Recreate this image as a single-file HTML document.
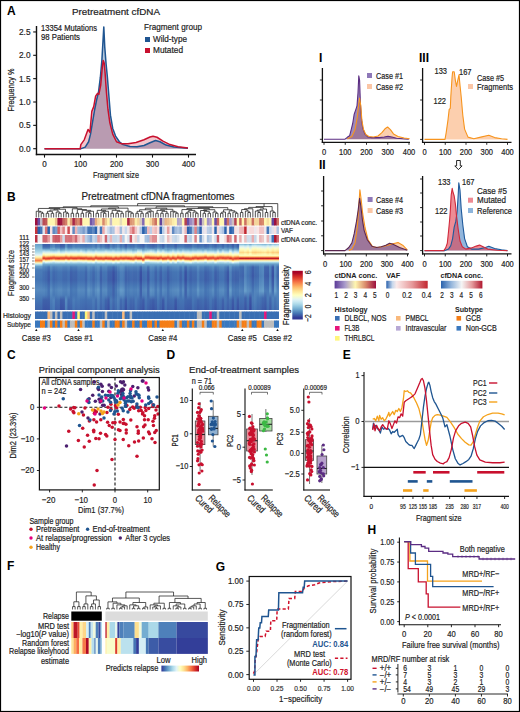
<!DOCTYPE html>
<html><head><meta charset="utf-8"><style>
html,body{margin:0;padding:0;background:#fff;}
svg{display:block;}
text{font-family:"Liberation Sans", sans-serif;}
</style></head><body>
<svg width="520" height="712" viewBox="0 0 520 712">
<rect x="0" y="0" width="520" height="712" fill="#fff"/>
<text x="7.00" y="14.70" font-size="12" font-weight="bold" fill="#000">A</text>
<text x="116.00" y="14.90" font-size="9.6" text-anchor="middle" fill="#222" stroke="#222" stroke-width="0.2" textLength="88" lengthAdjust="spacingAndGlyphs">Pretreatment cfDNA</text>
<line x1="36.50" y1="26.00" x2="36.50" y2="155.20" stroke="#111" stroke-width="1.4"/>
<line x1="35.80" y1="154.50" x2="196.00" y2="154.50" stroke="#111" stroke-width="1.4"/>
<line x1="33.20" y1="148.70" x2="36.00" y2="148.70" stroke="#111" stroke-width="1.1"/>
<text x="30.50" y="151.70" font-size="9.12" text-anchor="end" fill="#222" stroke="#222" stroke-width="0.2" textLength="11.5" lengthAdjust="spacingAndGlyphs">0.0</text>
<line x1="33.20" y1="125.35" x2="36.00" y2="125.35" stroke="#111" stroke-width="1.1"/>
<text x="30.50" y="128.35" font-size="9.12" text-anchor="end" fill="#222" stroke="#222" stroke-width="0.2" textLength="11.5" lengthAdjust="spacingAndGlyphs">0.5</text>
<line x1="33.20" y1="102.00" x2="36.00" y2="102.00" stroke="#111" stroke-width="1.1"/>
<text x="30.50" y="105.00" font-size="9.12" text-anchor="end" fill="#222" stroke="#222" stroke-width="0.2" textLength="11.5" lengthAdjust="spacingAndGlyphs">1.0</text>
<line x1="33.20" y1="78.65" x2="36.00" y2="78.65" stroke="#111" stroke-width="1.1"/>
<text x="30.50" y="81.65" font-size="9.12" text-anchor="end" fill="#222" stroke="#222" stroke-width="0.2" textLength="11.5" lengthAdjust="spacingAndGlyphs">1.5</text>
<line x1="33.20" y1="55.30" x2="36.00" y2="55.30" stroke="#111" stroke-width="1.1"/>
<text x="30.50" y="58.30" font-size="9.12" text-anchor="end" fill="#222" stroke="#222" stroke-width="0.2" textLength="11.5" lengthAdjust="spacingAndGlyphs">2.0</text>
<line x1="33.20" y1="31.95" x2="36.00" y2="31.95" stroke="#111" stroke-width="1.1"/>
<text x="30.50" y="34.95" font-size="9.12" text-anchor="end" fill="#222" stroke="#222" stroke-width="0.2" textLength="11.5" lengthAdjust="spacingAndGlyphs">2.5</text>
<line x1="44.50" y1="155.00" x2="44.50" y2="157.60" stroke="#111" stroke-width="1.1"/>
<text x="44.50" y="167.00" font-size="9.12" text-anchor="middle" fill="#222" stroke="#222" stroke-width="0.2" textLength="4.5" lengthAdjust="spacingAndGlyphs">0</text>
<line x1="80.50" y1="155.00" x2="80.50" y2="157.60" stroke="#111" stroke-width="1.1"/>
<text x="80.50" y="167.00" font-size="9.12" text-anchor="middle" fill="#222" stroke="#222" stroke-width="0.2" textLength="13" lengthAdjust="spacingAndGlyphs">100</text>
<line x1="116.50" y1="155.00" x2="116.50" y2="157.60" stroke="#111" stroke-width="1.1"/>
<text x="116.50" y="167.00" font-size="9.12" text-anchor="middle" fill="#222" stroke="#222" stroke-width="0.2" textLength="13" lengthAdjust="spacingAndGlyphs">200</text>
<line x1="152.50" y1="155.00" x2="152.50" y2="157.60" stroke="#111" stroke-width="1.1"/>
<text x="152.50" y="167.00" font-size="9.12" text-anchor="middle" fill="#222" stroke="#222" stroke-width="0.2" textLength="13" lengthAdjust="spacingAndGlyphs">300</text>
<line x1="188.50" y1="155.00" x2="188.50" y2="157.60" stroke="#111" stroke-width="1.1"/>
<text x="188.50" y="167.00" font-size="9.12" text-anchor="middle" fill="#222" stroke="#222" stroke-width="0.2" textLength="13" lengthAdjust="spacingAndGlyphs">400</text>
<text x="116.00" y="178.00" font-size="9.69" text-anchor="middle" fill="#222" stroke="#222" stroke-width="0.2" textLength="46" lengthAdjust="spacingAndGlyphs">Fragment size</text>
<text x="13.80" y="90.00" font-size="9.69" text-anchor="middle" fill="#222" stroke="#222" stroke-width="0.2" textLength="43" lengthAdjust="spacingAndGlyphs" transform="rotate(-90 13.80 90.00)">Frequency %</text>
<text x="41.00" y="31.00" font-size="8.55" fill="#222" stroke="#222" stroke-width="0.2" textLength="56" lengthAdjust="spacingAndGlyphs">13354 Mutations</text>
<text x="41.00" y="40.00" font-size="8.55" fill="#222" stroke="#222" stroke-width="0.2" textLength="39" lengthAdjust="spacingAndGlyphs">98 Patients</text>
<text x="144.00" y="30.00" font-size="9.69" fill="#222" stroke="#222" stroke-width="0.2" textLength="58" lengthAdjust="spacingAndGlyphs">Fragment group</text>
<rect x="145.00" y="37.00" width="5.00" height="5.00" fill="#1f5591"/>
<text x="153.00" y="42.00" font-size="9.12" fill="#222" stroke="#222" stroke-width="0.2" textLength="34" lengthAdjust="spacingAndGlyphs">Wild-type</text>
<rect x="145.00" y="48.00" width="5.00" height="5.00" fill="#c8102e"/>
<text x="153.00" y="53.00" font-size="9.12" fill="#222" stroke="#222" stroke-width="0.2" textLength="30" lengthAdjust="spacingAndGlyphs">Mutated</text>
<polygon points="44.50,148.85 80.44,148.85 85.19,147.08 88.61,141.76 90.51,134.17 92.40,122.78 94.68,109.48 96.58,99.99 98.48,92.40 100.38,77.21 101.90,60.12 102.66,46.83 103.80,26.90 104.74,46.83 106.07,63.92 107.40,77.21 108.92,96.19 110.44,115.18 112.72,128.47 115.57,136.07 119.36,141.76 123.16,144.61 130.00,146.55 137.00,146.65 144.00,145.45 150.00,142.75 155.50,140.45 160.00,141.75 166.00,145.05 174.00,147.05 188.00,148.25 188.00,148.85 44.50,148.85" fill="#1f5591" stroke="none" fill-opacity="0.33"/>
<polygon points="44.50,148.85 80.20,148.85 80.82,144.61 84.24,139.86 88.04,129.42 89.94,132.27 91.83,111.38 93.73,106.64 95.63,96.19 97.53,93.35 98.86,94.30 100.76,84.80 102.28,67.72 103.23,60.50 104.18,62.97 105.12,73.41 106.45,92.40 107.97,109.48 109.87,122.78 112.72,134.17 116.52,141.76 121.26,143.66 128.00,143.85 136.00,142.45 144.00,139.75 150.00,137.05 153.00,136.25 157.00,137.25 163.00,141.05 170.00,144.55 178.00,146.75 188.00,148.05 188.00,148.85 44.50,148.85" fill="#c8102e" stroke="none" fill-opacity="0.24"/>
<polyline points="44.50,148.85 80.44,148.85 85.19,147.08 88.61,141.76 90.51,134.17 92.40,122.78 94.68,109.48 96.58,99.99 98.48,92.40 100.38,77.21 101.90,60.12 102.66,46.83 103.80,26.90 104.74,46.83 106.07,63.92 107.40,77.21 108.92,96.19 110.44,115.18 112.72,128.47 115.57,136.07 119.36,141.76 123.16,144.61 130.00,146.55 137.00,146.65 144.00,145.45 150.00,142.75 155.50,140.45 160.00,141.75 166.00,145.05 174.00,147.05 188.00,148.25" fill="none" stroke="#1f5591" stroke-width="1.5" stroke-linejoin="round"/>
<polyline points="44.50,148.85 80.20,148.85 80.82,144.61 84.24,139.86 88.04,129.42 89.94,132.27 91.83,111.38 93.73,106.64 95.63,96.19 97.53,93.35 98.86,94.30 100.76,84.80 102.28,67.72 103.23,60.50 104.18,62.97 105.12,73.41 106.45,92.40 107.97,109.48 109.87,122.78 112.72,134.17 116.52,141.76 121.26,143.66 128.00,143.85 136.00,142.45 144.00,139.75 150.00,137.05 153.00,136.25 157.00,137.25 163.00,141.05 170.00,144.55 178.00,146.75 188.00,148.05" fill="none" stroke="#c8102e" stroke-width="1.5" stroke-linejoin="round"/>
<rect x="0.50" y="0.50" width="519.00" height="711.00" fill="none" stroke="#000" stroke-width="1.2"/>
<text x="7.00" y="200.70" font-size="12" font-weight="bold" fill="#000">B</text>
<text x="158.00" y="199.50" font-size="10" text-anchor="middle" fill="#222" stroke="#222" stroke-width="0.2" textLength="153" lengthAdjust="spacingAndGlyphs">Pretreatment cfDNA fragmentomes</text>
<path d="M41.22,217.50V213.27H43.71V217.50" stroke="#1a1a1a" stroke-width="0.75" fill="none"/>
<path d="M38.73,217.50V212.05H42.47V213.27" stroke="#1a1a1a" stroke-width="0.75" fill="none"/>
<path d="M36.24,217.50V211.25H40.60V212.05" stroke="#1a1a1a" stroke-width="0.75" fill="none"/>
<path d="M46.20,217.50V213.27H48.69V217.50" stroke="#1a1a1a" stroke-width="0.75" fill="none"/>
<path d="M51.18,217.50V213.27H53.67V217.50" stroke="#1a1a1a" stroke-width="0.75" fill="none"/>
<path d="M47.45,213.27V211.31H52.43V213.27" stroke="#1a1a1a" stroke-width="0.75" fill="none"/>
<path d="M58.65,217.50V213.27H61.14V217.50" stroke="#1a1a1a" stroke-width="0.75" fill="none"/>
<path d="M56.16,217.50V212.05H59.90V213.27" stroke="#1a1a1a" stroke-width="0.75" fill="none"/>
<path d="M49.94,211.31V210.04H58.03V212.05" stroke="#1a1a1a" stroke-width="0.75" fill="none"/>
<path d="M66.12,217.50V213.27H68.61V217.50" stroke="#1a1a1a" stroke-width="0.75" fill="none"/>
<path d="M63.63,217.50V212.05H67.37V213.27" stroke="#1a1a1a" stroke-width="0.75" fill="none"/>
<path d="M53.98,210.04V209.24H65.50V212.05" stroke="#1a1a1a" stroke-width="0.75" fill="none"/>
<path d="M38.42,211.25V208.44H59.74V209.24" stroke="#1a1a1a" stroke-width="0.75" fill="none"/>
<path d="M71.10,217.50V213.27H73.59V217.50" stroke="#1a1a1a" stroke-width="0.75" fill="none"/>
<path d="M76.08,217.50V213.27H78.57V217.50" stroke="#1a1a1a" stroke-width="0.75" fill="none"/>
<path d="M81.06,217.50V213.27H83.55V217.50" stroke="#1a1a1a" stroke-width="0.75" fill="none"/>
<path d="M88.53,217.50V213.27H91.02V217.50" stroke="#1a1a1a" stroke-width="0.75" fill="none"/>
<path d="M86.04,217.50V212.05H89.78V213.27" stroke="#1a1a1a" stroke-width="0.75" fill="none"/>
<path d="M87.91,212.05V211.25H93.51V217.50" stroke="#1a1a1a" stroke-width="0.75" fill="none"/>
<path d="M82.31,213.27V210.37H90.71V211.25" stroke="#1a1a1a" stroke-width="0.75" fill="none"/>
<path d="M77.33,213.27V209.57H86.51V210.37" stroke="#1a1a1a" stroke-width="0.75" fill="none"/>
<path d="M72.35,213.27V208.77H81.92V209.57" stroke="#1a1a1a" stroke-width="0.75" fill="none"/>
<path d="M49.08,208.44V207.64H77.13V208.77" stroke="#1a1a1a" stroke-width="0.75" fill="none"/>
<path d="M96.00,217.50V213.27H98.49V217.50" stroke="#1a1a1a" stroke-width="0.75" fill="none"/>
<path d="M103.47,217.50V213.27H105.96V217.50" stroke="#1a1a1a" stroke-width="0.75" fill="none"/>
<path d="M100.98,217.50V212.05H104.71V213.27" stroke="#1a1a1a" stroke-width="0.75" fill="none"/>
<path d="M102.85,212.05V211.25H108.45V217.50" stroke="#1a1a1a" stroke-width="0.75" fill="none"/>
<path d="M97.24,213.27V210.37H105.65V211.25" stroke="#1a1a1a" stroke-width="0.75" fill="none"/>
<path d="M110.94,217.50V213.27H113.43V217.50" stroke="#1a1a1a" stroke-width="0.75" fill="none"/>
<path d="M115.92,217.50V213.27H118.41V217.50" stroke="#1a1a1a" stroke-width="0.75" fill="none"/>
<path d="M120.90,217.50V213.27H123.39V217.50" stroke="#1a1a1a" stroke-width="0.75" fill="none"/>
<path d="M117.16,213.27V211.31H122.14V213.27" stroke="#1a1a1a" stroke-width="0.75" fill="none"/>
<path d="M112.18,213.27V210.37H119.65V211.31" stroke="#1a1a1a" stroke-width="0.75" fill="none"/>
<path d="M101.45,210.37V208.96H115.92V210.37" stroke="#1a1a1a" stroke-width="0.75" fill="none"/>
<path d="M130.86,217.50V213.27H133.35V217.50" stroke="#1a1a1a" stroke-width="0.75" fill="none"/>
<path d="M128.37,217.50V212.05H132.10V213.27" stroke="#1a1a1a" stroke-width="0.75" fill="none"/>
<path d="M125.88,217.50V211.25H130.23V212.05" stroke="#1a1a1a" stroke-width="0.75" fill="none"/>
<path d="M108.68,208.96V208.16H128.06V211.25" stroke="#1a1a1a" stroke-width="0.75" fill="none"/>
<path d="M63.11,207.64V206.84H118.37V208.16" stroke="#1a1a1a" stroke-width="0.75" fill="none"/>
<path d="M135.84,217.50V213.27H138.33V217.50" stroke="#1a1a1a" stroke-width="0.75" fill="none"/>
<path d="M140.82,217.50V213.27H143.31V217.50" stroke="#1a1a1a" stroke-width="0.75" fill="none"/>
<path d="M137.08,213.27V211.31H142.06V213.27" stroke="#1a1a1a" stroke-width="0.75" fill="none"/>
<path d="M145.80,217.50V213.27H148.29V217.50" stroke="#1a1a1a" stroke-width="0.75" fill="none"/>
<path d="M147.04,213.27V212.05H150.78V217.50" stroke="#1a1a1a" stroke-width="0.75" fill="none"/>
<path d="M148.91,212.05V211.25H153.27V217.50" stroke="#1a1a1a" stroke-width="0.75" fill="none"/>
<path d="M139.57,211.31V209.76H151.09V211.25" stroke="#1a1a1a" stroke-width="0.75" fill="none"/>
<path d="M155.76,217.50V213.27H158.24V217.50" stroke="#1a1a1a" stroke-width="0.75" fill="none"/>
<path d="M160.73,217.50V213.27H163.22V217.50" stroke="#1a1a1a" stroke-width="0.75" fill="none"/>
<path d="M165.71,217.50V213.27H168.20V217.50" stroke="#1a1a1a" stroke-width="0.75" fill="none"/>
<path d="M161.98,213.27V211.31H166.96V213.27" stroke="#1a1a1a" stroke-width="0.75" fill="none"/>
<path d="M157.00,213.27V210.37H164.47V211.31" stroke="#1a1a1a" stroke-width="0.75" fill="none"/>
<path d="M175.67,217.50V213.27H178.16V217.50" stroke="#1a1a1a" stroke-width="0.75" fill="none"/>
<path d="M173.18,217.50V212.05H176.92V213.27" stroke="#1a1a1a" stroke-width="0.75" fill="none"/>
<path d="M170.69,217.50V211.25H175.05V212.05" stroke="#1a1a1a" stroke-width="0.75" fill="none"/>
<path d="M160.73,210.37V209.31H172.87V211.25" stroke="#1a1a1a" stroke-width="0.75" fill="none"/>
<path d="M145.33,209.76V208.22H166.80V209.31" stroke="#1a1a1a" stroke-width="0.75" fill="none"/>
<path d="M180.65,217.50V213.27H183.14V217.50" stroke="#1a1a1a" stroke-width="0.75" fill="none"/>
<path d="M185.63,217.50V213.27H188.12V217.50" stroke="#1a1a1a" stroke-width="0.75" fill="none"/>
<path d="M186.88,213.27V212.05H190.61V217.50" stroke="#1a1a1a" stroke-width="0.75" fill="none"/>
<path d="M195.59,217.50V213.27H198.08V217.50" stroke="#1a1a1a" stroke-width="0.75" fill="none"/>
<path d="M193.10,217.50V212.05H196.84V213.27" stroke="#1a1a1a" stroke-width="0.75" fill="none"/>
<path d="M188.74,212.05V210.37H194.97V212.05" stroke="#1a1a1a" stroke-width="0.75" fill="none"/>
<path d="M181.90,213.27V209.57H191.86V210.37" stroke="#1a1a1a" stroke-width="0.75" fill="none"/>
<path d="M203.06,217.50V213.27H205.55V217.50" stroke="#1a1a1a" stroke-width="0.75" fill="none"/>
<path d="M208.04,217.50V213.27H210.53V217.50" stroke="#1a1a1a" stroke-width="0.75" fill="none"/>
<path d="M204.31,213.27V211.31H209.29V213.27" stroke="#1a1a1a" stroke-width="0.75" fill="none"/>
<path d="M200.57,217.50V210.51H206.80V211.31" stroke="#1a1a1a" stroke-width="0.75" fill="none"/>
<path d="M215.51,217.50V213.27H218.00V217.50" stroke="#1a1a1a" stroke-width="0.75" fill="none"/>
<path d="M213.02,217.50V212.05H216.76V213.27" stroke="#1a1a1a" stroke-width="0.75" fill="none"/>
<path d="M203.68,210.51V209.71H214.89V212.05" stroke="#1a1a1a" stroke-width="0.75" fill="none"/>
<path d="M186.88,209.57V208.43H209.29V209.71" stroke="#1a1a1a" stroke-width="0.75" fill="none"/>
<path d="M220.49,217.50V213.27H222.98V217.50" stroke="#1a1a1a" stroke-width="0.75" fill="none"/>
<path d="M221.73,213.27V212.05H225.47V217.50" stroke="#1a1a1a" stroke-width="0.75" fill="none"/>
<path d="M227.96,217.50V213.27H230.45V217.50" stroke="#1a1a1a" stroke-width="0.75" fill="none"/>
<path d="M235.43,217.50V213.27H237.92V217.50" stroke="#1a1a1a" stroke-width="0.75" fill="none"/>
<path d="M232.94,217.50V212.05H236.67V213.27" stroke="#1a1a1a" stroke-width="0.75" fill="none"/>
<path d="M229.20,213.27V210.78H234.81V212.05" stroke="#1a1a1a" stroke-width="0.75" fill="none"/>
<path d="M223.60,212.05V209.76H232.01V210.78" stroke="#1a1a1a" stroke-width="0.75" fill="none"/>
<path d="M198.08,208.43V207.63H227.80V209.76" stroke="#1a1a1a" stroke-width="0.75" fill="none"/>
<path d="M156.07,208.22V206.81H212.94V207.63" stroke="#1a1a1a" stroke-width="0.75" fill="none"/>
<path d="M90.74,206.84V205.80H184.50V206.81" stroke="#1a1a1a" stroke-width="0.75" fill="none"/>
<path d="M240.41,217.50V212.49H242.90V217.50" stroke="#1a1a1a" stroke-width="0.75" fill="none"/>
<path d="M247.88,217.50V212.49H250.37V217.50" stroke="#1a1a1a" stroke-width="0.75" fill="none"/>
<path d="M245.39,217.50V211.05H249.12V212.49" stroke="#1a1a1a" stroke-width="0.75" fill="none"/>
<path d="M241.65,212.49V209.54H247.26V211.05" stroke="#1a1a1a" stroke-width="0.75" fill="none"/>
<path d="M244.45,209.54V208.74H252.86V217.50" stroke="#1a1a1a" stroke-width="0.75" fill="none"/>
<path d="M257.84,217.50V212.49H260.33V217.50" stroke="#1a1a1a" stroke-width="0.75" fill="none"/>
<path d="M255.35,217.50V211.05H259.08V212.49" stroke="#1a1a1a" stroke-width="0.75" fill="none"/>
<path d="M257.21,211.05V210.17H262.82V217.50" stroke="#1a1a1a" stroke-width="0.75" fill="none"/>
<path d="M265.31,217.50V212.49H267.80V217.50" stroke="#1a1a1a" stroke-width="0.75" fill="none"/>
<path d="M260.02,210.17V209.05H266.55V212.49" stroke="#1a1a1a" stroke-width="0.75" fill="none"/>
<path d="M248.66,208.74V207.39H263.28V209.05" stroke="#1a1a1a" stroke-width="0.75" fill="none"/>
<path d="M272.78,217.50V212.49H275.27V217.50" stroke="#1a1a1a" stroke-width="0.75" fill="none"/>
<path d="M270.29,217.50V211.05H274.02V212.49" stroke="#1a1a1a" stroke-width="0.75" fill="none"/>
<path d="M255.97,207.39V206.59H272.15V211.05" stroke="#1a1a1a" stroke-width="0.75" fill="none"/>
<path d="M137.62,205.80V203.6H277.76V217.5" stroke="#1a1a1a" stroke-width="0.75" fill="none"/>
<path d="M264.06,206.59V203.6" stroke="#1a1a1a" stroke-width="0.75" fill="none"/>
<rect x="35.00" y="218.00" width="2.99" height="7.50" fill="#9c0f3e"/>
<rect x="35.00" y="226.50" width="2.99" height="7.50" fill="#c7353d"/>
<rect x="35.00" y="235.00" width="2.99" height="7.50" fill="#ba3245"/>
<rect x="37.49" y="218.00" width="2.99" height="7.50" fill="#6b4da2"/>
<rect x="37.49" y="226.50" width="2.99" height="7.50" fill="#2a62ad"/>
<rect x="37.49" y="235.00" width="2.99" height="7.50" fill="#ebeff2"/>
<rect x="39.98" y="218.00" width="2.99" height="7.50" fill="#c3b6c3"/>
<rect x="39.98" y="226.50" width="2.99" height="7.50" fill="#4476b8"/>
<rect x="39.98" y="235.00" width="2.99" height="7.50" fill="#f5f5f5"/>
<rect x="42.47" y="218.00" width="2.99" height="7.50" fill="#ba4c54"/>
<rect x="42.47" y="226.50" width="2.99" height="7.50" fill="#e2e1eb"/>
<rect x="42.47" y="235.00" width="2.99" height="7.50" fill="#cf6670"/>
<rect x="44.96" y="218.00" width="2.99" height="7.50" fill="#c15859"/>
<rect x="44.96" y="226.50" width="2.99" height="7.50" fill="#da7376"/>
<rect x="44.96" y="235.00" width="2.99" height="7.50" fill="#cf6670"/>
<rect x="47.45" y="218.00" width="2.99" height="7.50" fill="#fff6b0"/>
<rect x="47.45" y="226.50" width="2.99" height="7.50" fill="#2a62ad"/>
<rect x="47.45" y="235.00" width="2.99" height="7.50" fill="#e49a9c"/>
<rect x="49.94" y="218.00" width="2.99" height="7.50" fill="#fff6b0"/>
<rect x="49.94" y="226.50" width="2.99" height="7.50" fill="#f8dfdf"/>
<rect x="49.94" y="235.00" width="2.99" height="7.50" fill="#f2e3e3"/>
<rect x="52.43" y="218.00" width="2.99" height="7.50" fill="#fff6b0"/>
<rect x="52.43" y="226.50" width="2.99" height="7.50" fill="#5f89c2"/>
<rect x="52.43" y="235.00" width="2.99" height="7.50" fill="#cf6670"/>
<rect x="54.92" y="218.00" width="2.99" height="7.50" fill="#ecc08e"/>
<rect x="54.92" y="226.50" width="2.99" height="7.50" fill="#799dcc"/>
<rect x="54.92" y="235.00" width="2.99" height="7.50" fill="#ca5966"/>
<rect x="57.41" y="218.00" width="2.99" height="7.50" fill="#9c0f3e"/>
<rect x="57.41" y="226.50" width="2.99" height="7.50" fill="#d35c61"/>
<rect x="57.41" y="235.00" width="2.99" height="7.50" fill="#ca5966"/>
<rect x="59.90" y="218.00" width="2.99" height="7.50" fill="#a21b42"/>
<rect x="59.90" y="226.50" width="2.99" height="7.50" fill="#f0bfbf"/>
<rect x="59.90" y="235.00" width="2.99" height="7.50" fill="#e49a9c"/>
<rect x="62.39" y="218.00" width="2.99" height="7.50" fill="#c7645e"/>
<rect x="62.39" y="226.50" width="2.99" height="7.50" fill="#df8285"/>
<rect x="62.39" y="235.00" width="2.99" height="7.50" fill="#cfdceb"/>
<rect x="64.88" y="218.00" width="2.99" height="7.50" fill="#d37d67"/>
<rect x="64.88" y="226.50" width="2.99" height="7.50" fill="#fbeaea"/>
<rect x="64.88" y="235.00" width="2.99" height="7.50" fill="#d4737b"/>
<rect x="67.37" y="218.00" width="2.99" height="7.50" fill="#fbeba9"/>
<rect x="67.37" y="226.50" width="2.99" height="7.50" fill="#ce4c53"/>
<rect x="67.37" y="235.00" width="2.99" height="7.50" fill="#d4737b"/>
<rect x="69.86" y="218.00" width="2.99" height="7.50" fill="#e19f79"/>
<rect x="69.86" y="226.50" width="2.99" height="7.50" fill="#fbeaea"/>
<rect x="69.86" y="235.00" width="2.99" height="7.50" fill="#d4737b"/>
<rect x="72.35" y="218.00" width="2.99" height="7.50" fill="#a82747"/>
<rect x="72.35" y="226.50" width="2.99" height="7.50" fill="#5f89c2"/>
<rect x="72.35" y="235.00" width="2.99" height="7.50" fill="#e49a9c"/>
<rect x="74.84" y="218.00" width="2.99" height="7.50" fill="#cd7162"/>
<rect x="74.84" y="226.50" width="2.99" height="7.50" fill="#edb4b5"/>
<rect x="74.84" y="235.00" width="2.99" height="7.50" fill="#cf6670"/>
<rect x="77.33" y="218.00" width="2.99" height="7.50" fill="#d9896b"/>
<rect x="77.33" y="226.50" width="2.99" height="7.50" fill="#a0badc"/>
<rect x="77.33" y="235.00" width="2.99" height="7.50" fill="#ebbec0"/>
<rect x="79.82" y="218.00" width="2.99" height="7.50" fill="#b44050"/>
<rect x="79.82" y="226.50" width="2.99" height="7.50" fill="#93b1d7"/>
<rect x="79.82" y="235.00" width="2.99" height="7.50" fill="#f0dada"/>
<rect x="82.31" y="218.00" width="2.99" height="7.50" fill="#fff6b0"/>
<rect x="82.31" y="226.50" width="2.99" height="7.50" fill="#799dcc"/>
<rect x="82.31" y="235.00" width="2.99" height="7.50" fill="#e7acae"/>
<rect x="84.80" y="218.00" width="2.99" height="7.50" fill="#fff6b0"/>
<rect x="84.80" y="226.50" width="2.99" height="7.50" fill="#a0badc"/>
<rect x="84.80" y="235.00" width="2.99" height="7.50" fill="#bbcfe6"/>
<rect x="87.29" y="218.00" width="2.99" height="7.50" fill="#fff6b0"/>
<rect x="87.29" y="226.50" width="2.99" height="7.50" fill="#4476b8"/>
<rect x="87.29" y="235.00" width="2.99" height="7.50" fill="#9fbcde"/>
<rect x="89.78" y="218.00" width="2.99" height="7.50" fill="#7257a7"/>
<rect x="89.78" y="226.50" width="2.99" height="7.50" fill="#4476b8"/>
<rect x="89.78" y="235.00" width="2.99" height="7.50" fill="#80a5d3"/>
<rect x="92.27" y="218.00" width="2.99" height="7.50" fill="#8a74b7"/>
<rect x="92.27" y="226.50" width="2.99" height="7.50" fill="#5f89c2"/>
<rect x="92.27" y="235.00" width="2.99" height="7.50" fill="#c5d6e8"/>
<rect x="94.76" y="218.00" width="2.99" height="7.50" fill="#e4aa80"/>
<rect x="94.76" y="226.50" width="2.99" height="7.50" fill="#2a62ad"/>
<rect x="94.76" y="235.00" width="2.99" height="7.50" fill="#b2c9e4"/>
<rect x="97.24" y="218.00" width="2.99" height="7.50" fill="#f4d59b"/>
<rect x="97.24" y="226.50" width="2.99" height="7.50" fill="#e2e1eb"/>
<rect x="97.24" y="235.00" width="2.99" height="7.50" fill="#e49a9c"/>
<rect x="99.73" y="218.00" width="2.99" height="7.50" fill="#fbeba9"/>
<rect x="99.73" y="226.50" width="2.99" height="7.50" fill="#4476b8"/>
<rect x="99.73" y="235.00" width="2.99" height="7.50" fill="#ebbec0"/>
<rect x="102.22" y="218.00" width="2.99" height="7.50" fill="#d9896b"/>
<rect x="102.22" y="226.50" width="2.99" height="7.50" fill="#eaa9aa"/>
<rect x="102.22" y="235.00" width="2.99" height="7.50" fill="#f3ecec"/>
<rect x="104.71" y="218.00" width="2.99" height="7.50" fill="#f0ca94"/>
<rect x="104.71" y="226.50" width="2.99" height="7.50" fill="#eee6ea"/>
<rect x="104.71" y="235.00" width="2.99" height="7.50" fill="#cf6670"/>
<rect x="107.20" y="218.00" width="2.99" height="7.50" fill="#fff6b0"/>
<rect x="107.20" y="226.50" width="2.99" height="7.50" fill="#c8d8ec"/>
<rect x="107.20" y="235.00" width="2.99" height="7.50" fill="#cfdceb"/>
<rect x="109.69" y="218.00" width="2.99" height="7.50" fill="#c3b6c3"/>
<rect x="109.69" y="226.50" width="2.99" height="7.50" fill="#a0badc"/>
<rect x="109.69" y="235.00" width="2.99" height="7.50" fill="#e9b5b7"/>
<rect x="112.18" y="218.00" width="2.99" height="7.50" fill="#fff6b0"/>
<rect x="112.18" y="226.50" width="2.99" height="7.50" fill="#aec4e2"/>
<rect x="112.18" y="235.00" width="2.99" height="7.50" fill="#c5d6e8"/>
<rect x="114.67" y="218.00" width="2.99" height="7.50" fill="#fff6b0"/>
<rect x="114.67" y="226.50" width="2.99" height="7.50" fill="#fae5e5"/>
<rect x="114.67" y="235.00" width="2.99" height="7.50" fill="#c5d6e8"/>
<rect x="117.16" y="218.00" width="2.99" height="7.50" fill="#fff6b0"/>
<rect x="117.16" y="226.50" width="2.99" height="7.50" fill="#f7dada"/>
<rect x="117.16" y="235.00" width="2.99" height="7.50" fill="#cfdceb"/>
<rect x="119.65" y="218.00" width="2.99" height="7.50" fill="#e5dbb8"/>
<rect x="119.65" y="226.50" width="2.99" height="7.50" fill="#a0badc"/>
<rect x="119.65" y="235.00" width="2.99" height="7.50" fill="#e7acae"/>
<rect x="122.14" y="218.00" width="2.99" height="7.50" fill="#fff6b0"/>
<rect x="122.14" y="226.50" width="2.99" height="7.50" fill="#eee6ea"/>
<rect x="122.14" y="235.00" width="2.99" height="7.50" fill="#b2c9e4"/>
<rect x="124.63" y="218.00" width="2.99" height="7.50" fill="#fff6b0"/>
<rect x="124.63" y="226.50" width="2.99" height="7.50" fill="#c8d8ec"/>
<rect x="124.63" y="235.00" width="2.99" height="7.50" fill="#f5f5f5"/>
<rect x="127.12" y="218.00" width="2.99" height="7.50" fill="#a82747"/>
<rect x="127.12" y="226.50" width="2.99" height="7.50" fill="#eee6ea"/>
<rect x="127.12" y="235.00" width="2.99" height="7.50" fill="#d8e2ee"/>
<rect x="129.61" y="218.00" width="2.99" height="7.50" fill="#dd9472"/>
<rect x="129.61" y="226.50" width="2.99" height="7.50" fill="#e9a4a5"/>
<rect x="129.61" y="235.00" width="2.99" height="7.50" fill="#ca5966"/>
<rect x="132.10" y="218.00" width="2.99" height="7.50" fill="#e19f79"/>
<rect x="132.10" y="226.50" width="2.99" height="7.50" fill="#da7376"/>
<rect x="132.10" y="235.00" width="2.99" height="7.50" fill="#f3ecec"/>
<rect x="134.59" y="218.00" width="2.99" height="7.50" fill="#fbeba9"/>
<rect x="134.59" y="226.50" width="2.99" height="7.50" fill="#f1c4c5"/>
<rect x="134.59" y="235.00" width="2.99" height="7.50" fill="#eed1d1"/>
<rect x="137.08" y="218.00" width="2.99" height="7.50" fill="#f4d59b"/>
<rect x="137.08" y="226.50" width="2.99" height="7.50" fill="#eee6ea"/>
<rect x="137.08" y="235.00" width="2.99" height="7.50" fill="#c5d6e8"/>
<rect x="139.57" y="218.00" width="2.99" height="7.50" fill="#d4c8be"/>
<rect x="139.57" y="226.50" width="2.99" height="7.50" fill="#aec4e2"/>
<rect x="139.57" y="235.00" width="2.99" height="7.50" fill="#f5f5f5"/>
<rect x="142.06" y="218.00" width="2.99" height="7.50" fill="#826ab2"/>
<rect x="142.06" y="226.50" width="2.99" height="7.50" fill="#2a62ad"/>
<rect x="142.06" y="235.00" width="2.99" height="7.50" fill="#f5f5f5"/>
<rect x="144.55" y="218.00" width="2.99" height="7.50" fill="#fff6b0"/>
<rect x="144.55" y="226.50" width="2.99" height="7.50" fill="#5f89c2"/>
<rect x="144.55" y="235.00" width="2.99" height="7.50" fill="#a8c3e1"/>
<rect x="147.04" y="218.00" width="2.99" height="7.50" fill="#fff6b0"/>
<rect x="147.04" y="226.50" width="2.99" height="7.50" fill="#eeb9ba"/>
<rect x="147.04" y="235.00" width="2.99" height="7.50" fill="#9fbcde"/>
<rect x="149.53" y="218.00" width="2.99" height="7.50" fill="#f4d59b"/>
<rect x="149.53" y="226.50" width="2.99" height="7.50" fill="#bbcee7"/>
<rect x="149.53" y="235.00" width="2.99" height="7.50" fill="#e7acae"/>
<rect x="152.02" y="218.00" width="2.99" height="7.50" fill="#e19f79"/>
<rect x="152.02" y="226.50" width="2.99" height="7.50" fill="#f3caca"/>
<rect x="152.02" y="235.00" width="2.99" height="7.50" fill="#df8d91"/>
<rect x="154.51" y="218.00" width="2.99" height="7.50" fill="#cd7162"/>
<rect x="154.51" y="226.50" width="2.99" height="7.50" fill="#eeb9ba"/>
<rect x="154.51" y="235.00" width="2.99" height="7.50" fill="#df8d91"/>
<rect x="157.00" y="218.00" width="2.99" height="7.50" fill="#fff6b0"/>
<rect x="157.00" y="226.50" width="2.99" height="7.50" fill="#f8dfdf"/>
<rect x="157.00" y="235.00" width="2.99" height="7.50" fill="#f5f5f5"/>
<rect x="159.49" y="218.00" width="2.99" height="7.50" fill="#63449d"/>
<rect x="159.49" y="226.50" width="2.99" height="7.50" fill="#2a62ad"/>
<rect x="159.49" y="235.00" width="2.99" height="7.50" fill="#cfdceb"/>
<rect x="161.98" y="218.00" width="2.99" height="7.50" fill="#cbbfc0"/>
<rect x="161.98" y="226.50" width="2.99" height="7.50" fill="#bbcee7"/>
<rect x="161.98" y="235.00" width="2.99" height="7.50" fill="#c5d6e8"/>
<rect x="164.47" y="218.00" width="2.99" height="7.50" fill="#e8b587"/>
<rect x="164.47" y="226.50" width="2.99" height="7.50" fill="#eee6ea"/>
<rect x="164.47" y="235.00" width="2.99" height="7.50" fill="#f5f5f5"/>
<rect x="166.96" y="218.00" width="2.99" height="7.50" fill="#ecc08e"/>
<rect x="166.96" y="226.50" width="2.99" height="7.50" fill="#e79e9f"/>
<rect x="166.96" y="235.00" width="2.99" height="7.50" fill="#ebbec0"/>
<rect x="169.45" y="218.00" width="2.99" height="7.50" fill="#f4d59b"/>
<rect x="169.45" y="226.50" width="2.99" height="7.50" fill="#eee6ea"/>
<rect x="169.45" y="235.00" width="2.99" height="7.50" fill="#f2e3e3"/>
<rect x="171.94" y="218.00" width="2.99" height="7.50" fill="#fbeba9"/>
<rect x="171.94" y="226.50" width="2.99" height="7.50" fill="#5f89c2"/>
<rect x="171.94" y="235.00" width="2.99" height="7.50" fill="#cfdceb"/>
<rect x="174.43" y="218.00" width="2.99" height="7.50" fill="#fff6b0"/>
<rect x="174.43" y="226.50" width="2.99" height="7.50" fill="#a0badc"/>
<rect x="174.43" y="235.00" width="2.99" height="7.50" fill="#c5d6e8"/>
<rect x="176.92" y="218.00" width="2.99" height="7.50" fill="#b2a4c8"/>
<rect x="176.92" y="226.50" width="2.99" height="7.50" fill="#aec4e2"/>
<rect x="176.92" y="235.00" width="2.99" height="7.50" fill="#d8e2ee"/>
<rect x="179.41" y="218.00" width="2.99" height="7.50" fill="#baadc6"/>
<rect x="179.41" y="226.50" width="2.99" height="7.50" fill="#93b1d7"/>
<rect x="179.41" y="235.00" width="2.99" height="7.50" fill="#f5f5f5"/>
<rect x="181.90" y="218.00" width="2.99" height="7.50" fill="#fff6b0"/>
<rect x="181.90" y="226.50" width="2.99" height="7.50" fill="#eee6ea"/>
<rect x="181.90" y="235.00" width="2.99" height="7.50" fill="#f5f5f5"/>
<rect x="184.39" y="218.00" width="2.99" height="7.50" fill="#b44050"/>
<rect x="184.39" y="226.50" width="2.99" height="7.50" fill="#eeb9ba"/>
<rect x="184.39" y="235.00" width="2.99" height="7.50" fill="#cf6670"/>
<rect x="186.88" y="218.00" width="2.99" height="7.50" fill="#6b4da2"/>
<rect x="186.88" y="226.50" width="2.99" height="7.50" fill="#2a62ad"/>
<rect x="186.88" y="235.00" width="2.99" height="7.50" fill="#cfdceb"/>
<rect x="189.37" y="218.00" width="2.99" height="7.50" fill="#9988c1"/>
<rect x="189.37" y="226.50" width="2.99" height="7.50" fill="#4476b8"/>
<rect x="189.37" y="235.00" width="2.99" height="7.50" fill="#bbcfe6"/>
<rect x="191.86" y="218.00" width="2.99" height="7.50" fill="#b2a4c8"/>
<rect x="191.86" y="226.50" width="2.99" height="7.50" fill="#a0badc"/>
<rect x="191.86" y="235.00" width="2.99" height="7.50" fill="#ebeff2"/>
<rect x="194.35" y="218.00" width="2.99" height="7.50" fill="#b44050"/>
<rect x="194.35" y="226.50" width="2.99" height="7.50" fill="#df8285"/>
<rect x="194.35" y="235.00" width="2.99" height="7.50" fill="#da8086"/>
<rect x="196.84" y="218.00" width="2.99" height="7.50" fill="#ddd2bb"/>
<rect x="196.84" y="226.50" width="2.99" height="7.50" fill="#86a7d2"/>
<rect x="196.84" y="235.00" width="2.99" height="7.50" fill="#f5f5f5"/>
<rect x="199.33" y="218.00" width="2.99" height="7.50" fill="#63449d"/>
<rect x="199.33" y="226.50" width="2.99" height="7.50" fill="#2a62ad"/>
<rect x="199.33" y="235.00" width="2.99" height="7.50" fill="#6a94c9"/>
<rect x="201.82" y="218.00" width="2.99" height="7.50" fill="#cbbfc0"/>
<rect x="201.82" y="226.50" width="2.99" height="7.50" fill="#e2e1eb"/>
<rect x="201.82" y="235.00" width="2.99" height="7.50" fill="#cfdceb"/>
<rect x="204.31" y="218.00" width="2.99" height="7.50" fill="#fff6b0"/>
<rect x="204.31" y="226.50" width="2.99" height="7.50" fill="#eee6ea"/>
<rect x="204.31" y="235.00" width="2.99" height="7.50" fill="#f5f5f5"/>
<rect x="206.80" y="218.00" width="2.99" height="7.50" fill="#a191c6"/>
<rect x="206.80" y="226.50" width="2.99" height="7.50" fill="#bbcee7"/>
<rect x="206.80" y="235.00" width="2.99" height="7.50" fill="#a8c3e1"/>
<rect x="209.29" y="218.00" width="2.99" height="7.50" fill="#b2a4c8"/>
<rect x="209.29" y="226.50" width="2.99" height="7.50" fill="#aec4e2"/>
<rect x="209.29" y="235.00" width="2.99" height="7.50" fill="#bbcfe6"/>
<rect x="211.78" y="218.00" width="2.99" height="7.50" fill="#fff6b0"/>
<rect x="211.78" y="226.50" width="2.99" height="7.50" fill="#eee6ea"/>
<rect x="211.78" y="235.00" width="2.99" height="7.50" fill="#f5f5f5"/>
<rect x="214.27" y="218.00" width="2.99" height="7.50" fill="#6b4da2"/>
<rect x="214.27" y="226.50" width="2.99" height="7.50" fill="#2a62ad"/>
<rect x="214.27" y="235.00" width="2.99" height="7.50" fill="#cfdceb"/>
<rect x="216.76" y="218.00" width="2.99" height="7.50" fill="#c7645e"/>
<rect x="216.76" y="226.50" width="2.99" height="7.50" fill="#f7dada"/>
<rect x="216.76" y="235.00" width="2.99" height="7.50" fill="#ca5966"/>
<rect x="219.24" y="218.00" width="2.99" height="7.50" fill="#fff6b0"/>
<rect x="219.24" y="226.50" width="2.99" height="7.50" fill="#c8d8ec"/>
<rect x="219.24" y="235.00" width="2.99" height="7.50" fill="#f5f5f5"/>
<rect x="221.73" y="218.00" width="2.99" height="7.50" fill="#fff6b0"/>
<rect x="221.73" y="226.50" width="2.99" height="7.50" fill="#aec4e2"/>
<rect x="221.73" y="235.00" width="2.99" height="7.50" fill="#f5f5f5"/>
<rect x="224.22" y="218.00" width="2.99" height="7.50" fill="#6b4da2"/>
<rect x="224.22" y="226.50" width="2.99" height="7.50" fill="#2a62ad"/>
<rect x="224.22" y="235.00" width="2.99" height="7.50" fill="#f0dada"/>
<rect x="226.71" y="218.00" width="2.99" height="7.50" fill="#cd7162"/>
<rect x="226.71" y="226.50" width="2.99" height="7.50" fill="#eee6ea"/>
<rect x="226.71" y="235.00" width="2.99" height="7.50" fill="#cf6670"/>
<rect x="229.20" y="218.00" width="2.99" height="7.50" fill="#a99bcb"/>
<rect x="229.20" y="226.50" width="2.99" height="7.50" fill="#2a62ad"/>
<rect x="229.20" y="235.00" width="2.99" height="7.50" fill="#df8d91"/>
<rect x="231.69" y="218.00" width="2.99" height="7.50" fill="#cbbfc0"/>
<rect x="231.69" y="226.50" width="2.99" height="7.50" fill="#4476b8"/>
<rect x="231.69" y="235.00" width="2.99" height="7.50" fill="#f5f5f5"/>
<rect x="234.18" y="218.00" width="2.99" height="7.50" fill="#b44050"/>
<rect x="234.18" y="226.50" width="2.99" height="7.50" fill="#f8dfdf"/>
<rect x="234.18" y="235.00" width="2.99" height="7.50" fill="#cf6670"/>
<rect x="236.67" y="218.00" width="2.99" height="7.50" fill="#fff6b0"/>
<rect x="236.67" y="226.50" width="2.99" height="7.50" fill="#eee6ea"/>
<rect x="236.67" y="235.00" width="2.99" height="7.50" fill="#f5f5f5"/>
<rect x="239.16" y="218.00" width="2.99" height="7.50" fill="#c7645e"/>
<rect x="239.16" y="226.50" width="2.99" height="7.50" fill="#eeb9ba"/>
<rect x="239.16" y="235.00" width="2.99" height="7.50" fill="#e7acae"/>
<rect x="241.65" y="218.00" width="2.99" height="7.50" fill="#fff6b0"/>
<rect x="241.65" y="226.50" width="2.99" height="7.50" fill="#edb4b5"/>
<rect x="241.65" y="235.00" width="2.99" height="7.50" fill="#f5f5f5"/>
<rect x="244.14" y="218.00" width="2.99" height="7.50" fill="#cd7162"/>
<rect x="244.14" y="226.50" width="2.99" height="7.50" fill="#c2262f"/>
<rect x="244.14" y="235.00" width="2.99" height="7.50" fill="#ebbec0"/>
<rect x="246.63" y="218.00" width="2.99" height="7.50" fill="#f4d59b"/>
<rect x="246.63" y="226.50" width="2.99" height="7.50" fill="#eee6ea"/>
<rect x="246.63" y="235.00" width="2.99" height="7.50" fill="#cfdceb"/>
<rect x="249.12" y="218.00" width="2.99" height="7.50" fill="#f7e0a2"/>
<rect x="249.12" y="226.50" width="2.99" height="7.50" fill="#f7dada"/>
<rect x="249.12" y="235.00" width="2.99" height="7.50" fill="#cfdceb"/>
<rect x="251.61" y="218.00" width="2.99" height="7.50" fill="#cd7162"/>
<rect x="251.61" y="226.50" width="2.99" height="7.50" fill="#f7dada"/>
<rect x="251.61" y="235.00" width="2.99" height="7.50" fill="#e7acae"/>
<rect x="254.10" y="218.00" width="2.99" height="7.50" fill="#f4d59b"/>
<rect x="254.10" y="226.50" width="2.99" height="7.50" fill="#eee6ea"/>
<rect x="254.10" y="235.00" width="2.99" height="7.50" fill="#c5d6e8"/>
<rect x="256.59" y="218.00" width="2.99" height="7.50" fill="#f4d59b"/>
<rect x="256.59" y="226.50" width="2.99" height="7.50" fill="#fae5e5"/>
<rect x="256.59" y="235.00" width="2.99" height="7.50" fill="#f5f5f5"/>
<rect x="259.08" y="218.00" width="2.99" height="7.50" fill="#d37d67"/>
<rect x="259.08" y="226.50" width="2.99" height="7.50" fill="#f1c4c5"/>
<rect x="259.08" y="235.00" width="2.99" height="7.50" fill="#e9b5b7"/>
<rect x="261.57" y="218.00" width="2.99" height="7.50" fill="#d9896b"/>
<rect x="261.57" y="226.50" width="2.99" height="7.50" fill="#f1c4c5"/>
<rect x="261.57" y="235.00" width="2.99" height="7.50" fill="#ecc8c8"/>
<rect x="264.06" y="218.00" width="2.99" height="7.50" fill="#fff6b0"/>
<rect x="264.06" y="226.50" width="2.99" height="7.50" fill="#eee6ea"/>
<rect x="264.06" y="235.00" width="2.99" height="7.50" fill="#f5f5f5"/>
<rect x="266.55" y="218.00" width="2.99" height="7.50" fill="#f7e0a2"/>
<rect x="266.55" y="226.50" width="2.99" height="7.50" fill="#4476b8"/>
<rect x="266.55" y="235.00" width="2.99" height="7.50" fill="#e9b5b7"/>
<rect x="269.04" y="218.00" width="2.99" height="7.50" fill="#fff6b0"/>
<rect x="269.04" y="226.50" width="2.99" height="7.50" fill="#c8d8ec"/>
<rect x="269.04" y="235.00" width="2.99" height="7.50" fill="#cfdceb"/>
<rect x="271.53" y="218.00" width="2.99" height="7.50" fill="#63449d"/>
<rect x="271.53" y="226.50" width="2.99" height="7.50" fill="#e2e1eb"/>
<rect x="271.53" y="235.00" width="2.99" height="7.50" fill="#3f73b6"/>
<rect x="274.02" y="218.00" width="2.99" height="7.50" fill="#9c0f3e"/>
<rect x="274.02" y="226.50" width="2.99" height="7.50" fill="#f8dfdf"/>
<rect x="274.02" y="235.00" width="2.99" height="7.50" fill="#b0182f"/>
<rect x="276.51" y="218.00" width="2.49" height="7.50" fill="#cd7162"/>
<rect x="276.51" y="226.50" width="2.49" height="7.50" fill="#aec4e2"/>
<rect x="276.51" y="235.00" width="2.49" height="7.50" fill="#cf6670"/>
<text x="281.00" y="224.50" font-size="7.41" fill="#222" stroke="#222" stroke-width="0.2" textLength="36" lengthAdjust="spacingAndGlyphs">ctDNA conc.</text>
<text x="281.00" y="233.00" font-size="7.41" fill="#222" stroke="#222" stroke-width="0.2" textLength="12" lengthAdjust="spacingAndGlyphs">VAF</text>
<text x="281.00" y="241.50" font-size="7.41" fill="#222" stroke="#222" stroke-width="0.2" textLength="36" lengthAdjust="spacingAndGlyphs">cfDNA conc.</text>
<defs><linearGradient id="g1" x1="0" y1="0" x2="0" y2="1"><stop offset="0.000" stop-color="#689fca"/><stop offset="0.061" stop-color="#82b8d7"/><stop offset="0.121" stop-color="#abd9e9"/><stop offset="0.167" stop-color="#e0f3f8"/><stop offset="0.197" stop-color="#fff7b3"/><stop offset="0.227" stop-color="#fdba6d"/><stop offset="0.250" stop-color="#f67d4a"/><stop offset="0.270" stop-color="#fdba6d"/><stop offset="0.288" stop-color="#f7fccd"/><stop offset="0.311" stop-color="#abd9e9"/><stop offset="0.341" stop-color="#689fca"/><stop offset="0.394" stop-color="#4b7cb8"/><stop offset="0.545" stop-color="#4575b4"/><stop offset="0.697" stop-color="#578abf"/><stop offset="0.848" stop-color="#4575b4"/><stop offset="1.000" stop-color="#4065ac"/></linearGradient></defs>
<rect x="35.00" y="244.00" width="3.19" height="66.00" fill="url(#g1)"/>
<defs><linearGradient id="g2" x1="0" y1="0" x2="0" y2="1"><stop offset="0.000" stop-color="#689fca"/><stop offset="0.061" stop-color="#82b8d7"/><stop offset="0.121" stop-color="#abd9e9"/><stop offset="0.167" stop-color="#e0f3f8"/><stop offset="0.197" stop-color="#fff7b3"/><stop offset="0.227" stop-color="#fdba6d"/><stop offset="0.250" stop-color="#f67d4a"/><stop offset="0.270" stop-color="#fdba6d"/><stop offset="0.288" stop-color="#f7fccd"/><stop offset="0.311" stop-color="#abd9e9"/><stop offset="0.341" stop-color="#689fca"/><stop offset="0.394" stop-color="#4b7cb8"/><stop offset="0.545" stop-color="#4575b4"/><stop offset="0.697" stop-color="#578abf"/><stop offset="0.848" stop-color="#4575b4"/><stop offset="1.000" stop-color="#4065ac"/></linearGradient></defs>
<rect x="37.49" y="244.00" width="3.19" height="66.00" fill="url(#g2)"/>
<defs><linearGradient id="g3" x1="0" y1="0" x2="0" y2="1"><stop offset="0.000" stop-color="#689fca"/><stop offset="0.061" stop-color="#82b8d7"/><stop offset="0.121" stop-color="#abd9e9"/><stop offset="0.167" stop-color="#e0f3f8"/><stop offset="0.197" stop-color="#fff7b3"/><stop offset="0.227" stop-color="#fdba6d"/><stop offset="0.250" stop-color="#f67d4a"/><stop offset="0.270" stop-color="#fdba6d"/><stop offset="0.288" stop-color="#f7fccd"/><stop offset="0.311" stop-color="#abd9e9"/><stop offset="0.341" stop-color="#689fca"/><stop offset="0.394" stop-color="#4b7cb8"/><stop offset="0.545" stop-color="#4575b4"/><stop offset="0.697" stop-color="#578abf"/><stop offset="0.848" stop-color="#4575b4"/><stop offset="1.000" stop-color="#4065ac"/></linearGradient></defs>
<rect x="39.98" y="244.00" width="3.19" height="66.00" fill="url(#g3)"/>
<defs><linearGradient id="g4" x1="0" y1="0" x2="0" y2="1"><stop offset="0.000" stop-color="#3e5ea8"/><stop offset="0.045" stop-color="#4169ae"/><stop offset="0.068" stop-color="#578abf"/><stop offset="0.091" stop-color="#8cc0db"/><stop offset="0.114" stop-color="#c2e4f0"/><stop offset="0.136" stop-color="#ecf7e3"/><stop offset="0.154" stop-color="#ffffbf"/><stop offset="0.172" stop-color="#fee89c"/><stop offset="0.187" stop-color="#fdae61"/><stop offset="0.203" stop-color="#ed5e3c"/><stop offset="0.218" stop-color="#db382b"/><stop offset="0.231" stop-color="#f57547"/><stop offset="0.244" stop-color="#fed484"/><stop offset="0.256" stop-color="#ffffbf"/><stop offset="0.271" stop-color="#e0f3f8"/><stop offset="0.286" stop-color="#a4d4e6"/><stop offset="0.311" stop-color="#6ea6cd"/><stop offset="0.348" stop-color="#5487bd"/><stop offset="0.424" stop-color="#4471b2"/><stop offset="0.545" stop-color="#436db0"/><stop offset="0.636" stop-color="#4b7cb8"/><stop offset="0.697" stop-color="#5588be"/><stop offset="0.773" stop-color="#4e80ba"/><stop offset="0.848" stop-color="#3f62aa"/><stop offset="1.000" stop-color="#3b56a5"/></linearGradient></defs>
<rect x="42.47" y="244.00" width="3.19" height="66.00" fill="url(#g4)"/>
<defs><linearGradient id="g5" x1="0" y1="0" x2="0" y2="1"><stop offset="0.000" stop-color="#3d5da8"/><stop offset="0.045" stop-color="#4168ae"/><stop offset="0.068" stop-color="#5689bf"/><stop offset="0.091" stop-color="#85bbd8"/><stop offset="0.114" stop-color="#bbe1ee"/><stop offset="0.136" stop-color="#e8f6ea"/><stop offset="0.160" stop-color="#ffffbf"/><stop offset="0.178" stop-color="#fee89c"/><stop offset="0.194" stop-color="#fdae61"/><stop offset="0.209" stop-color="#ed5e3c"/><stop offset="0.224" stop-color="#dd3c2c"/><stop offset="0.237" stop-color="#f57547"/><stop offset="0.250" stop-color="#fed484"/><stop offset="0.262" stop-color="#ffffbf"/><stop offset="0.277" stop-color="#e0f3f8"/><stop offset="0.292" stop-color="#a4d4e6"/><stop offset="0.311" stop-color="#6ea6cd"/><stop offset="0.348" stop-color="#5082bb"/><stop offset="0.424" stop-color="#426cb0"/><stop offset="0.545" stop-color="#4168ae"/><stop offset="0.636" stop-color="#4778b5"/><stop offset="0.697" stop-color="#5082bb"/><stop offset="0.773" stop-color="#4a7bb7"/><stop offset="0.848" stop-color="#3f61aa"/><stop offset="1.000" stop-color="#3b55a4"/></linearGradient></defs>
<rect x="44.96" y="244.00" width="3.19" height="66.00" fill="url(#g5)"/>
<defs><linearGradient id="g6" x1="0" y1="0" x2="0" y2="1"><stop offset="0.000" stop-color="#3e5ea9"/><stop offset="0.045" stop-color="#416aae"/><stop offset="0.068" stop-color="#578abf"/><stop offset="0.091" stop-color="#88bdda"/><stop offset="0.114" stop-color="#bee2ee"/><stop offset="0.136" stop-color="#e9f7e7"/><stop offset="0.158" stop-color="#ffffbf"/><stop offset="0.176" stop-color="#fee89c"/><stop offset="0.191" stop-color="#fdae61"/><stop offset="0.206" stop-color="#ed5e3c"/><stop offset="0.221" stop-color="#dc3a2c"/><stop offset="0.235" stop-color="#f57547"/><stop offset="0.247" stop-color="#fed484"/><stop offset="0.259" stop-color="#ffffbf"/><stop offset="0.275" stop-color="#e0f3f8"/><stop offset="0.290" stop-color="#a4d4e6"/><stop offset="0.311" stop-color="#6ea6cd"/><stop offset="0.348" stop-color="#4676b5"/><stop offset="0.424" stop-color="#3e5fa9"/><stop offset="0.545" stop-color="#3d5ba7"/><stop offset="0.636" stop-color="#426baf"/><stop offset="0.697" stop-color="#4472b3"/><stop offset="0.773" stop-color="#436fb1"/><stop offset="0.848" stop-color="#3f62aa"/><stop offset="1.000" stop-color="#3b56a5"/></linearGradient></defs>
<rect x="47.45" y="244.00" width="3.19" height="66.00" fill="url(#g6)"/>
<defs><linearGradient id="g7" x1="0" y1="0" x2="0" y2="1"><stop offset="0.000" stop-color="#4777b5"/><stop offset="0.045" stop-color="#5082bb"/><stop offset="0.068" stop-color="#6aa1cb"/><stop offset="0.091" stop-color="#7db4d5"/><stop offset="0.114" stop-color="#b4ddeb"/><stop offset="0.136" stop-color="#e3f4f2"/><stop offset="0.155" stop-color="#ffffbf"/><stop offset="0.173" stop-color="#fee89c"/><stop offset="0.188" stop-color="#fdae61"/><stop offset="0.204" stop-color="#ed5e3c"/><stop offset="0.219" stop-color="#df402e"/><stop offset="0.232" stop-color="#f57547"/><stop offset="0.244" stop-color="#fed484"/><stop offset="0.257" stop-color="#ffffbf"/><stop offset="0.272" stop-color="#e0f3f8"/><stop offset="0.287" stop-color="#a4d4e6"/><stop offset="0.311" stop-color="#6ea6cd"/><stop offset="0.348" stop-color="#598dc0"/><stop offset="0.424" stop-color="#4778b5"/><stop offset="0.545" stop-color="#4574b4"/><stop offset="0.636" stop-color="#5082bb"/><stop offset="0.697" stop-color="#5b90c2"/><stop offset="0.773" stop-color="#5386bd"/><stop offset="0.848" stop-color="#4a7bb7"/><stop offset="1.000" stop-color="#4370b1"/></linearGradient></defs>
<rect x="49.94" y="244.00" width="3.19" height="66.00" fill="url(#g7)"/>
<defs><linearGradient id="g8" x1="0" y1="0" x2="0" y2="1"><stop offset="0.000" stop-color="#4e80ba"/><stop offset="0.045" stop-color="#578bbf"/><stop offset="0.068" stop-color="#72aacf"/><stop offset="0.091" stop-color="#74add1"/><stop offset="0.114" stop-color="#abd9e9"/><stop offset="0.136" stop-color="#dcf1f7"/><stop offset="0.152" stop-color="#ffffbf"/><stop offset="0.170" stop-color="#fee89c"/><stop offset="0.185" stop-color="#fdae61"/><stop offset="0.200" stop-color="#ed5e3c"/><stop offset="0.215" stop-color="#e14531"/><stop offset="0.229" stop-color="#f57547"/><stop offset="0.241" stop-color="#fed484"/><stop offset="0.253" stop-color="#ffffbf"/><stop offset="0.268" stop-color="#e0f3f8"/><stop offset="0.284" stop-color="#a4d4e6"/><stop offset="0.311" stop-color="#6ea6cd"/><stop offset="0.348" stop-color="#4e80ba"/><stop offset="0.424" stop-color="#416aaf"/><stop offset="0.545" stop-color="#4066ad"/><stop offset="0.636" stop-color="#4676b4"/><stop offset="0.697" stop-color="#4e7fb9"/><stop offset="0.773" stop-color="#4879b6"/><stop offset="0.848" stop-color="#5184bc"/><stop offset="1.000" stop-color="#4879b6"/></linearGradient></defs>
<rect x="52.43" y="244.00" width="3.19" height="66.00" fill="url(#g8)"/>
<defs><linearGradient id="g9" x1="0" y1="0" x2="0" y2="1"><stop offset="0.000" stop-color="#426aaf"/><stop offset="0.045" stop-color="#4676b4"/><stop offset="0.068" stop-color="#6095c5"/><stop offset="0.091" stop-color="#7ab1d3"/><stop offset="0.114" stop-color="#b0dceb"/><stop offset="0.136" stop-color="#e1f3f6"/><stop offset="0.156" stop-color="#ffffbf"/><stop offset="0.174" stop-color="#fee89c"/><stop offset="0.189" stop-color="#fdae61"/><stop offset="0.204" stop-color="#ed5e3c"/><stop offset="0.219" stop-color="#e0422f"/><stop offset="0.233" stop-color="#f57547"/><stop offset="0.245" stop-color="#fed484"/><stop offset="0.257" stop-color="#ffffbf"/><stop offset="0.272" stop-color="#e0f3f8"/><stop offset="0.288" stop-color="#a4d4e6"/><stop offset="0.311" stop-color="#6ea6cd"/><stop offset="0.348" stop-color="#5284bc"/><stop offset="0.424" stop-color="#436fb1"/><stop offset="0.545" stop-color="#426baf"/><stop offset="0.636" stop-color="#497ab7"/><stop offset="0.697" stop-color="#5285bc"/><stop offset="0.773" stop-color="#4c7db8"/><stop offset="0.848" stop-color="#436eb1"/><stop offset="1.000" stop-color="#3f62ab"/></linearGradient></defs>
<rect x="54.92" y="244.00" width="3.19" height="66.00" fill="url(#g9)"/>
<defs><linearGradient id="g10" x1="0" y1="0" x2="0" y2="1"><stop offset="0.000" stop-color="#426caf"/><stop offset="0.045" stop-color="#4777b5"/><stop offset="0.068" stop-color="#6197c6"/><stop offset="0.091" stop-color="#8dc1dc"/><stop offset="0.114" stop-color="#c3e5f0"/><stop offset="0.136" stop-color="#ecf8e1"/><stop offset="0.157" stop-color="#ffffbf"/><stop offset="0.175" stop-color="#fee89c"/><stop offset="0.190" stop-color="#fdae61"/><stop offset="0.205" stop-color="#ed5e3c"/><stop offset="0.220" stop-color="#da372a"/><stop offset="0.234" stop-color="#f57547"/><stop offset="0.246" stop-color="#fed484"/><stop offset="0.258" stop-color="#ffffbf"/><stop offset="0.274" stop-color="#e0f3f8"/><stop offset="0.289" stop-color="#a4d4e6"/><stop offset="0.311" stop-color="#6ea6cd"/><stop offset="0.348" stop-color="#568abf"/><stop offset="0.424" stop-color="#4575b4"/><stop offset="0.545" stop-color="#4471b2"/><stop offset="0.636" stop-color="#4e7fb9"/><stop offset="0.697" stop-color="#588cc0"/><stop offset="0.773" stop-color="#5183bb"/><stop offset="0.848" stop-color="#4370b1"/><stop offset="1.000" stop-color="#4064ac"/></linearGradient></defs>
<rect x="57.41" y="244.00" width="3.19" height="66.00" fill="url(#g10)"/>
<defs><linearGradient id="g11" x1="0" y1="0" x2="0" y2="1"><stop offset="0.000" stop-color="#3c58a6"/><stop offset="0.045" stop-color="#4064ac"/><stop offset="0.068" stop-color="#5385bd"/><stop offset="0.091" stop-color="#6ca4cc"/><stop offset="0.114" stop-color="#a2d2e5"/><stop offset="0.136" stop-color="#d4edf5"/><stop offset="0.155" stop-color="#ffffbf"/><stop offset="0.174" stop-color="#fee89c"/><stop offset="0.189" stop-color="#fdae61"/><stop offset="0.204" stop-color="#ed5e3c"/><stop offset="0.219" stop-color="#e34a33"/><stop offset="0.233" stop-color="#f57547"/><stop offset="0.245" stop-color="#fed484"/><stop offset="0.257" stop-color="#ffffbf"/><stop offset="0.272" stop-color="#e0f3f8"/><stop offset="0.287" stop-color="#a4d4e6"/><stop offset="0.311" stop-color="#6ea6cd"/><stop offset="0.348" stop-color="#578abf"/><stop offset="0.424" stop-color="#4575b4"/><stop offset="0.545" stop-color="#4471b2"/><stop offset="0.636" stop-color="#4e7fb9"/><stop offset="0.697" stop-color="#588cc0"/><stop offset="0.773" stop-color="#5183bb"/><stop offset="0.848" stop-color="#3d5ca8"/><stop offset="1.000" stop-color="#3950a2"/></linearGradient></defs>
<rect x="59.90" y="244.00" width="3.19" height="66.00" fill="url(#g11)"/>
<defs><linearGradient id="g12" x1="0" y1="0" x2="0" y2="1"><stop offset="0.000" stop-color="#3d5ba7"/><stop offset="0.045" stop-color="#4167ad"/><stop offset="0.068" stop-color="#5588be"/><stop offset="0.091" stop-color="#74add1"/><stop offset="0.114" stop-color="#abd9e9"/><stop offset="0.136" stop-color="#dcf1f7"/><stop offset="0.157" stop-color="#ffffbf"/><stop offset="0.175" stop-color="#fee89c"/><stop offset="0.190" stop-color="#fdae61"/><stop offset="0.205" stop-color="#ed5e3c"/><stop offset="0.221" stop-color="#e14531"/><stop offset="0.234" stop-color="#f57547"/><stop offset="0.246" stop-color="#fed484"/><stop offset="0.258" stop-color="#ffffbf"/><stop offset="0.274" stop-color="#e0f3f8"/><stop offset="0.289" stop-color="#a4d4e6"/><stop offset="0.311" stop-color="#6ea6cd"/><stop offset="0.348" stop-color="#5183bb"/><stop offset="0.424" stop-color="#436db0"/><stop offset="0.545" stop-color="#4169ae"/><stop offset="0.636" stop-color="#4879b6"/><stop offset="0.697" stop-color="#5183bb"/><stop offset="0.773" stop-color="#4b7cb8"/><stop offset="0.848" stop-color="#3e5fa9"/><stop offset="1.000" stop-color="#3a53a3"/></linearGradient></defs>
<rect x="62.39" y="244.00" width="3.19" height="66.00" fill="url(#g12)"/>
<defs><linearGradient id="g13" x1="0" y1="0" x2="0" y2="1"><stop offset="0.000" stop-color="#5386bd"/><stop offset="0.045" stop-color="#5c91c2"/><stop offset="0.068" stop-color="#77b0d2"/><stop offset="0.091" stop-color="#8abfdb"/><stop offset="0.114" stop-color="#c0e3ef"/><stop offset="0.136" stop-color="#eaf7e5"/><stop offset="0.151" stop-color="#ffffbf"/><stop offset="0.169" stop-color="#fee89c"/><stop offset="0.184" stop-color="#fdae61"/><stop offset="0.200" stop-color="#ed5e3c"/><stop offset="0.215" stop-color="#db392b"/><stop offset="0.228" stop-color="#f57547"/><stop offset="0.240" stop-color="#fed484"/><stop offset="0.253" stop-color="#ffffbf"/><stop offset="0.268" stop-color="#e0f3f8"/><stop offset="0.283" stop-color="#a4d4e6"/><stop offset="0.311" stop-color="#6ea6cd"/><stop offset="0.348" stop-color="#5083bb"/><stop offset="0.424" stop-color="#426db0"/><stop offset="0.545" stop-color="#4169ae"/><stop offset="0.636" stop-color="#4878b6"/><stop offset="0.697" stop-color="#5082bb"/><stop offset="0.773" stop-color="#4a7cb7"/><stop offset="0.848" stop-color="#568abf"/><stop offset="1.000" stop-color="#4e7fb9"/></linearGradient></defs>
<rect x="64.88" y="244.00" width="3.19" height="66.00" fill="url(#g13)"/>
<defs><linearGradient id="g14" x1="0" y1="0" x2="0" y2="1"><stop offset="0.000" stop-color="#4066ad"/><stop offset="0.045" stop-color="#4472b3"/><stop offset="0.068" stop-color="#5d92c3"/><stop offset="0.091" stop-color="#7db4d5"/><stop offset="0.114" stop-color="#b4ddeb"/><stop offset="0.136" stop-color="#e3f4f2"/><stop offset="0.157" stop-color="#ffffbf"/><stop offset="0.176" stop-color="#fee89c"/><stop offset="0.191" stop-color="#fdae61"/><stop offset="0.206" stop-color="#ed5e3c"/><stop offset="0.221" stop-color="#df402e"/><stop offset="0.235" stop-color="#f57547"/><stop offset="0.247" stop-color="#fed484"/><stop offset="0.259" stop-color="#ffffbf"/><stop offset="0.274" stop-color="#e0f3f8"/><stop offset="0.289" stop-color="#a4d4e6"/><stop offset="0.311" stop-color="#6ea6cd"/><stop offset="0.348" stop-color="#5689bf"/><stop offset="0.424" stop-color="#4574b4"/><stop offset="0.545" stop-color="#4470b2"/><stop offset="0.636" stop-color="#4d7fb9"/><stop offset="0.697" stop-color="#588bc0"/><stop offset="0.773" stop-color="#5082bb"/><stop offset="0.848" stop-color="#426aaf"/><stop offset="1.000" stop-color="#3e5fa9"/></linearGradient></defs>
<rect x="67.37" y="244.00" width="3.19" height="66.00" fill="url(#g14)"/>
<defs><linearGradient id="g15" x1="0" y1="0" x2="0" y2="1"><stop offset="0.000" stop-color="#426aaf"/><stop offset="0.045" stop-color="#4676b4"/><stop offset="0.068" stop-color="#6095c5"/><stop offset="0.091" stop-color="#86bbd9"/><stop offset="0.114" stop-color="#bce2ee"/><stop offset="0.136" stop-color="#e8f6e9"/><stop offset="0.153" stop-color="#ffffbf"/><stop offset="0.171" stop-color="#fee89c"/><stop offset="0.186" stop-color="#fdae61"/><stop offset="0.201" stop-color="#ed5e3c"/><stop offset="0.217" stop-color="#dc3b2c"/><stop offset="0.230" stop-color="#f57547"/><stop offset="0.242" stop-color="#fed484"/><stop offset="0.254" stop-color="#ffffbf"/><stop offset="0.270" stop-color="#e0f3f8"/><stop offset="0.285" stop-color="#a4d4e6"/><stop offset="0.311" stop-color="#6ea6cd"/><stop offset="0.348" stop-color="#4879b6"/><stop offset="0.424" stop-color="#3f62ab"/><stop offset="0.545" stop-color="#3e5ea9"/><stop offset="0.636" stop-color="#436eb0"/><stop offset="0.697" stop-color="#4676b5"/><stop offset="0.773" stop-color="#4472b2"/><stop offset="0.848" stop-color="#436eb1"/><stop offset="1.000" stop-color="#3f62ab"/></linearGradient></defs>
<rect x="69.86" y="244.00" width="3.19" height="66.00" fill="url(#g15)"/>
<defs><linearGradient id="g16" x1="0" y1="0" x2="0" y2="1"><stop offset="0.000" stop-color="#497ab7"/><stop offset="0.045" stop-color="#5285bc"/><stop offset="0.068" stop-color="#6da4cc"/><stop offset="0.091" stop-color="#88bdda"/><stop offset="0.114" stop-color="#bee2ee"/><stop offset="0.136" stop-color="#e9f7e7"/><stop offset="0.156" stop-color="#ffffbf"/><stop offset="0.174" stop-color="#fee89c"/><stop offset="0.189" stop-color="#fdae61"/><stop offset="0.205" stop-color="#ed5e3c"/><stop offset="0.220" stop-color="#dc3a2c"/><stop offset="0.233" stop-color="#f57547"/><stop offset="0.245" stop-color="#fed484"/><stop offset="0.258" stop-color="#ffffbf"/><stop offset="0.273" stop-color="#e0f3f8"/><stop offset="0.288" stop-color="#a4d4e6"/><stop offset="0.311" stop-color="#6ea6cd"/><stop offset="0.348" stop-color="#4d7eb9"/><stop offset="0.424" stop-color="#4168ad"/><stop offset="0.545" stop-color="#3f64ab"/><stop offset="0.636" stop-color="#4473b3"/><stop offset="0.697" stop-color="#4b7db8"/><stop offset="0.773" stop-color="#4777b5"/><stop offset="0.848" stop-color="#4c7eb9"/><stop offset="1.000" stop-color="#4473b3"/></linearGradient></defs>
<rect x="72.35" y="244.00" width="3.19" height="66.00" fill="url(#g16)"/>
<defs><linearGradient id="g17" x1="0" y1="0" x2="0" y2="1"><stop offset="0.000" stop-color="#4472b3"/><stop offset="0.045" stop-color="#4c7db8"/><stop offset="0.068" stop-color="#669dc8"/><stop offset="0.091" stop-color="#8cc0db"/><stop offset="0.114" stop-color="#c2e4f0"/><stop offset="0.136" stop-color="#ecf7e3"/><stop offset="0.156" stop-color="#ffffbf"/><stop offset="0.174" stop-color="#fee89c"/><stop offset="0.189" stop-color="#fdae61"/><stop offset="0.204" stop-color="#ed5e3c"/><stop offset="0.219" stop-color="#db382b"/><stop offset="0.233" stop-color="#f57547"/><stop offset="0.245" stop-color="#fed484"/><stop offset="0.257" stop-color="#ffffbf"/><stop offset="0.272" stop-color="#e0f3f8"/><stop offset="0.287" stop-color="#a4d4e6"/><stop offset="0.311" stop-color="#6ea6cd"/><stop offset="0.348" stop-color="#4c7db8"/><stop offset="0.424" stop-color="#4066ad"/><stop offset="0.545" stop-color="#3f63ab"/><stop offset="0.636" stop-color="#4472b3"/><stop offset="0.697" stop-color="#4a7bb7"/><stop offset="0.773" stop-color="#4676b5"/><stop offset="0.848" stop-color="#4676b5"/><stop offset="1.000" stop-color="#426aaf"/></linearGradient></defs>
<rect x="74.84" y="244.00" width="3.19" height="66.00" fill="url(#g17)"/>
<defs><linearGradient id="g18" x1="0" y1="0" x2="0" y2="1"><stop offset="0.000" stop-color="#4575b4"/><stop offset="0.045" stop-color="#4e80b9"/><stop offset="0.068" stop-color="#689fca"/><stop offset="0.091" stop-color="#80b7d6"/><stop offset="0.114" stop-color="#b7dfec"/><stop offset="0.136" stop-color="#e5f5ef"/><stop offset="0.153" stop-color="#ffffbf"/><stop offset="0.171" stop-color="#fee89c"/><stop offset="0.186" stop-color="#fdae61"/><stop offset="0.202" stop-color="#ed5e3c"/><stop offset="0.217" stop-color="#de3e2e"/><stop offset="0.230" stop-color="#f57547"/><stop offset="0.242" stop-color="#fed484"/><stop offset="0.255" stop-color="#ffffbf"/><stop offset="0.270" stop-color="#e0f3f8"/><stop offset="0.285" stop-color="#a4d4e6"/><stop offset="0.311" stop-color="#6ea6cd"/><stop offset="0.348" stop-color="#5689be"/><stop offset="0.424" stop-color="#4574b4"/><stop offset="0.545" stop-color="#4370b2"/><stop offset="0.636" stop-color="#4d7fb9"/><stop offset="0.697" stop-color="#578bbf"/><stop offset="0.773" stop-color="#5082bb"/><stop offset="0.848" stop-color="#4879b6"/><stop offset="1.000" stop-color="#436db0"/></linearGradient></defs>
<rect x="77.33" y="244.00" width="3.19" height="66.00" fill="url(#g18)"/>
<defs><linearGradient id="g19" x1="0" y1="0" x2="0" y2="1"><stop offset="0.000" stop-color="#4470b2"/><stop offset="0.045" stop-color="#4a7bb7"/><stop offset="0.068" stop-color="#659bc8"/><stop offset="0.091" stop-color="#95c7df"/><stop offset="0.114" stop-color="#cbe9f2"/><stop offset="0.136" stop-color="#f1f9d9"/><stop offset="0.155" stop-color="#ffffbf"/><stop offset="0.173" stop-color="#fee89c"/><stop offset="0.188" stop-color="#fdae61"/><stop offset="0.203" stop-color="#ed5e3c"/><stop offset="0.218" stop-color="#d83328"/><stop offset="0.232" stop-color="#f57547"/><stop offset="0.244" stop-color="#fed484"/><stop offset="0.256" stop-color="#ffffbf"/><stop offset="0.271" stop-color="#e0f3f8"/><stop offset="0.286" stop-color="#a4d4e6"/><stop offset="0.311" stop-color="#6ea6cd"/><stop offset="0.348" stop-color="#5588be"/><stop offset="0.424" stop-color="#4472b3"/><stop offset="0.545" stop-color="#436eb1"/><stop offset="0.636" stop-color="#4c7db8"/><stop offset="0.697" stop-color="#5689be"/><stop offset="0.773" stop-color="#4f81ba"/><stop offset="0.848" stop-color="#4574b4"/><stop offset="1.000" stop-color="#4169ae"/></linearGradient></defs>
<rect x="79.82" y="244.00" width="3.19" height="66.00" fill="url(#g19)"/>
<defs><linearGradient id="g20" x1="0" y1="0" x2="0" y2="1"><stop offset="0.000" stop-color="#436eb1"/><stop offset="0.045" stop-color="#497ab6"/><stop offset="0.068" stop-color="#6399c7"/><stop offset="0.091" stop-color="#82b8d7"/><stop offset="0.114" stop-color="#b9e0ed"/><stop offset="0.136" stop-color="#e6f5ed"/><stop offset="0.157" stop-color="#ffffbf"/><stop offset="0.175" stop-color="#fee89c"/><stop offset="0.190" stop-color="#fdae61"/><stop offset="0.205" stop-color="#ed5e3c"/><stop offset="0.220" stop-color="#dd3d2d"/><stop offset="0.234" stop-color="#f57547"/><stop offset="0.246" stop-color="#fed484"/><stop offset="0.258" stop-color="#ffffbf"/><stop offset="0.274" stop-color="#e0f3f8"/><stop offset="0.289" stop-color="#a4d4e6"/><stop offset="0.311" stop-color="#6ea6cd"/><stop offset="0.348" stop-color="#5588be"/><stop offset="0.424" stop-color="#4473b3"/><stop offset="0.545" stop-color="#436fb1"/><stop offset="0.636" stop-color="#4c7db8"/><stop offset="0.697" stop-color="#5689bf"/><stop offset="0.773" stop-color="#4f81ba"/><stop offset="0.848" stop-color="#4472b3"/><stop offset="1.000" stop-color="#4067ad"/></linearGradient></defs>
<rect x="82.31" y="244.00" width="3.19" height="66.00" fill="url(#g20)"/>
<defs><linearGradient id="g21" x1="0" y1="0" x2="0" y2="1"><stop offset="0.000" stop-color="#426baf"/><stop offset="0.045" stop-color="#4677b5"/><stop offset="0.068" stop-color="#6196c5"/><stop offset="0.091" stop-color="#71a9cf"/><stop offset="0.114" stop-color="#a7d6e7"/><stop offset="0.136" stop-color="#d9f0f6"/><stop offset="0.155" stop-color="#ffffbf"/><stop offset="0.173" stop-color="#fee89c"/><stop offset="0.188" stop-color="#fdae61"/><stop offset="0.203" stop-color="#ed5e3c"/><stop offset="0.218" stop-color="#e24732"/><stop offset="0.232" stop-color="#f57547"/><stop offset="0.244" stop-color="#fed484"/><stop offset="0.256" stop-color="#ffffbf"/><stop offset="0.271" stop-color="#e0f3f8"/><stop offset="0.286" stop-color="#a4d4e6"/><stop offset="0.311" stop-color="#6ea6cd"/><stop offset="0.348" stop-color="#4c7db8"/><stop offset="0.424" stop-color="#4067ad"/><stop offset="0.545" stop-color="#3f63ab"/><stop offset="0.636" stop-color="#4472b3"/><stop offset="0.697" stop-color="#4a7bb7"/><stop offset="0.773" stop-color="#4676b5"/><stop offset="0.848" stop-color="#436fb1"/><stop offset="1.000" stop-color="#3f63ab"/></linearGradient></defs>
<rect x="84.80" y="244.00" width="3.19" height="66.00" fill="url(#g21)"/>
<defs><linearGradient id="g22" x1="0" y1="0" x2="0" y2="1"><stop offset="0.000" stop-color="#436fb1"/><stop offset="0.045" stop-color="#497ab7"/><stop offset="0.068" stop-color="#6499c7"/><stop offset="0.091" stop-color="#8cc0db"/><stop offset="0.114" stop-color="#c2e4ef"/><stop offset="0.136" stop-color="#ebf7e3"/><stop offset="0.160" stop-color="#ffffbf"/><stop offset="0.178" stop-color="#fee89c"/><stop offset="0.193" stop-color="#fdae61"/><stop offset="0.209" stop-color="#ed5e3c"/><stop offset="0.224" stop-color="#db382b"/><stop offset="0.237" stop-color="#f57547"/><stop offset="0.249" stop-color="#fed484"/><stop offset="0.262" stop-color="#ffffbf"/><stop offset="0.277" stop-color="#e0f3f8"/><stop offset="0.292" stop-color="#a4d4e6"/><stop offset="0.311" stop-color="#6ea6cd"/><stop offset="0.348" stop-color="#5d92c3"/><stop offset="0.424" stop-color="#4c7db8"/><stop offset="0.545" stop-color="#4979b6"/><stop offset="0.636" stop-color="#5487bd"/><stop offset="0.697" stop-color="#6196c5"/><stop offset="0.773" stop-color="#578bbf"/><stop offset="0.848" stop-color="#4473b3"/><stop offset="1.000" stop-color="#4167ad"/></linearGradient></defs>
<rect x="87.29" y="244.00" width="3.19" height="66.00" fill="url(#g22)"/>
<defs><linearGradient id="g23" x1="0" y1="0" x2="0" y2="1"><stop offset="0.000" stop-color="#4471b2"/><stop offset="0.045" stop-color="#4a7cb7"/><stop offset="0.068" stop-color="#659bc8"/><stop offset="0.091" stop-color="#81b7d7"/><stop offset="0.114" stop-color="#b7dfed"/><stop offset="0.136" stop-color="#e5f5ee"/><stop offset="0.159" stop-color="#ffffbf"/><stop offset="0.177" stop-color="#fee89c"/><stop offset="0.192" stop-color="#fdae61"/><stop offset="0.207" stop-color="#ed5e3c"/><stop offset="0.223" stop-color="#de3e2d"/><stop offset="0.236" stop-color="#f57547"/><stop offset="0.248" stop-color="#fed484"/><stop offset="0.260" stop-color="#ffffbf"/><stop offset="0.276" stop-color="#e0f3f8"/><stop offset="0.291" stop-color="#a4d4e6"/><stop offset="0.311" stop-color="#6ea6cd"/><stop offset="0.348" stop-color="#568abf"/><stop offset="0.424" stop-color="#4575b4"/><stop offset="0.545" stop-color="#4471b2"/><stop offset="0.636" stop-color="#4e7fb9"/><stop offset="0.697" stop-color="#588cc0"/><stop offset="0.773" stop-color="#5183bb"/><stop offset="0.848" stop-color="#4574b4"/><stop offset="1.000" stop-color="#4169ae"/></linearGradient></defs>
<rect x="89.78" y="244.00" width="3.19" height="66.00" fill="url(#g23)"/>
<defs><linearGradient id="g24" x1="0" y1="0" x2="0" y2="1"><stop offset="0.000" stop-color="#4979b6"/><stop offset="0.045" stop-color="#5284bc"/><stop offset="0.068" stop-color="#6ca3cc"/><stop offset="0.091" stop-color="#75aed1"/><stop offset="0.114" stop-color="#acd9e9"/><stop offset="0.136" stop-color="#ddf2f7"/><stop offset="0.163" stop-color="#ffffbf"/><stop offset="0.182" stop-color="#fee89c"/><stop offset="0.197" stop-color="#fdae61"/><stop offset="0.212" stop-color="#ed5e3c"/><stop offset="0.227" stop-color="#e14530"/><stop offset="0.241" stop-color="#f57547"/><stop offset="0.253" stop-color="#fed484"/><stop offset="0.265" stop-color="#ffffbf"/><stop offset="0.280" stop-color="#e0f3f8"/><stop offset="0.295" stop-color="#a4d4e6"/><stop offset="0.311" stop-color="#6ea6cd"/><stop offset="0.348" stop-color="#4e80ba"/><stop offset="0.424" stop-color="#416aae"/><stop offset="0.545" stop-color="#4066ac"/><stop offset="0.636" stop-color="#4575b4"/><stop offset="0.697" stop-color="#4d7fb9"/><stop offset="0.773" stop-color="#4879b6"/><stop offset="0.848" stop-color="#4c7db8"/><stop offset="1.000" stop-color="#4472b3"/></linearGradient></defs>
<rect x="92.27" y="244.00" width="3.19" height="66.00" fill="url(#g24)"/>
<defs><linearGradient id="g25" x1="0" y1="0" x2="0" y2="1"><stop offset="0.000" stop-color="#426baf"/><stop offset="0.045" stop-color="#4777b5"/><stop offset="0.068" stop-color="#6197c5"/><stop offset="0.091" stop-color="#8abfdb"/><stop offset="0.114" stop-color="#c1e4ef"/><stop offset="0.136" stop-color="#ebf7e4"/><stop offset="0.152" stop-color="#ffffbf"/><stop offset="0.170" stop-color="#fee89c"/><stop offset="0.185" stop-color="#fdae61"/><stop offset="0.200" stop-color="#ed5e3c"/><stop offset="0.215" stop-color="#db392b"/><stop offset="0.229" stop-color="#f57547"/><stop offset="0.241" stop-color="#fed484"/><stop offset="0.253" stop-color="#ffffbf"/><stop offset="0.268" stop-color="#e0f3f8"/><stop offset="0.284" stop-color="#a4d4e6"/><stop offset="0.311" stop-color="#6ea6cd"/><stop offset="0.348" stop-color="#598dc0"/><stop offset="0.424" stop-color="#4778b5"/><stop offset="0.545" stop-color="#4574b3"/><stop offset="0.636" stop-color="#5082bb"/><stop offset="0.697" stop-color="#5b8fc2"/><stop offset="0.773" stop-color="#5386bd"/><stop offset="0.848" stop-color="#436fb1"/><stop offset="1.000" stop-color="#3f64ab"/></linearGradient></defs>
<rect x="94.76" y="244.00" width="3.19" height="66.00" fill="url(#g25)"/>
<defs><linearGradient id="g26" x1="0" y1="0" x2="0" y2="1"><stop offset="0.000" stop-color="#4d7fb9"/><stop offset="0.045" stop-color="#5689bf"/><stop offset="0.068" stop-color="#71a9cf"/><stop offset="0.091" stop-color="#81b7d7"/><stop offset="0.114" stop-color="#b7dfec"/><stop offset="0.136" stop-color="#e5f5ee"/><stop offset="0.159" stop-color="#ffffbf"/><stop offset="0.177" stop-color="#fee89c"/><stop offset="0.192" stop-color="#fdae61"/><stop offset="0.207" stop-color="#ed5e3c"/><stop offset="0.223" stop-color="#de3e2d"/><stop offset="0.236" stop-color="#f57547"/><stop offset="0.248" stop-color="#fed484"/><stop offset="0.260" stop-color="#ffffbf"/><stop offset="0.276" stop-color="#e0f3f8"/><stop offset="0.291" stop-color="#a4d4e6"/><stop offset="0.311" stop-color="#6ea6cd"/><stop offset="0.348" stop-color="#5f94c4"/><stop offset="0.424" stop-color="#4e7fb9"/><stop offset="0.545" stop-color="#4b7cb8"/><stop offset="0.636" stop-color="#578abf"/><stop offset="0.697" stop-color="#649ac7"/><stop offset="0.773" stop-color="#598dc1"/><stop offset="0.848" stop-color="#5082bb"/><stop offset="1.000" stop-color="#4778b6"/></linearGradient></defs>
<rect x="97.24" y="244.00" width="3.19" height="66.00" fill="url(#g26)"/>
<defs><linearGradient id="g27" x1="0" y1="0" x2="0" y2="1"><stop offset="0.000" stop-color="#426aaf"/><stop offset="0.045" stop-color="#4676b5"/><stop offset="0.068" stop-color="#6096c5"/><stop offset="0.091" stop-color="#7db4d5"/><stop offset="0.114" stop-color="#b3ddeb"/><stop offset="0.136" stop-color="#e3f4f2"/><stop offset="0.157" stop-color="#ffffbf"/><stop offset="0.176" stop-color="#fee89c"/><stop offset="0.191" stop-color="#fdae61"/><stop offset="0.206" stop-color="#ed5e3c"/><stop offset="0.221" stop-color="#df402e"/><stop offset="0.235" stop-color="#f57547"/><stop offset="0.247" stop-color="#fed484"/><stop offset="0.259" stop-color="#ffffbf"/><stop offset="0.274" stop-color="#e0f3f8"/><stop offset="0.289" stop-color="#a4d4e6"/><stop offset="0.311" stop-color="#6ea6cd"/><stop offset="0.348" stop-color="#497ab7"/><stop offset="0.424" stop-color="#3f63ab"/><stop offset="0.545" stop-color="#3e5fa9"/><stop offset="0.636" stop-color="#436fb1"/><stop offset="0.697" stop-color="#4778b5"/><stop offset="0.773" stop-color="#4473b3"/><stop offset="0.848" stop-color="#436eb1"/><stop offset="1.000" stop-color="#3f63ab"/></linearGradient></defs>
<rect x="99.73" y="244.00" width="3.19" height="66.00" fill="url(#g27)"/>
<defs><linearGradient id="g28" x1="0" y1="0" x2="0" y2="1"><stop offset="0.000" stop-color="#4574b3"/><stop offset="0.045" stop-color="#4d7eb9"/><stop offset="0.068" stop-color="#679ec9"/><stop offset="0.091" stop-color="#7fb6d6"/><stop offset="0.114" stop-color="#b6deec"/><stop offset="0.136" stop-color="#e4f5f0"/><stop offset="0.161" stop-color="#ffffbf"/><stop offset="0.179" stop-color="#fee89c"/><stop offset="0.195" stop-color="#fdae61"/><stop offset="0.210" stop-color="#ed5e3c"/><stop offset="0.225" stop-color="#de3f2e"/><stop offset="0.238" stop-color="#f57547"/><stop offset="0.251" stop-color="#fed484"/><stop offset="0.263" stop-color="#ffffbf"/><stop offset="0.278" stop-color="#e0f3f8"/><stop offset="0.293" stop-color="#a4d4e6"/><stop offset="0.311" stop-color="#6ea6cd"/><stop offset="0.348" stop-color="#578abf"/><stop offset="0.424" stop-color="#4575b4"/><stop offset="0.545" stop-color="#4471b2"/><stop offset="0.636" stop-color="#4e7fb9"/><stop offset="0.697" stop-color="#588cc0"/><stop offset="0.773" stop-color="#5183bb"/><stop offset="0.848" stop-color="#4777b5"/><stop offset="1.000" stop-color="#426cb0"/></linearGradient></defs>
<rect x="102.22" y="244.00" width="3.19" height="66.00" fill="url(#g28)"/>
<defs><linearGradient id="g29" x1="0" y1="0" x2="0" y2="1"><stop offset="0.000" stop-color="#3f62ab"/><stop offset="0.045" stop-color="#436eb0"/><stop offset="0.068" stop-color="#5a8ec1"/><stop offset="0.091" stop-color="#8ec1dc"/><stop offset="0.114" stop-color="#c4e5f0"/><stop offset="0.136" stop-color="#ecf8e1"/><stop offset="0.155" stop-color="#ffffbf"/><stop offset="0.173" stop-color="#fee89c"/><stop offset="0.188" stop-color="#fdae61"/><stop offset="0.203" stop-color="#ed5e3c"/><stop offset="0.219" stop-color="#da372a"/><stop offset="0.232" stop-color="#f57547"/><stop offset="0.244" stop-color="#fed484"/><stop offset="0.256" stop-color="#ffffbf"/><stop offset="0.272" stop-color="#e0f3f8"/><stop offset="0.287" stop-color="#a4d4e6"/><stop offset="0.311" stop-color="#6ea6cd"/><stop offset="0.348" stop-color="#578bbf"/><stop offset="0.424" stop-color="#4676b4"/><stop offset="0.545" stop-color="#4472b2"/><stop offset="0.636" stop-color="#4e80ba"/><stop offset="0.697" stop-color="#598dc0"/><stop offset="0.773" stop-color="#5184bc"/><stop offset="0.848" stop-color="#4066ad"/><stop offset="1.000" stop-color="#3c5aa7"/></linearGradient></defs>
<rect x="104.71" y="244.00" width="3.19" height="66.00" fill="url(#g29)"/>
<defs><linearGradient id="g30" x1="0" y1="0" x2="0" y2="1"><stop offset="0.000" stop-color="#3c58a6"/><stop offset="0.045" stop-color="#4064ac"/><stop offset="0.068" stop-color="#5385bd"/><stop offset="0.091" stop-color="#82b8d7"/><stop offset="0.114" stop-color="#b8dfed"/><stop offset="0.136" stop-color="#e6f5ed"/><stop offset="0.158" stop-color="#ffffbf"/><stop offset="0.176" stop-color="#fee89c"/><stop offset="0.191" stop-color="#fdae61"/><stop offset="0.207" stop-color="#ed5e3c"/><stop offset="0.222" stop-color="#dd3d2d"/><stop offset="0.235" stop-color="#f57547"/><stop offset="0.247" stop-color="#fed484"/><stop offset="0.260" stop-color="#ffffbf"/><stop offset="0.275" stop-color="#e0f3f8"/><stop offset="0.290" stop-color="#a4d4e6"/><stop offset="0.311" stop-color="#6ea6cd"/><stop offset="0.348" stop-color="#497ab7"/><stop offset="0.424" stop-color="#3f63ab"/><stop offset="0.545" stop-color="#3e5fa9"/><stop offset="0.636" stop-color="#436fb1"/><stop offset="0.697" stop-color="#4777b5"/><stop offset="0.773" stop-color="#4473b3"/><stop offset="0.848" stop-color="#3d5ca8"/><stop offset="1.000" stop-color="#3950a2"/></linearGradient></defs>
<rect x="107.20" y="244.00" width="3.19" height="66.00" fill="url(#g30)"/>
<defs><linearGradient id="g31" x1="0" y1="0" x2="0" y2="1"><stop offset="0.000" stop-color="#4778b5"/><stop offset="0.045" stop-color="#5082bb"/><stop offset="0.068" stop-color="#6aa2cb"/><stop offset="0.091" stop-color="#7eb5d6"/><stop offset="0.114" stop-color="#b5deec"/><stop offset="0.136" stop-color="#e4f5f1"/><stop offset="0.159" stop-color="#ffffbf"/><stop offset="0.177" stop-color="#fee89c"/><stop offset="0.192" stop-color="#fdae61"/><stop offset="0.207" stop-color="#ed5e3c"/><stop offset="0.222" stop-color="#de3f2e"/><stop offset="0.236" stop-color="#f57547"/><stop offset="0.248" stop-color="#fed484"/><stop offset="0.260" stop-color="#ffffbf"/><stop offset="0.275" stop-color="#e0f3f8"/><stop offset="0.290" stop-color="#a4d4e6"/><stop offset="0.311" stop-color="#6ea6cd"/><stop offset="0.348" stop-color="#4879b6"/><stop offset="0.424" stop-color="#3f62ab"/><stop offset="0.545" stop-color="#3e5ea9"/><stop offset="0.636" stop-color="#436eb0"/><stop offset="0.697" stop-color="#4676b5"/><stop offset="0.773" stop-color="#4472b2"/><stop offset="0.848" stop-color="#4a7bb7"/><stop offset="1.000" stop-color="#4370b2"/></linearGradient></defs>
<rect x="109.69" y="244.00" width="3.19" height="66.00" fill="url(#g31)"/>
<defs><linearGradient id="g32" x1="0" y1="0" x2="0" y2="1"><stop offset="0.000" stop-color="#4168ad"/><stop offset="0.045" stop-color="#4574b3"/><stop offset="0.068" stop-color="#5e93c4"/><stop offset="0.091" stop-color="#89beda"/><stop offset="0.114" stop-color="#c0e3ef"/><stop offset="0.136" stop-color="#eaf7e5"/><stop offset="0.165" stop-color="#ffffbf"/><stop offset="0.183" stop-color="#fee89c"/><stop offset="0.198" stop-color="#fdae61"/><stop offset="0.213" stop-color="#ed5e3c"/><stop offset="0.228" stop-color="#db392b"/><stop offset="0.242" stop-color="#f57547"/><stop offset="0.254" stop-color="#fed484"/><stop offset="0.266" stop-color="#ffffbf"/><stop offset="0.281" stop-color="#e0f3f8"/><stop offset="0.297" stop-color="#a4d4e6"/><stop offset="0.311" stop-color="#6ea6cd"/><stop offset="0.348" stop-color="#426baf"/><stop offset="0.424" stop-color="#3a53a3"/><stop offset="0.545" stop-color="#394fa1"/><stop offset="0.636" stop-color="#3e5fa9"/><stop offset="0.697" stop-color="#3f63ab"/><stop offset="0.773" stop-color="#3f63ab"/><stop offset="0.848" stop-color="#426caf"/><stop offset="1.000" stop-color="#3e60aa"/></linearGradient></defs>
<rect x="112.18" y="244.00" width="3.19" height="66.00" fill="url(#g32)"/>
<defs><linearGradient id="g33" x1="0" y1="0" x2="0" y2="1"><stop offset="0.000" stop-color="#4473b3"/><stop offset="0.045" stop-color="#4c7db8"/><stop offset="0.068" stop-color="#679dc9"/><stop offset="0.091" stop-color="#79b1d3"/><stop offset="0.114" stop-color="#afdbea"/><stop offset="0.136" stop-color="#e1f3f7"/><stop offset="0.157" stop-color="#ffffbf"/><stop offset="0.175" stop-color="#fee89c"/><stop offset="0.190" stop-color="#fdae61"/><stop offset="0.205" stop-color="#ed5e3c"/><stop offset="0.221" stop-color="#e0422f"/><stop offset="0.234" stop-color="#f57547"/><stop offset="0.246" stop-color="#fed484"/><stop offset="0.258" stop-color="#ffffbf"/><stop offset="0.274" stop-color="#e0f3f8"/><stop offset="0.289" stop-color="#a4d4e6"/><stop offset="0.311" stop-color="#6ea6cd"/><stop offset="0.348" stop-color="#497ab7"/><stop offset="0.424" stop-color="#3f63ab"/><stop offset="0.545" stop-color="#3e5fa9"/><stop offset="0.636" stop-color="#436fb1"/><stop offset="0.697" stop-color="#4777b5"/><stop offset="0.773" stop-color="#4473b3"/><stop offset="0.848" stop-color="#4676b5"/><stop offset="1.000" stop-color="#426baf"/></linearGradient></defs>
<rect x="114.67" y="244.00" width="3.19" height="66.00" fill="url(#g33)"/>
<defs><linearGradient id="g34" x1="0" y1="0" x2="0" y2="1"><stop offset="0.000" stop-color="#4e7fb9"/><stop offset="0.045" stop-color="#578abf"/><stop offset="0.068" stop-color="#71a9cf"/><stop offset="0.091" stop-color="#80b7d6"/><stop offset="0.114" stop-color="#b6dfec"/><stop offset="0.136" stop-color="#e5f5ef"/><stop offset="0.162" stop-color="#ffffbf"/><stop offset="0.180" stop-color="#fee89c"/><stop offset="0.195" stop-color="#fdae61"/><stop offset="0.210" stop-color="#ed5e3c"/><stop offset="0.226" stop-color="#de3e2e"/><stop offset="0.239" stop-color="#f57547"/><stop offset="0.251" stop-color="#fed484"/><stop offset="0.263" stop-color="#ffffbf"/><stop offset="0.279" stop-color="#e0f3f8"/><stop offset="0.294" stop-color="#a4d4e6"/><stop offset="0.311" stop-color="#6ea6cd"/><stop offset="0.348" stop-color="#5689be"/><stop offset="0.424" stop-color="#4574b3"/><stop offset="0.545" stop-color="#4370b2"/><stop offset="0.636" stop-color="#4d7fb9"/><stop offset="0.697" stop-color="#578bbf"/><stop offset="0.773" stop-color="#5082bb"/><stop offset="0.848" stop-color="#5183bb"/><stop offset="1.000" stop-color="#4878b6"/></linearGradient></defs>
<rect x="117.16" y="244.00" width="3.19" height="66.00" fill="url(#g34)"/>
<defs><linearGradient id="g35" x1="0" y1="0" x2="0" y2="1"><stop offset="0.000" stop-color="#4168ae"/><stop offset="0.045" stop-color="#4574b4"/><stop offset="0.068" stop-color="#5f94c4"/><stop offset="0.091" stop-color="#75aed1"/><stop offset="0.114" stop-color="#acd9e9"/><stop offset="0.136" stop-color="#def2f7"/><stop offset="0.154" stop-color="#ffffbf"/><stop offset="0.172" stop-color="#fee89c"/><stop offset="0.188" stop-color="#fdae61"/><stop offset="0.203" stop-color="#ed5e3c"/><stop offset="0.218" stop-color="#e14430"/><stop offset="0.232" stop-color="#f57547"/><stop offset="0.244" stop-color="#fed484"/><stop offset="0.256" stop-color="#ffffbf"/><stop offset="0.271" stop-color="#e0f3f8"/><stop offset="0.286" stop-color="#a4d4e6"/><stop offset="0.311" stop-color="#6ea6cd"/><stop offset="0.348" stop-color="#6095c5"/><stop offset="0.424" stop-color="#4e80ba"/><stop offset="0.545" stop-color="#4b7db8"/><stop offset="0.636" stop-color="#578bbf"/><stop offset="0.697" stop-color="#659bc8"/><stop offset="0.773" stop-color="#5a8ec1"/><stop offset="0.848" stop-color="#426cb0"/><stop offset="1.000" stop-color="#3f61aa"/></linearGradient></defs>
<rect x="119.65" y="244.00" width="3.19" height="66.00" fill="url(#g35)"/>
<defs><linearGradient id="g36" x1="0" y1="0" x2="0" y2="1"><stop offset="0.000" stop-color="#4370b2"/><stop offset="0.045" stop-color="#4a7bb7"/><stop offset="0.068" stop-color="#659bc7"/><stop offset="0.091" stop-color="#87bcd9"/><stop offset="0.114" stop-color="#bee2ee"/><stop offset="0.136" stop-color="#e9f6e8"/><stop offset="0.157" stop-color="#ffffbf"/><stop offset="0.175" stop-color="#fee89c"/><stop offset="0.191" stop-color="#fdae61"/><stop offset="0.206" stop-color="#ed5e3c"/><stop offset="0.221" stop-color="#dc3a2c"/><stop offset="0.234" stop-color="#f57547"/><stop offset="0.247" stop-color="#fed484"/><stop offset="0.259" stop-color="#ffffbf"/><stop offset="0.274" stop-color="#e0f3f8"/><stop offset="0.289" stop-color="#a4d4e6"/><stop offset="0.311" stop-color="#6ea6cd"/><stop offset="0.348" stop-color="#5c91c2"/><stop offset="0.424" stop-color="#4b7cb8"/><stop offset="0.545" stop-color="#4878b6"/><stop offset="0.636" stop-color="#5486bd"/><stop offset="0.697" stop-color="#6095c5"/><stop offset="0.773" stop-color="#578abf"/><stop offset="0.848" stop-color="#4574b3"/><stop offset="1.000" stop-color="#4168ae"/></linearGradient></defs>
<rect x="122.14" y="244.00" width="3.19" height="66.00" fill="url(#g36)"/>
<defs><linearGradient id="g37" x1="0" y1="0" x2="0" y2="1"><stop offset="0.000" stop-color="#3c58a6"/><stop offset="0.045" stop-color="#4064ac"/><stop offset="0.068" stop-color="#5385bc"/><stop offset="0.091" stop-color="#76afd2"/><stop offset="0.114" stop-color="#addaea"/><stop offset="0.136" stop-color="#dff2f8"/><stop offset="0.154" stop-color="#ffffbf"/><stop offset="0.172" stop-color="#fee89c"/><stop offset="0.187" stop-color="#fdae61"/><stop offset="0.203" stop-color="#ed5e3c"/><stop offset="0.218" stop-color="#e04430"/><stop offset="0.231" stop-color="#f57547"/><stop offset="0.243" stop-color="#fed484"/><stop offset="0.256" stop-color="#ffffbf"/><stop offset="0.271" stop-color="#e0f3f8"/><stop offset="0.286" stop-color="#a4d4e6"/><stop offset="0.311" stop-color="#6ea6cd"/><stop offset="0.348" stop-color="#4b7cb8"/><stop offset="0.424" stop-color="#4065ac"/><stop offset="0.545" stop-color="#3f61aa"/><stop offset="0.636" stop-color="#4471b2"/><stop offset="0.697" stop-color="#497ab7"/><stop offset="0.773" stop-color="#4575b4"/><stop offset="0.848" stop-color="#3d5ca8"/><stop offset="1.000" stop-color="#3950a2"/></linearGradient></defs>
<rect x="124.63" y="244.00" width="3.19" height="66.00" fill="url(#g37)"/>
<defs><linearGradient id="g38" x1="0" y1="0" x2="0" y2="1"><stop offset="0.000" stop-color="#436fb1"/><stop offset="0.045" stop-color="#497ab7"/><stop offset="0.068" stop-color="#6499c7"/><stop offset="0.091" stop-color="#89beda"/><stop offset="0.114" stop-color="#bfe3ef"/><stop offset="0.136" stop-color="#eaf7e6"/><stop offset="0.156" stop-color="#ffffbf"/><stop offset="0.175" stop-color="#fee89c"/><stop offset="0.190" stop-color="#fdae61"/><stop offset="0.205" stop-color="#ed5e3c"/><stop offset="0.220" stop-color="#db392b"/><stop offset="0.234" stop-color="#f57547"/><stop offset="0.246" stop-color="#fed484"/><stop offset="0.258" stop-color="#ffffbf"/><stop offset="0.273" stop-color="#e0f3f8"/><stop offset="0.288" stop-color="#a4d4e6"/><stop offset="0.311" stop-color="#6ea6cd"/><stop offset="0.348" stop-color="#4e80ba"/><stop offset="0.424" stop-color="#4169ae"/><stop offset="0.545" stop-color="#4065ac"/><stop offset="0.636" stop-color="#4575b4"/><stop offset="0.697" stop-color="#4d7fb9"/><stop offset="0.773" stop-color="#4879b6"/><stop offset="0.848" stop-color="#4473b3"/><stop offset="1.000" stop-color="#4167ad"/></linearGradient></defs>
<rect x="127.12" y="244.00" width="3.19" height="66.00" fill="url(#g38)"/>
<defs><linearGradient id="g39" x1="0" y1="0" x2="0" y2="1"><stop offset="0.000" stop-color="#4066ad"/><stop offset="0.045" stop-color="#4472b2"/><stop offset="0.068" stop-color="#5d92c3"/><stop offset="0.091" stop-color="#84bad8"/><stop offset="0.114" stop-color="#bbe1ed"/><stop offset="0.136" stop-color="#e7f6eb"/><stop offset="0.159" stop-color="#ffffbf"/><stop offset="0.177" stop-color="#fee89c"/><stop offset="0.193" stop-color="#fdae61"/><stop offset="0.208" stop-color="#ed5e3c"/><stop offset="0.223" stop-color="#dd3c2c"/><stop offset="0.237" stop-color="#f57547"/><stop offset="0.249" stop-color="#fed484"/><stop offset="0.261" stop-color="#ffffbf"/><stop offset="0.276" stop-color="#e0f3f8"/><stop offset="0.291" stop-color="#a4d4e6"/><stop offset="0.311" stop-color="#6ea6cd"/><stop offset="0.348" stop-color="#5284bc"/><stop offset="0.424" stop-color="#436eb1"/><stop offset="0.545" stop-color="#426aaf"/><stop offset="0.636" stop-color="#497ab6"/><stop offset="0.697" stop-color="#5285bc"/><stop offset="0.773" stop-color="#4c7db8"/><stop offset="0.848" stop-color="#426aaf"/><stop offset="1.000" stop-color="#3e5ea9"/></linearGradient></defs>
<rect x="129.61" y="244.00" width="3.19" height="66.00" fill="url(#g39)"/>
<defs><linearGradient id="g40" x1="0" y1="0" x2="0" y2="1"><stop offset="0.000" stop-color="#4065ac"/><stop offset="0.045" stop-color="#4470b2"/><stop offset="0.068" stop-color="#5c90c2"/><stop offset="0.091" stop-color="#6da4cd"/><stop offset="0.114" stop-color="#a3d2e5"/><stop offset="0.136" stop-color="#d5edf5"/><stop offset="0.162" stop-color="#ffffbf"/><stop offset="0.180" stop-color="#fee89c"/><stop offset="0.195" stop-color="#fdae61"/><stop offset="0.211" stop-color="#ed5e3c"/><stop offset="0.226" stop-color="#e34a33"/><stop offset="0.239" stop-color="#f57547"/><stop offset="0.252" stop-color="#fed484"/><stop offset="0.264" stop-color="#ffffbf"/><stop offset="0.279" stop-color="#e0f3f8"/><stop offset="0.294" stop-color="#a4d4e6"/><stop offset="0.311" stop-color="#6ea6cd"/><stop offset="0.348" stop-color="#4f81ba"/><stop offset="0.424" stop-color="#426baf"/><stop offset="0.545" stop-color="#4067ad"/><stop offset="0.636" stop-color="#4676b5"/><stop offset="0.697" stop-color="#4e80ba"/><stop offset="0.773" stop-color="#497ab6"/><stop offset="0.848" stop-color="#4169ae"/><stop offset="1.000" stop-color="#3d5da8"/></linearGradient></defs>
<rect x="132.10" y="244.00" width="3.19" height="66.00" fill="url(#g40)"/>
<defs><linearGradient id="g41" x1="0" y1="0" x2="0" y2="1"><stop offset="0.000" stop-color="#4677b5"/><stop offset="0.045" stop-color="#4f81ba"/><stop offset="0.068" stop-color="#6aa1cb"/><stop offset="0.091" stop-color="#78b0d3"/><stop offset="0.114" stop-color="#afdbea"/><stop offset="0.136" stop-color="#e0f3f8"/><stop offset="0.151" stop-color="#ffffbf"/><stop offset="0.170" stop-color="#fee89c"/><stop offset="0.185" stop-color="#fdae61"/><stop offset="0.200" stop-color="#ed5e3c"/><stop offset="0.215" stop-color="#e04330"/><stop offset="0.229" stop-color="#f57547"/><stop offset="0.241" stop-color="#fed484"/><stop offset="0.253" stop-color="#ffffbf"/><stop offset="0.268" stop-color="#e0f3f8"/><stop offset="0.283" stop-color="#a4d4e6"/><stop offset="0.311" stop-color="#6ea6cd"/><stop offset="0.348" stop-color="#4f81ba"/><stop offset="0.424" stop-color="#426baf"/><stop offset="0.545" stop-color="#4167ad"/><stop offset="0.636" stop-color="#4677b5"/><stop offset="0.697" stop-color="#4f81ba"/><stop offset="0.773" stop-color="#497ab7"/><stop offset="0.848" stop-color="#497ab7"/><stop offset="1.000" stop-color="#436fb1"/></linearGradient></defs>
<rect x="134.59" y="244.00" width="3.19" height="66.00" fill="url(#g41)"/>
<defs><linearGradient id="g42" x1="0" y1="0" x2="0" y2="1"><stop offset="0.000" stop-color="#426baf"/><stop offset="0.045" stop-color="#4676b5"/><stop offset="0.068" stop-color="#6196c5"/><stop offset="0.091" stop-color="#9ccde3"/><stop offset="0.114" stop-color="#d2ecf4"/><stop offset="0.136" stop-color="#f5fbd2"/><stop offset="0.157" stop-color="#ffffbf"/><stop offset="0.175" stop-color="#fee89c"/><stop offset="0.190" stop-color="#fdae61"/><stop offset="0.205" stop-color="#ed5e3c"/><stop offset="0.221" stop-color="#d62f27"/><stop offset="0.234" stop-color="#f57547"/><stop offset="0.246" stop-color="#fed484"/><stop offset="0.259" stop-color="#ffffbf"/><stop offset="0.274" stop-color="#e0f3f8"/><stop offset="0.289" stop-color="#a4d4e6"/><stop offset="0.311" stop-color="#6ea6cd"/><stop offset="0.348" stop-color="#5285bc"/><stop offset="0.424" stop-color="#436fb1"/><stop offset="0.545" stop-color="#426baf"/><stop offset="0.636" stop-color="#4a7bb7"/><stop offset="0.697" stop-color="#5386bd"/><stop offset="0.773" stop-color="#4d7eb9"/><stop offset="0.848" stop-color="#436fb1"/><stop offset="1.000" stop-color="#3f63ab"/></linearGradient></defs>
<rect x="137.08" y="244.00" width="3.19" height="66.00" fill="url(#g42)"/>
<defs><linearGradient id="g43" x1="0" y1="0" x2="0" y2="1"><stop offset="0.000" stop-color="#3f62ab"/><stop offset="0.045" stop-color="#436eb0"/><stop offset="0.068" stop-color="#5a8ec1"/><stop offset="0.091" stop-color="#92c5de"/><stop offset="0.114" stop-color="#c8e7f1"/><stop offset="0.136" stop-color="#eff9dd"/><stop offset="0.157" stop-color="#ffffbf"/><stop offset="0.175" stop-color="#fee89c"/><stop offset="0.190" stop-color="#fdae61"/><stop offset="0.205" stop-color="#ed5e3c"/><stop offset="0.220" stop-color="#d93529"/><stop offset="0.234" stop-color="#f57547"/><stop offset="0.246" stop-color="#fed484"/><stop offset="0.258" stop-color="#ffffbf"/><stop offset="0.273" stop-color="#e0f3f8"/><stop offset="0.289" stop-color="#a4d4e6"/><stop offset="0.311" stop-color="#6ea6cd"/><stop offset="0.348" stop-color="#416aae"/><stop offset="0.424" stop-color="#3a52a3"/><stop offset="0.545" stop-color="#394ea1"/><stop offset="0.636" stop-color="#3e5ea9"/><stop offset="0.697" stop-color="#3f62ab"/><stop offset="0.773" stop-color="#3f62ab"/><stop offset="0.848" stop-color="#4066ad"/><stop offset="1.000" stop-color="#3c5aa7"/></linearGradient></defs>
<rect x="139.57" y="244.00" width="3.19" height="66.00" fill="url(#g43)"/>
<defs><linearGradient id="g44" x1="0" y1="0" x2="0" y2="1"><stop offset="0.000" stop-color="#3c5aa7"/><stop offset="0.045" stop-color="#4066ad"/><stop offset="0.068" stop-color="#5487bd"/><stop offset="0.091" stop-color="#6aa1cb"/><stop offset="0.114" stop-color="#9fd0e4"/><stop offset="0.136" stop-color="#d1ecf4"/><stop offset="0.169" stop-color="#ffffbf"/><stop offset="0.187" stop-color="#fee89c"/><stop offset="0.203" stop-color="#fdae61"/><stop offset="0.218" stop-color="#ed5e3c"/><stop offset="0.233" stop-color="#e44c34"/><stop offset="0.247" stop-color="#f57547"/><stop offset="0.259" stop-color="#fed484"/><stop offset="0.271" stop-color="#ffffbf"/><stop offset="0.286" stop-color="#e0f3f8"/><stop offset="0.301" stop-color="#a4d4e6"/><stop offset="0.311" stop-color="#6ea6cd"/><stop offset="0.348" stop-color="#5285bc"/><stop offset="0.424" stop-color="#436fb1"/><stop offset="0.545" stop-color="#426baf"/><stop offset="0.636" stop-color="#497ab7"/><stop offset="0.697" stop-color="#5385bc"/><stop offset="0.773" stop-color="#4c7eb9"/><stop offset="0.848" stop-color="#3e5ea9"/><stop offset="1.000" stop-color="#3a52a3"/></linearGradient></defs>
<rect x="142.06" y="244.00" width="3.19" height="66.00" fill="url(#g44)"/>
<defs><linearGradient id="g45" x1="0" y1="0" x2="0" y2="1"><stop offset="0.000" stop-color="#4574b3"/><stop offset="0.045" stop-color="#4d7eb9"/><stop offset="0.068" stop-color="#679ec9"/><stop offset="0.091" stop-color="#7cb3d4"/><stop offset="0.114" stop-color="#b3ddeb"/><stop offset="0.136" stop-color="#e3f4f3"/><stop offset="0.148" stop-color="#ffffbf"/><stop offset="0.166" stop-color="#fee89c"/><stop offset="0.181" stop-color="#fdae61"/><stop offset="0.196" stop-color="#ed5e3c"/><stop offset="0.212" stop-color="#df412f"/><stop offset="0.225" stop-color="#f57547"/><stop offset="0.237" stop-color="#fed484"/><stop offset="0.249" stop-color="#ffffbf"/><stop offset="0.265" stop-color="#e0f3f8"/><stop offset="0.280" stop-color="#a4d4e6"/><stop offset="0.311" stop-color="#6ea6cd"/><stop offset="0.348" stop-color="#5589be"/><stop offset="0.424" stop-color="#4573b3"/><stop offset="0.545" stop-color="#436fb1"/><stop offset="0.636" stop-color="#4d7eb9"/><stop offset="0.697" stop-color="#578abf"/><stop offset="0.773" stop-color="#5082bb"/><stop offset="0.848" stop-color="#4777b5"/><stop offset="1.000" stop-color="#426cb0"/></linearGradient></defs>
<rect x="144.55" y="244.00" width="3.19" height="66.00" fill="url(#g45)"/>
<defs><linearGradient id="g46" x1="0" y1="0" x2="0" y2="1"><stop offset="0.000" stop-color="#4168ae"/><stop offset="0.045" stop-color="#4574b3"/><stop offset="0.068" stop-color="#5f93c4"/><stop offset="0.091" stop-color="#87bcd9"/><stop offset="0.114" stop-color="#bde2ee"/><stop offset="0.136" stop-color="#e8f6e8"/><stop offset="0.148" stop-color="#ffffbf"/><stop offset="0.166" stop-color="#fee89c"/><stop offset="0.181" stop-color="#fdae61"/><stop offset="0.196" stop-color="#ed5e3c"/><stop offset="0.212" stop-color="#dc3b2c"/><stop offset="0.225" stop-color="#f57547"/><stop offset="0.237" stop-color="#fed484"/><stop offset="0.249" stop-color="#ffffbf"/><stop offset="0.265" stop-color="#e0f3f8"/><stop offset="0.280" stop-color="#a4d4e6"/><stop offset="0.311" stop-color="#6ea6cd"/><stop offset="0.348" stop-color="#4574b3"/><stop offset="0.424" stop-color="#3d5ca8"/><stop offset="0.545" stop-color="#3c58a6"/><stop offset="0.636" stop-color="#4168ae"/><stop offset="0.697" stop-color="#436eb1"/><stop offset="0.773" stop-color="#426caf"/><stop offset="0.848" stop-color="#426cb0"/><stop offset="1.000" stop-color="#3e60aa"/></linearGradient></defs>
<rect x="147.04" y="244.00" width="3.19" height="66.00" fill="url(#g46)"/>
<defs><linearGradient id="g47" x1="0" y1="0" x2="0" y2="1"><stop offset="0.000" stop-color="#3f61aa"/><stop offset="0.045" stop-color="#426cb0"/><stop offset="0.068" stop-color="#598dc0"/><stop offset="0.091" stop-color="#95c7df"/><stop offset="0.114" stop-color="#cbe9f2"/><stop offset="0.136" stop-color="#f1f9d9"/><stop offset="0.152" stop-color="#ffffbf"/><stop offset="0.170" stop-color="#fee89c"/><stop offset="0.185" stop-color="#fdae61"/><stop offset="0.200" stop-color="#ed5e3c"/><stop offset="0.215" stop-color="#d83328"/><stop offset="0.229" stop-color="#f57547"/><stop offset="0.241" stop-color="#fed484"/><stop offset="0.253" stop-color="#ffffbf"/><stop offset="0.268" stop-color="#e0f3f8"/><stop offset="0.283" stop-color="#a4d4e6"/><stop offset="0.311" stop-color="#6ea6cd"/><stop offset="0.348" stop-color="#5b8fc1"/><stop offset="0.424" stop-color="#497ab7"/><stop offset="0.545" stop-color="#4676b5"/><stop offset="0.636" stop-color="#5284bc"/><stop offset="0.697" stop-color="#5e93c3"/><stop offset="0.773" stop-color="#5588be"/><stop offset="0.848" stop-color="#4065ac"/><stop offset="1.000" stop-color="#3c59a6"/></linearGradient></defs>
<rect x="149.53" y="244.00" width="3.19" height="66.00" fill="url(#g47)"/>
<defs><linearGradient id="g48" x1="0" y1="0" x2="0" y2="1"><stop offset="0.000" stop-color="#3d5ba7"/><stop offset="0.045" stop-color="#4067ad"/><stop offset="0.068" stop-color="#5588be"/><stop offset="0.091" stop-color="#8abfdb"/><stop offset="0.114" stop-color="#c0e3ef"/><stop offset="0.136" stop-color="#eaf7e5"/><stop offset="0.152" stop-color="#ffffbf"/><stop offset="0.171" stop-color="#fee89c"/><stop offset="0.186" stop-color="#fdae61"/><stop offset="0.201" stop-color="#ed5e3c"/><stop offset="0.216" stop-color="#db392b"/><stop offset="0.230" stop-color="#f57547"/><stop offset="0.242" stop-color="#fed484"/><stop offset="0.254" stop-color="#ffffbf"/><stop offset="0.269" stop-color="#e0f3f8"/><stop offset="0.284" stop-color="#a4d4e6"/><stop offset="0.311" stop-color="#6ea6cd"/><stop offset="0.348" stop-color="#588cc0"/><stop offset="0.424" stop-color="#4677b5"/><stop offset="0.545" stop-color="#4473b3"/><stop offset="0.636" stop-color="#4f81ba"/><stop offset="0.697" stop-color="#5a8ec1"/><stop offset="0.773" stop-color="#5285bc"/><stop offset="0.848" stop-color="#3e5fa9"/><stop offset="1.000" stop-color="#3a53a3"/></linearGradient></defs>
<rect x="152.02" y="244.00" width="3.19" height="66.00" fill="url(#g48)"/>
<defs><linearGradient id="g49" x1="0" y1="0" x2="0" y2="1"><stop offset="0.000" stop-color="#3f63ab"/><stop offset="0.045" stop-color="#436eb1"/><stop offset="0.068" stop-color="#5b8fc1"/><stop offset="0.091" stop-color="#6fa7ce"/><stop offset="0.114" stop-color="#a5d4e6"/><stop offset="0.136" stop-color="#d7eff5"/><stop offset="0.153" stop-color="#ffffbf"/><stop offset="0.172" stop-color="#fee89c"/><stop offset="0.187" stop-color="#fdae61"/><stop offset="0.202" stop-color="#ed5e3c"/><stop offset="0.217" stop-color="#e34832"/><stop offset="0.231" stop-color="#f57547"/><stop offset="0.243" stop-color="#fed484"/><stop offset="0.255" stop-color="#ffffbf"/><stop offset="0.270" stop-color="#e0f3f8"/><stop offset="0.285" stop-color="#a4d4e6"/><stop offset="0.311" stop-color="#6ea6cd"/><stop offset="0.348" stop-color="#4b7cb8"/><stop offset="0.424" stop-color="#4065ac"/><stop offset="0.545" stop-color="#3f62aa"/><stop offset="0.636" stop-color="#4471b2"/><stop offset="0.697" stop-color="#497ab7"/><stop offset="0.773" stop-color="#4575b4"/><stop offset="0.848" stop-color="#4067ad"/><stop offset="1.000" stop-color="#3d5ba7"/></linearGradient></defs>
<rect x="154.51" y="244.00" width="3.19" height="66.00" fill="url(#g49)"/>
<defs><linearGradient id="g50" x1="0" y1="0" x2="0" y2="1"><stop offset="0.000" stop-color="#4575b4"/><stop offset="0.045" stop-color="#4e80b9"/><stop offset="0.068" stop-color="#689fca"/><stop offset="0.091" stop-color="#9bcce2"/><stop offset="0.114" stop-color="#d0ebf4"/><stop offset="0.136" stop-color="#f4fbd4"/><stop offset="0.156" stop-color="#ffffbf"/><stop offset="0.174" stop-color="#fee89c"/><stop offset="0.189" stop-color="#fdae61"/><stop offset="0.204" stop-color="#ed5e3c"/><stop offset="0.219" stop-color="#d73027"/><stop offset="0.233" stop-color="#f57547"/><stop offset="0.245" stop-color="#fed484"/><stop offset="0.257" stop-color="#ffffbf"/><stop offset="0.272" stop-color="#e0f3f8"/><stop offset="0.288" stop-color="#a4d4e6"/><stop offset="0.311" stop-color="#6ea6cd"/><stop offset="0.348" stop-color="#568abf"/><stop offset="0.424" stop-color="#4575b4"/><stop offset="0.545" stop-color="#4471b2"/><stop offset="0.636" stop-color="#4e7fb9"/><stop offset="0.697" stop-color="#588cc0"/><stop offset="0.773" stop-color="#5183bb"/><stop offset="0.848" stop-color="#4879b6"/><stop offset="1.000" stop-color="#436db0"/></linearGradient></defs>
<rect x="157.00" y="244.00" width="3.19" height="66.00" fill="url(#g50)"/>
<defs><linearGradient id="g51" x1="0" y1="0" x2="0" y2="1"><stop offset="0.000" stop-color="#4168ae"/><stop offset="0.045" stop-color="#4574b3"/><stop offset="0.068" stop-color="#5e93c4"/><stop offset="0.091" stop-color="#7db4d5"/><stop offset="0.114" stop-color="#b3ddeb"/><stop offset="0.136" stop-color="#e3f4f3"/><stop offset="0.151" stop-color="#ffffbf"/><stop offset="0.169" stop-color="#fee89c"/><stop offset="0.184" stop-color="#fdae61"/><stop offset="0.200" stop-color="#ed5e3c"/><stop offset="0.215" stop-color="#df402e"/><stop offset="0.228" stop-color="#f57547"/><stop offset="0.240" stop-color="#fed484"/><stop offset="0.253" stop-color="#ffffbf"/><stop offset="0.268" stop-color="#e0f3f8"/><stop offset="0.283" stop-color="#a4d4e6"/><stop offset="0.311" stop-color="#6ea6cd"/><stop offset="0.348" stop-color="#4979b6"/><stop offset="0.424" stop-color="#3f62ab"/><stop offset="0.545" stop-color="#3e5ea9"/><stop offset="0.636" stop-color="#436eb1"/><stop offset="0.697" stop-color="#4676b5"/><stop offset="0.773" stop-color="#4472b3"/><stop offset="0.848" stop-color="#426caf"/><stop offset="1.000" stop-color="#3e60aa"/></linearGradient></defs>
<rect x="159.49" y="244.00" width="3.19" height="66.00" fill="url(#g51)"/>
<defs><linearGradient id="g52" x1="0" y1="0" x2="0" y2="1"><stop offset="0.000" stop-color="#3c58a6"/><stop offset="0.045" stop-color="#4064ac"/><stop offset="0.068" stop-color="#5386bd"/><stop offset="0.091" stop-color="#92c5de"/><stop offset="0.114" stop-color="#c8e7f1"/><stop offset="0.136" stop-color="#eff9dc"/><stop offset="0.159" stop-color="#ffffbf"/><stop offset="0.177" stop-color="#fee89c"/><stop offset="0.193" stop-color="#fdae61"/><stop offset="0.208" stop-color="#ed5e3c"/><stop offset="0.223" stop-color="#d93429"/><stop offset="0.237" stop-color="#f57547"/><stop offset="0.249" stop-color="#fed484"/><stop offset="0.261" stop-color="#ffffbf"/><stop offset="0.276" stop-color="#e0f3f8"/><stop offset="0.291" stop-color="#a4d4e6"/><stop offset="0.311" stop-color="#6ea6cd"/><stop offset="0.348" stop-color="#568abf"/><stop offset="0.424" stop-color="#4575b4"/><stop offset="0.545" stop-color="#4471b2"/><stop offset="0.636" stop-color="#4e7fb9"/><stop offset="0.697" stop-color="#588cc0"/><stop offset="0.773" stop-color="#5183bb"/><stop offset="0.848" stop-color="#3d5ca8"/><stop offset="1.000" stop-color="#3951a2"/></linearGradient></defs>
<rect x="161.98" y="244.00" width="3.19" height="66.00" fill="url(#g52)"/>
<defs><linearGradient id="g53" x1="0" y1="0" x2="0" y2="1"><stop offset="0.000" stop-color="#4676b4"/><stop offset="0.045" stop-color="#4e80ba"/><stop offset="0.068" stop-color="#69a0ca"/><stop offset="0.091" stop-color="#74add1"/><stop offset="0.114" stop-color="#abd9e9"/><stop offset="0.136" stop-color="#ddf2f7"/><stop offset="0.156" stop-color="#ffffbf"/><stop offset="0.175" stop-color="#fee89c"/><stop offset="0.190" stop-color="#fdae61"/><stop offset="0.205" stop-color="#ed5e3c"/><stop offset="0.220" stop-color="#e14531"/><stop offset="0.234" stop-color="#f57547"/><stop offset="0.246" stop-color="#fed484"/><stop offset="0.258" stop-color="#ffffbf"/><stop offset="0.273" stop-color="#e0f3f8"/><stop offset="0.288" stop-color="#a4d4e6"/><stop offset="0.311" stop-color="#6ea6cd"/><stop offset="0.348" stop-color="#5385bd"/><stop offset="0.424" stop-color="#4370b1"/><stop offset="0.545" stop-color="#426cb0"/><stop offset="0.636" stop-color="#4a7bb7"/><stop offset="0.697" stop-color="#5386bd"/><stop offset="0.773" stop-color="#4d7eb9"/><stop offset="0.848" stop-color="#4979b6"/><stop offset="1.000" stop-color="#436eb1"/></linearGradient></defs>
<rect x="164.47" y="244.00" width="3.19" height="66.00" fill="url(#g53)"/>
<defs><linearGradient id="g54" x1="0" y1="0" x2="0" y2="1"><stop offset="0.000" stop-color="#4066ac"/><stop offset="0.045" stop-color="#4471b2"/><stop offset="0.068" stop-color="#5d91c3"/><stop offset="0.091" stop-color="#69a0ca"/><stop offset="0.114" stop-color="#9ecfe3"/><stop offset="0.136" stop-color="#d0ebf4"/><stop offset="0.150" stop-color="#ffffbf"/><stop offset="0.169" stop-color="#fee89c"/><stop offset="0.184" stop-color="#fdae61"/><stop offset="0.199" stop-color="#ed5e3c"/><stop offset="0.214" stop-color="#e44c34"/><stop offset="0.228" stop-color="#f57547"/><stop offset="0.240" stop-color="#fed484"/><stop offset="0.252" stop-color="#ffffbf"/><stop offset="0.267" stop-color="#e0f3f8"/><stop offset="0.282" stop-color="#a4d4e6"/><stop offset="0.311" stop-color="#6ea6cd"/><stop offset="0.348" stop-color="#4878b6"/><stop offset="0.424" stop-color="#3f61aa"/><stop offset="0.545" stop-color="#3d5da8"/><stop offset="0.636" stop-color="#426db0"/><stop offset="0.697" stop-color="#4575b4"/><stop offset="0.773" stop-color="#4471b2"/><stop offset="0.848" stop-color="#416aae"/><stop offset="1.000" stop-color="#3e5ea9"/></linearGradient></defs>
<rect x="166.96" y="244.00" width="3.19" height="66.00" fill="url(#g54)"/>
<defs><linearGradient id="g55" x1="0" y1="0" x2="0" y2="1"><stop offset="0.000" stop-color="#4169ae"/><stop offset="0.045" stop-color="#4575b4"/><stop offset="0.068" stop-color="#5f94c4"/><stop offset="0.091" stop-color="#78b0d3"/><stop offset="0.114" stop-color="#afdbea"/><stop offset="0.136" stop-color="#e0f3f8"/><stop offset="0.161" stop-color="#ffffbf"/><stop offset="0.180" stop-color="#fee89c"/><stop offset="0.195" stop-color="#fdae61"/><stop offset="0.210" stop-color="#ed5e3c"/><stop offset="0.225" stop-color="#e04330"/><stop offset="0.239" stop-color="#f57547"/><stop offset="0.251" stop-color="#fed484"/><stop offset="0.263" stop-color="#ffffbf"/><stop offset="0.278" stop-color="#e0f3f8"/><stop offset="0.293" stop-color="#a4d4e6"/><stop offset="0.311" stop-color="#6ea6cd"/><stop offset="0.348" stop-color="#5284bc"/><stop offset="0.424" stop-color="#436fb1"/><stop offset="0.545" stop-color="#426baf"/><stop offset="0.636" stop-color="#497ab7"/><stop offset="0.697" stop-color="#5285bc"/><stop offset="0.773" stop-color="#4c7db8"/><stop offset="0.848" stop-color="#426db0"/><stop offset="1.000" stop-color="#3f61aa"/></linearGradient></defs>
<rect x="169.45" y="244.00" width="3.19" height="66.00" fill="url(#g55)"/>
<defs><linearGradient id="g56" x1="0" y1="0" x2="0" y2="1"><stop offset="0.000" stop-color="#426baf"/><stop offset="0.045" stop-color="#4677b5"/><stop offset="0.068" stop-color="#6196c5"/><stop offset="0.091" stop-color="#8fc3dd"/><stop offset="0.114" stop-color="#c5e6f0"/><stop offset="0.136" stop-color="#edf8e0"/><stop offset="0.153" stop-color="#ffffbf"/><stop offset="0.171" stop-color="#fee89c"/><stop offset="0.186" stop-color="#fdae61"/><stop offset="0.201" stop-color="#ed5e3c"/><stop offset="0.217" stop-color="#da362a"/><stop offset="0.230" stop-color="#f57547"/><stop offset="0.242" stop-color="#fed484"/><stop offset="0.254" stop-color="#ffffbf"/><stop offset="0.270" stop-color="#e0f3f8"/><stop offset="0.285" stop-color="#a4d4e6"/><stop offset="0.311" stop-color="#6ea6cd"/><stop offset="0.348" stop-color="#5689be"/><stop offset="0.424" stop-color="#4574b3"/><stop offset="0.545" stop-color="#4370b1"/><stop offset="0.636" stop-color="#4d7eb9"/><stop offset="0.697" stop-color="#578abf"/><stop offset="0.773" stop-color="#5082bb"/><stop offset="0.848" stop-color="#436fb1"/><stop offset="1.000" stop-color="#3f63ab"/></linearGradient></defs>
<rect x="171.94" y="244.00" width="3.19" height="66.00" fill="url(#g56)"/>
<defs><linearGradient id="g57" x1="0" y1="0" x2="0" y2="1"><stop offset="0.000" stop-color="#3b57a5"/><stop offset="0.045" stop-color="#3f62ab"/><stop offset="0.068" stop-color="#5284bc"/><stop offset="0.091" stop-color="#75aed1"/><stop offset="0.114" stop-color="#acd9e9"/><stop offset="0.136" stop-color="#def2f7"/><stop offset="0.161" stop-color="#ffffbf"/><stop offset="0.179" stop-color="#fee89c"/><stop offset="0.194" stop-color="#fdae61"/><stop offset="0.210" stop-color="#ed5e3c"/><stop offset="0.225" stop-color="#e14430"/><stop offset="0.238" stop-color="#f57547"/><stop offset="0.250" stop-color="#fed484"/><stop offset="0.263" stop-color="#ffffbf"/><stop offset="0.278" stop-color="#e0f3f8"/><stop offset="0.293" stop-color="#a4d4e6"/><stop offset="0.311" stop-color="#6ea6cd"/><stop offset="0.348" stop-color="#578abf"/><stop offset="0.424" stop-color="#4575b4"/><stop offset="0.545" stop-color="#4471b2"/><stop offset="0.636" stop-color="#4e80ba"/><stop offset="0.697" stop-color="#598dc0"/><stop offset="0.773" stop-color="#5183bb"/><stop offset="0.848" stop-color="#3d5ba7"/><stop offset="1.000" stop-color="#394fa1"/></linearGradient></defs>
<rect x="174.43" y="244.00" width="3.19" height="66.00" fill="url(#g57)"/>
<defs><linearGradient id="g58" x1="0" y1="0" x2="0" y2="1"><stop offset="0.000" stop-color="#426cb0"/><stop offset="0.045" stop-color="#4778b5"/><stop offset="0.068" stop-color="#6297c6"/><stop offset="0.091" stop-color="#89beda"/><stop offset="0.114" stop-color="#bfe3ef"/><stop offset="0.136" stop-color="#eaf7e6"/><stop offset="0.148" stop-color="#ffffbf"/><stop offset="0.166" stop-color="#fee89c"/><stop offset="0.182" stop-color="#fdae61"/><stop offset="0.197" stop-color="#ed5e3c"/><stop offset="0.212" stop-color="#db392b"/><stop offset="0.225" stop-color="#f57547"/><stop offset="0.238" stop-color="#fed484"/><stop offset="0.250" stop-color="#ffffbf"/><stop offset="0.265" stop-color="#e0f3f8"/><stop offset="0.280" stop-color="#a4d4e6"/><stop offset="0.311" stop-color="#6ea6cd"/><stop offset="0.348" stop-color="#598dc0"/><stop offset="0.424" stop-color="#4778b5"/><stop offset="0.545" stop-color="#4574b4"/><stop offset="0.636" stop-color="#5082bb"/><stop offset="0.697" stop-color="#5c90c2"/><stop offset="0.773" stop-color="#5386bd"/><stop offset="0.848" stop-color="#4470b2"/><stop offset="1.000" stop-color="#4065ac"/></linearGradient></defs>
<rect x="176.92" y="244.00" width="3.19" height="66.00" fill="url(#g58)"/>
<defs><linearGradient id="g59" x1="0" y1="0" x2="0" y2="1"><stop offset="0.000" stop-color="#4370b2"/><stop offset="0.045" stop-color="#4a7bb7"/><stop offset="0.068" stop-color="#659bc7"/><stop offset="0.091" stop-color="#74add1"/><stop offset="0.114" stop-color="#abd9e9"/><stop offset="0.136" stop-color="#ddf1f7"/><stop offset="0.154" stop-color="#ffffbf"/><stop offset="0.173" stop-color="#fee89c"/><stop offset="0.188" stop-color="#fdae61"/><stop offset="0.203" stop-color="#ed5e3c"/><stop offset="0.218" stop-color="#e14531"/><stop offset="0.232" stop-color="#f57547"/><stop offset="0.244" stop-color="#fed484"/><stop offset="0.256" stop-color="#ffffbf"/><stop offset="0.271" stop-color="#e0f3f8"/><stop offset="0.286" stop-color="#a4d4e6"/><stop offset="0.311" stop-color="#6ea6cd"/><stop offset="0.348" stop-color="#4b7cb8"/><stop offset="0.424" stop-color="#4066ac"/><stop offset="0.545" stop-color="#3f62ab"/><stop offset="0.636" stop-color="#4472b2"/><stop offset="0.697" stop-color="#4a7ab7"/><stop offset="0.773" stop-color="#4575b4"/><stop offset="0.848" stop-color="#4574b3"/><stop offset="1.000" stop-color="#4168ae"/></linearGradient></defs>
<rect x="179.41" y="244.00" width="3.19" height="66.00" fill="url(#g59)"/>
<defs><linearGradient id="g60" x1="0" y1="0" x2="0" y2="1"><stop offset="0.000" stop-color="#4470b2"/><stop offset="0.045" stop-color="#4a7bb7"/><stop offset="0.068" stop-color="#659bc8"/><stop offset="0.091" stop-color="#8cc0dc"/><stop offset="0.114" stop-color="#c2e4f0"/><stop offset="0.136" stop-color="#ecf8e2"/><stop offset="0.150" stop-color="#ffffbf"/><stop offset="0.168" stop-color="#fee89c"/><stop offset="0.183" stop-color="#fdae61"/><stop offset="0.198" stop-color="#ed5e3c"/><stop offset="0.213" stop-color="#db382a"/><stop offset="0.227" stop-color="#f57547"/><stop offset="0.239" stop-color="#fed484"/><stop offset="0.251" stop-color="#ffffbf"/><stop offset="0.266" stop-color="#e0f3f8"/><stop offset="0.282" stop-color="#a4d4e6"/><stop offset="0.311" stop-color="#6ea6cd"/><stop offset="0.348" stop-color="#588cc0"/><stop offset="0.424" stop-color="#4677b5"/><stop offset="0.545" stop-color="#4473b3"/><stop offset="0.636" stop-color="#4f81ba"/><stop offset="0.697" stop-color="#5a8ec1"/><stop offset="0.773" stop-color="#5285bc"/><stop offset="0.848" stop-color="#4574b4"/><stop offset="1.000" stop-color="#4169ae"/></linearGradient></defs>
<rect x="181.90" y="244.00" width="3.19" height="66.00" fill="url(#g60)"/>
<defs><linearGradient id="g61" x1="0" y1="0" x2="0" y2="1"><stop offset="0.000" stop-color="#3f64ab"/><stop offset="0.045" stop-color="#436fb1"/><stop offset="0.068" stop-color="#5b90c2"/><stop offset="0.091" stop-color="#7db4d5"/><stop offset="0.114" stop-color="#b4ddeb"/><stop offset="0.136" stop-color="#e3f4f2"/><stop offset="0.158" stop-color="#ffffbf"/><stop offset="0.177" stop-color="#fee89c"/><stop offset="0.192" stop-color="#fdae61"/><stop offset="0.207" stop-color="#ed5e3c"/><stop offset="0.222" stop-color="#df402e"/><stop offset="0.236" stop-color="#f57547"/><stop offset="0.248" stop-color="#fed484"/><stop offset="0.260" stop-color="#ffffbf"/><stop offset="0.275" stop-color="#e0f3f8"/><stop offset="0.290" stop-color="#a4d4e6"/><stop offset="0.311" stop-color="#6ea6cd"/><stop offset="0.348" stop-color="#426baf"/><stop offset="0.424" stop-color="#3a53a3"/><stop offset="0.545" stop-color="#394fa1"/><stop offset="0.636" stop-color="#3e5fa9"/><stop offset="0.697" stop-color="#3f63ab"/><stop offset="0.773" stop-color="#3f63ab"/><stop offset="0.848" stop-color="#4168ad"/><stop offset="1.000" stop-color="#3d5ca8"/></linearGradient></defs>
<rect x="184.39" y="244.00" width="3.19" height="66.00" fill="url(#g61)"/>
<defs><linearGradient id="g62" x1="0" y1="0" x2="0" y2="1"><stop offset="0.000" stop-color="#3f62ab"/><stop offset="0.045" stop-color="#436eb0"/><stop offset="0.068" stop-color="#5a8ec1"/><stop offset="0.091" stop-color="#81b8d7"/><stop offset="0.114" stop-color="#b8dfed"/><stop offset="0.136" stop-color="#e6f5ee"/><stop offset="0.160" stop-color="#ffffbf"/><stop offset="0.178" stop-color="#fee89c"/><stop offset="0.193" stop-color="#fdae61"/><stop offset="0.208" stop-color="#ed5e3c"/><stop offset="0.224" stop-color="#dd3d2d"/><stop offset="0.237" stop-color="#f57547"/><stop offset="0.249" stop-color="#fed484"/><stop offset="0.261" stop-color="#ffffbf"/><stop offset="0.277" stop-color="#e0f3f8"/><stop offset="0.292" stop-color="#a4d4e6"/><stop offset="0.311" stop-color="#6ea6cd"/><stop offset="0.348" stop-color="#5385bc"/><stop offset="0.424" stop-color="#4370b1"/><stop offset="0.545" stop-color="#426cb0"/><stop offset="0.636" stop-color="#4a7bb7"/><stop offset="0.697" stop-color="#5386bd"/><stop offset="0.773" stop-color="#4d7eb9"/><stop offset="0.848" stop-color="#4066ad"/><stop offset="1.000" stop-color="#3c5aa7"/></linearGradient></defs>
<rect x="186.88" y="244.00" width="3.19" height="66.00" fill="url(#g62)"/>
<defs><linearGradient id="g63" x1="0" y1="0" x2="0" y2="1"><stop offset="0.000" stop-color="#3f61aa"/><stop offset="0.045" stop-color="#436db0"/><stop offset="0.068" stop-color="#5a8ec1"/><stop offset="0.091" stop-color="#74add1"/><stop offset="0.114" stop-color="#abd9e9"/><stop offset="0.136" stop-color="#ddf1f7"/><stop offset="0.163" stop-color="#ffffbf"/><stop offset="0.181" stop-color="#fee89c"/><stop offset="0.196" stop-color="#fdae61"/><stop offset="0.211" stop-color="#ed5e3c"/><stop offset="0.226" stop-color="#e14531"/><stop offset="0.240" stop-color="#f57547"/><stop offset="0.252" stop-color="#fed484"/><stop offset="0.264" stop-color="#ffffbf"/><stop offset="0.279" stop-color="#e0f3f8"/><stop offset="0.295" stop-color="#a4d4e6"/><stop offset="0.311" stop-color="#6ea6cd"/><stop offset="0.348" stop-color="#4a7bb7"/><stop offset="0.424" stop-color="#4064ac"/><stop offset="0.545" stop-color="#3e60aa"/><stop offset="0.636" stop-color="#4370b1"/><stop offset="0.697" stop-color="#4878b6"/><stop offset="0.773" stop-color="#4574b3"/><stop offset="0.848" stop-color="#4065ac"/><stop offset="1.000" stop-color="#3c5aa6"/></linearGradient></defs>
<rect x="189.37" y="244.00" width="3.19" height="66.00" fill="url(#g63)"/>
<defs><linearGradient id="g64" x1="0" y1="0" x2="0" y2="1"><stop offset="0.000" stop-color="#4573b3"/><stop offset="0.045" stop-color="#4d7eb9"/><stop offset="0.068" stop-color="#679ec9"/><stop offset="0.091" stop-color="#81b8d7"/><stop offset="0.114" stop-color="#b8dfed"/><stop offset="0.136" stop-color="#e6f5ee"/><stop offset="0.156" stop-color="#ffffbf"/><stop offset="0.175" stop-color="#fee89c"/><stop offset="0.190" stop-color="#fdae61"/><stop offset="0.205" stop-color="#ed5e3c"/><stop offset="0.220" stop-color="#dd3e2d"/><stop offset="0.234" stop-color="#f57547"/><stop offset="0.246" stop-color="#fed484"/><stop offset="0.258" stop-color="#ffffbf"/><stop offset="0.273" stop-color="#e0f3f8"/><stop offset="0.288" stop-color="#a4d4e6"/><stop offset="0.311" stop-color="#6ea6cd"/><stop offset="0.348" stop-color="#5082bb"/><stop offset="0.424" stop-color="#426caf"/><stop offset="0.545" stop-color="#4168ae"/><stop offset="0.636" stop-color="#4777b5"/><stop offset="0.697" stop-color="#4f81ba"/><stop offset="0.773" stop-color="#4a7bb7"/><stop offset="0.848" stop-color="#4777b5"/><stop offset="1.000" stop-color="#426caf"/></linearGradient></defs>
<rect x="191.86" y="244.00" width="3.19" height="66.00" fill="url(#g64)"/>
<defs><linearGradient id="g65" x1="0" y1="0" x2="0" y2="1"><stop offset="0.000" stop-color="#426baf"/><stop offset="0.045" stop-color="#4677b5"/><stop offset="0.068" stop-color="#6196c5"/><stop offset="0.091" stop-color="#7ab2d3"/><stop offset="0.114" stop-color="#b1dceb"/><stop offset="0.136" stop-color="#e1f3f6"/><stop offset="0.151" stop-color="#ffffbf"/><stop offset="0.169" stop-color="#fee89c"/><stop offset="0.185" stop-color="#fdae61"/><stop offset="0.200" stop-color="#ed5e3c"/><stop offset="0.215" stop-color="#df422f"/><stop offset="0.229" stop-color="#f57547"/><stop offset="0.241" stop-color="#fed484"/><stop offset="0.253" stop-color="#ffffbf"/><stop offset="0.268" stop-color="#e0f3f8"/><stop offset="0.283" stop-color="#a4d4e6"/><stop offset="0.311" stop-color="#6ea6cd"/><stop offset="0.348" stop-color="#4f81ba"/><stop offset="0.424" stop-color="#426baf"/><stop offset="0.545" stop-color="#4167ad"/><stop offset="0.636" stop-color="#4676b5"/><stop offset="0.697" stop-color="#4f80ba"/><stop offset="0.773" stop-color="#497ab7"/><stop offset="0.848" stop-color="#436fb1"/><stop offset="1.000" stop-color="#3f63ab"/></linearGradient></defs>
<rect x="194.35" y="244.00" width="3.19" height="66.00" fill="url(#g65)"/>
<defs><linearGradient id="g66" x1="0" y1="0" x2="0" y2="1"><stop offset="0.000" stop-color="#3f63ab"/><stop offset="0.045" stop-color="#436fb1"/><stop offset="0.068" stop-color="#5b8fc2"/><stop offset="0.091" stop-color="#86bbd9"/><stop offset="0.114" stop-color="#bce1ee"/><stop offset="0.136" stop-color="#e8f6e9"/><stop offset="0.156" stop-color="#ffffbf"/><stop offset="0.174" stop-color="#fee89c"/><stop offset="0.190" stop-color="#fdae61"/><stop offset="0.205" stop-color="#ed5e3c"/><stop offset="0.220" stop-color="#dc3b2c"/><stop offset="0.234" stop-color="#f57547"/><stop offset="0.246" stop-color="#fed484"/><stop offset="0.258" stop-color="#ffffbf"/><stop offset="0.273" stop-color="#e0f3f8"/><stop offset="0.288" stop-color="#a4d4e6"/><stop offset="0.311" stop-color="#6ea6cd"/><stop offset="0.348" stop-color="#5e93c4"/><stop offset="0.424" stop-color="#4d7eb9"/><stop offset="0.545" stop-color="#4a7bb7"/><stop offset="0.636" stop-color="#5689be"/><stop offset="0.697" stop-color="#6298c6"/><stop offset="0.773" stop-color="#588cc0"/><stop offset="0.848" stop-color="#4167ad"/><stop offset="1.000" stop-color="#3d5ba7"/></linearGradient></defs>
<rect x="196.84" y="244.00" width="3.19" height="66.00" fill="url(#g66)"/>
<defs><linearGradient id="g67" x1="0" y1="0" x2="0" y2="1"><stop offset="0.000" stop-color="#4167ad"/><stop offset="0.045" stop-color="#4473b3"/><stop offset="0.068" stop-color="#5e93c3"/><stop offset="0.091" stop-color="#83b9d8"/><stop offset="0.114" stop-color="#bae0ed"/><stop offset="0.136" stop-color="#e7f6ec"/><stop offset="0.154" stop-color="#ffffbf"/><stop offset="0.172" stop-color="#fee89c"/><stop offset="0.187" stop-color="#fdae61"/><stop offset="0.202" stop-color="#ed5e3c"/><stop offset="0.217" stop-color="#dd3d2d"/><stop offset="0.231" stop-color="#f57547"/><stop offset="0.243" stop-color="#fed484"/><stop offset="0.255" stop-color="#ffffbf"/><stop offset="0.270" stop-color="#e0f3f8"/><stop offset="0.285" stop-color="#a4d4e6"/><stop offset="0.311" stop-color="#6ea6cd"/><stop offset="0.348" stop-color="#5184bc"/><stop offset="0.424" stop-color="#436eb0"/><stop offset="0.545" stop-color="#416aaf"/><stop offset="0.636" stop-color="#4879b6"/><stop offset="0.697" stop-color="#5184bc"/><stop offset="0.773" stop-color="#4b7db8"/><stop offset="0.848" stop-color="#426baf"/><stop offset="1.000" stop-color="#3e5fa9"/></linearGradient></defs>
<rect x="199.33" y="244.00" width="3.19" height="66.00" fill="url(#g67)"/>
<defs><linearGradient id="g68" x1="0" y1="0" x2="0" y2="1"><stop offset="0.000" stop-color="#426baf"/><stop offset="0.045" stop-color="#4677b5"/><stop offset="0.068" stop-color="#6196c5"/><stop offset="0.091" stop-color="#74add1"/><stop offset="0.114" stop-color="#abd9e9"/><stop offset="0.136" stop-color="#ddf1f7"/><stop offset="0.153" stop-color="#ffffbf"/><stop offset="0.171" stop-color="#fee89c"/><stop offset="0.186" stop-color="#fdae61"/><stop offset="0.202" stop-color="#ed5e3c"/><stop offset="0.217" stop-color="#e14531"/><stop offset="0.230" stop-color="#f57547"/><stop offset="0.242" stop-color="#fed484"/><stop offset="0.255" stop-color="#ffffbf"/><stop offset="0.270" stop-color="#e0f3f8"/><stop offset="0.285" stop-color="#a4d4e6"/><stop offset="0.311" stop-color="#6ea6cd"/><stop offset="0.348" stop-color="#5385bc"/><stop offset="0.424" stop-color="#4370b1"/><stop offset="0.545" stop-color="#426caf"/><stop offset="0.636" stop-color="#4a7bb7"/><stop offset="0.697" stop-color="#5386bd"/><stop offset="0.773" stop-color="#4d7eb9"/><stop offset="0.848" stop-color="#436fb1"/><stop offset="1.000" stop-color="#3f63ab"/></linearGradient></defs>
<rect x="201.82" y="244.00" width="3.19" height="66.00" fill="url(#g68)"/>
<defs><linearGradient id="g69" x1="0" y1="0" x2="0" y2="1"><stop offset="0.000" stop-color="#3e60aa"/><stop offset="0.045" stop-color="#426caf"/><stop offset="0.068" stop-color="#588cc0"/><stop offset="0.091" stop-color="#8bbfdb"/><stop offset="0.114" stop-color="#c1e4ef"/><stop offset="0.136" stop-color="#ebf7e4"/><stop offset="0.147" stop-color="#ffffbf"/><stop offset="0.165" stop-color="#fee89c"/><stop offset="0.180" stop-color="#fdae61"/><stop offset="0.196" stop-color="#ed5e3c"/><stop offset="0.211" stop-color="#db382b"/><stop offset="0.224" stop-color="#f57547"/><stop offset="0.237" stop-color="#fed484"/><stop offset="0.249" stop-color="#ffffbf"/><stop offset="0.264" stop-color="#e0f3f8"/><stop offset="0.279" stop-color="#a4d4e6"/><stop offset="0.311" stop-color="#6ea6cd"/><stop offset="0.348" stop-color="#4879b6"/><stop offset="0.424" stop-color="#3f61aa"/><stop offset="0.545" stop-color="#3e5da8"/><stop offset="0.636" stop-color="#436db0"/><stop offset="0.697" stop-color="#4575b4"/><stop offset="0.773" stop-color="#4471b2"/><stop offset="0.848" stop-color="#4064ab"/><stop offset="1.000" stop-color="#3c58a6"/></linearGradient></defs>
<rect x="204.31" y="244.00" width="3.19" height="66.00" fill="url(#g69)"/>
<defs><linearGradient id="g70" x1="0" y1="0" x2="0" y2="1"><stop offset="0.000" stop-color="#4067ad"/><stop offset="0.045" stop-color="#4472b3"/><stop offset="0.068" stop-color="#5e92c3"/><stop offset="0.091" stop-color="#76aed2"/><stop offset="0.114" stop-color="#addae9"/><stop offset="0.136" stop-color="#def2f8"/><stop offset="0.156" stop-color="#ffffbf"/><stop offset="0.175" stop-color="#fee89c"/><stop offset="0.190" stop-color="#fdae61"/><stop offset="0.205" stop-color="#ed5e3c"/><stop offset="0.220" stop-color="#e04430"/><stop offset="0.234" stop-color="#f57547"/><stop offset="0.246" stop-color="#fed484"/><stop offset="0.258" stop-color="#ffffbf"/><stop offset="0.273" stop-color="#e0f3f8"/><stop offset="0.288" stop-color="#a4d4e6"/><stop offset="0.311" stop-color="#6ea6cd"/><stop offset="0.348" stop-color="#4c7db8"/><stop offset="0.424" stop-color="#4066ad"/><stop offset="0.545" stop-color="#3f62ab"/><stop offset="0.636" stop-color="#4472b3"/><stop offset="0.697" stop-color="#4a7bb7"/><stop offset="0.773" stop-color="#4676b5"/><stop offset="0.848" stop-color="#426baf"/><stop offset="1.000" stop-color="#3e5fa9"/></linearGradient></defs>
<rect x="206.80" y="244.00" width="3.19" height="66.00" fill="url(#g70)"/>
<defs><linearGradient id="g71" x1="0" y1="0" x2="0" y2="1"><stop offset="0.000" stop-color="#4574b3"/><stop offset="0.045" stop-color="#4d7eb9"/><stop offset="0.068" stop-color="#679ec9"/><stop offset="0.091" stop-color="#7cb4d5"/><stop offset="0.114" stop-color="#b3ddeb"/><stop offset="0.136" stop-color="#e3f4f3"/><stop offset="0.154" stop-color="#ffffbf"/><stop offset="0.172" stop-color="#fee89c"/><stop offset="0.187" stop-color="#fdae61"/><stop offset="0.202" stop-color="#ed5e3c"/><stop offset="0.217" stop-color="#df402e"/><stop offset="0.231" stop-color="#f57547"/><stop offset="0.243" stop-color="#fed484"/><stop offset="0.255" stop-color="#ffffbf"/><stop offset="0.270" stop-color="#e0f3f8"/><stop offset="0.286" stop-color="#a4d4e6"/><stop offset="0.311" stop-color="#6ea6cd"/><stop offset="0.348" stop-color="#5184bc"/><stop offset="0.424" stop-color="#436eb1"/><stop offset="0.545" stop-color="#426aaf"/><stop offset="0.636" stop-color="#4979b6"/><stop offset="0.697" stop-color="#5284bc"/><stop offset="0.773" stop-color="#4c7db8"/><stop offset="0.848" stop-color="#4777b5"/><stop offset="1.000" stop-color="#426cb0"/></linearGradient></defs>
<rect x="209.29" y="244.00" width="3.19" height="66.00" fill="url(#g71)"/>
<defs><linearGradient id="g72" x1="0" y1="0" x2="0" y2="1"><stop offset="0.000" stop-color="#4168ae"/><stop offset="0.045" stop-color="#4574b3"/><stop offset="0.068" stop-color="#5f93c4"/><stop offset="0.091" stop-color="#79b1d3"/><stop offset="0.114" stop-color="#b0dbea"/><stop offset="0.136" stop-color="#e1f3f6"/><stop offset="0.152" stop-color="#ffffbf"/><stop offset="0.170" stop-color="#fee89c"/><stop offset="0.185" stop-color="#fdae61"/><stop offset="0.200" stop-color="#ed5e3c"/><stop offset="0.215" stop-color="#e0422f"/><stop offset="0.229" stop-color="#f57547"/><stop offset="0.241" stop-color="#fed484"/><stop offset="0.253" stop-color="#ffffbf"/><stop offset="0.268" stop-color="#e0f3f8"/><stop offset="0.284" stop-color="#a4d4e6"/><stop offset="0.311" stop-color="#6ea6cd"/><stop offset="0.348" stop-color="#588cc0"/><stop offset="0.424" stop-color="#4777b5"/><stop offset="0.545" stop-color="#4473b3"/><stop offset="0.636" stop-color="#4f81ba"/><stop offset="0.697" stop-color="#5b8fc1"/><stop offset="0.773" stop-color="#5285bc"/><stop offset="0.848" stop-color="#426cb0"/><stop offset="1.000" stop-color="#3e60aa"/></linearGradient></defs>
<rect x="211.78" y="244.00" width="3.19" height="66.00" fill="url(#g72)"/>
<defs><linearGradient id="g73" x1="0" y1="0" x2="0" y2="1"><stop offset="0.000" stop-color="#3d5da8"/><stop offset="0.045" stop-color="#4169ae"/><stop offset="0.068" stop-color="#578abf"/><stop offset="0.091" stop-color="#6ca4cc"/><stop offset="0.114" stop-color="#a2d2e5"/><stop offset="0.136" stop-color="#d4edf5"/><stop offset="0.160" stop-color="#ffffbf"/><stop offset="0.178" stop-color="#fee89c"/><stop offset="0.194" stop-color="#fdae61"/><stop offset="0.209" stop-color="#ed5e3c"/><stop offset="0.224" stop-color="#e34a33"/><stop offset="0.237" stop-color="#f57547"/><stop offset="0.250" stop-color="#fed484"/><stop offset="0.262" stop-color="#ffffbf"/><stop offset="0.277" stop-color="#e0f3f8"/><stop offset="0.292" stop-color="#a4d4e6"/><stop offset="0.311" stop-color="#6ea6cd"/><stop offset="0.348" stop-color="#4878b6"/><stop offset="0.424" stop-color="#3f61aa"/><stop offset="0.545" stop-color="#3d5da8"/><stop offset="0.636" stop-color="#426db0"/><stop offset="0.697" stop-color="#4575b4"/><stop offset="0.773" stop-color="#4471b2"/><stop offset="0.848" stop-color="#3f61aa"/><stop offset="1.000" stop-color="#3b55a4"/></linearGradient></defs>
<rect x="214.27" y="244.00" width="3.19" height="66.00" fill="url(#g73)"/>
<defs><linearGradient id="g74" x1="0" y1="0" x2="0" y2="1"><stop offset="0.000" stop-color="#426db0"/><stop offset="0.045" stop-color="#4878b6"/><stop offset="0.068" stop-color="#6297c6"/><stop offset="0.091" stop-color="#92c5de"/><stop offset="0.114" stop-color="#c8e7f1"/><stop offset="0.136" stop-color="#eff9dc"/><stop offset="0.154" stop-color="#ffffbf"/><stop offset="0.172" stop-color="#fee89c"/><stop offset="0.187" stop-color="#fdae61"/><stop offset="0.202" stop-color="#ed5e3c"/><stop offset="0.217" stop-color="#d93429"/><stop offset="0.231" stop-color="#f57547"/><stop offset="0.243" stop-color="#fed484"/><stop offset="0.255" stop-color="#ffffbf"/><stop offset="0.270" stop-color="#e0f3f8"/><stop offset="0.285" stop-color="#a4d4e6"/><stop offset="0.311" stop-color="#6ea6cd"/><stop offset="0.348" stop-color="#4f81ba"/><stop offset="0.424" stop-color="#426baf"/><stop offset="0.545" stop-color="#4067ad"/><stop offset="0.636" stop-color="#4676b5"/><stop offset="0.697" stop-color="#4e80ba"/><stop offset="0.773" stop-color="#497ab6"/><stop offset="0.848" stop-color="#4470b2"/><stop offset="1.000" stop-color="#4065ac"/></linearGradient></defs>
<rect x="216.76" y="244.00" width="3.19" height="66.00" fill="url(#g74)"/>
<defs><linearGradient id="g75" x1="0" y1="0" x2="0" y2="1"><stop offset="0.000" stop-color="#4470b2"/><stop offset="0.045" stop-color="#4a7bb7"/><stop offset="0.068" stop-color="#659bc8"/><stop offset="0.091" stop-color="#6ba2cb"/><stop offset="0.114" stop-color="#a0d0e4"/><stop offset="0.136" stop-color="#d2ecf4"/><stop offset="0.150" stop-color="#ffffbf"/><stop offset="0.168" stop-color="#fee89c"/><stop offset="0.183" stop-color="#fdae61"/><stop offset="0.199" stop-color="#ed5e3c"/><stop offset="0.214" stop-color="#e44b33"/><stop offset="0.227" stop-color="#f57547"/><stop offset="0.240" stop-color="#fed484"/><stop offset="0.252" stop-color="#ffffbf"/><stop offset="0.267" stop-color="#e0f3f8"/><stop offset="0.282" stop-color="#a4d4e6"/><stop offset="0.311" stop-color="#6ea6cd"/><stop offset="0.348" stop-color="#578bbf"/><stop offset="0.424" stop-color="#4676b4"/><stop offset="0.545" stop-color="#4472b3"/><stop offset="0.636" stop-color="#4f80ba"/><stop offset="0.697" stop-color="#598dc1"/><stop offset="0.773" stop-color="#5184bc"/><stop offset="0.848" stop-color="#4574b4"/><stop offset="1.000" stop-color="#4168ae"/></linearGradient></defs>
<rect x="219.24" y="244.00" width="3.19" height="66.00" fill="url(#g75)"/>
<defs><linearGradient id="g76" x1="0" y1="0" x2="0" y2="1"><stop offset="0.000" stop-color="#3e60aa"/><stop offset="0.045" stop-color="#426cb0"/><stop offset="0.068" stop-color="#598dc0"/><stop offset="0.091" stop-color="#90c4dd"/><stop offset="0.114" stop-color="#c6e6f1"/><stop offset="0.136" stop-color="#eef8de"/><stop offset="0.151" stop-color="#ffffbf"/><stop offset="0.170" stop-color="#fee89c"/><stop offset="0.185" stop-color="#fdae61"/><stop offset="0.200" stop-color="#ed5e3c"/><stop offset="0.215" stop-color="#da3529"/><stop offset="0.229" stop-color="#f57547"/><stop offset="0.241" stop-color="#fed484"/><stop offset="0.253" stop-color="#ffffbf"/><stop offset="0.268" stop-color="#e0f3f8"/><stop offset="0.283" stop-color="#a4d4e6"/><stop offset="0.311" stop-color="#6ea6cd"/><stop offset="0.348" stop-color="#588cc0"/><stop offset="0.424" stop-color="#4777b5"/><stop offset="0.545" stop-color="#4473b3"/><stop offset="0.636" stop-color="#4f81ba"/><stop offset="0.697" stop-color="#5a8fc1"/><stop offset="0.773" stop-color="#5285bc"/><stop offset="0.848" stop-color="#4064ac"/><stop offset="1.000" stop-color="#3c59a6"/></linearGradient></defs>
<rect x="221.73" y="244.00" width="3.19" height="66.00" fill="url(#g76)"/>
<defs><linearGradient id="g77" x1="0" y1="0" x2="0" y2="1"><stop offset="0.000" stop-color="#4473b3"/><stop offset="0.045" stop-color="#4c7eb9"/><stop offset="0.068" stop-color="#679dc9"/><stop offset="0.091" stop-color="#79b1d3"/><stop offset="0.114" stop-color="#b0dbea"/><stop offset="0.136" stop-color="#e1f3f6"/><stop offset="0.154" stop-color="#ffffbf"/><stop offset="0.172" stop-color="#fee89c"/><stop offset="0.187" stop-color="#fdae61"/><stop offset="0.202" stop-color="#ed5e3c"/><stop offset="0.218" stop-color="#e0422f"/><stop offset="0.231" stop-color="#f57547"/><stop offset="0.243" stop-color="#fed484"/><stop offset="0.255" stop-color="#ffffbf"/><stop offset="0.271" stop-color="#e0f3f8"/><stop offset="0.286" stop-color="#a4d4e6"/><stop offset="0.311" stop-color="#6ea6cd"/><stop offset="0.348" stop-color="#4e7fb9"/><stop offset="0.424" stop-color="#4169ae"/><stop offset="0.545" stop-color="#4065ac"/><stop offset="0.636" stop-color="#4575b4"/><stop offset="0.697" stop-color="#4d7eb9"/><stop offset="0.773" stop-color="#4878b6"/><stop offset="0.848" stop-color="#4777b5"/><stop offset="1.000" stop-color="#426baf"/></linearGradient></defs>
<rect x="224.22" y="244.00" width="3.19" height="66.00" fill="url(#g77)"/>
<defs><linearGradient id="g78" x1="0" y1="0" x2="0" y2="1"><stop offset="0.000" stop-color="#4066ad"/><stop offset="0.045" stop-color="#4472b2"/><stop offset="0.068" stop-color="#5d92c3"/><stop offset="0.091" stop-color="#71a9cf"/><stop offset="0.114" stop-color="#a8d6e7"/><stop offset="0.136" stop-color="#d9f0f6"/><stop offset="0.151" stop-color="#ffffbf"/><stop offset="0.170" stop-color="#fee89c"/><stop offset="0.185" stop-color="#fdae61"/><stop offset="0.200" stop-color="#ed5e3c"/><stop offset="0.215" stop-color="#e24732"/><stop offset="0.229" stop-color="#f57547"/><stop offset="0.241" stop-color="#fed484"/><stop offset="0.253" stop-color="#ffffbf"/><stop offset="0.268" stop-color="#e0f3f8"/><stop offset="0.283" stop-color="#a4d4e6"/><stop offset="0.311" stop-color="#6ea6cd"/><stop offset="0.348" stop-color="#4471b2"/><stop offset="0.424" stop-color="#3c59a6"/><stop offset="0.545" stop-color="#3b55a4"/><stop offset="0.636" stop-color="#4065ac"/><stop offset="0.697" stop-color="#426baf"/><stop offset="0.773" stop-color="#4169ae"/><stop offset="0.848" stop-color="#426aaf"/><stop offset="1.000" stop-color="#3e5ea9"/></linearGradient></defs>
<rect x="226.71" y="244.00" width="3.19" height="66.00" fill="url(#g78)"/>
<defs><linearGradient id="g79" x1="0" y1="0" x2="0" y2="1"><stop offset="0.000" stop-color="#436eb0"/><stop offset="0.045" stop-color="#4879b6"/><stop offset="0.068" stop-color="#6399c6"/><stop offset="0.091" stop-color="#a4d3e6"/><stop offset="0.114" stop-color="#d9f0f6"/><stop offset="0.136" stop-color="#f9fdca"/><stop offset="0.155" stop-color="#ffffbf"/><stop offset="0.173" stop-color="#fee89c"/><stop offset="0.188" stop-color="#fdae61"/><stop offset="0.203" stop-color="#ed5e3c"/><stop offset="0.218" stop-color="#d22c27"/><stop offset="0.232" stop-color="#f57547"/><stop offset="0.244" stop-color="#fed484"/><stop offset="0.256" stop-color="#ffffbf"/><stop offset="0.271" stop-color="#e0f3f8"/><stop offset="0.287" stop-color="#a4d4e6"/><stop offset="0.311" stop-color="#6ea6cd"/><stop offset="0.348" stop-color="#6297c6"/><stop offset="0.424" stop-color="#5082bb"/><stop offset="0.545" stop-color="#4d7fb9"/><stop offset="0.636" stop-color="#598dc0"/><stop offset="0.697" stop-color="#679ec9"/><stop offset="0.773" stop-color="#5c90c2"/><stop offset="0.848" stop-color="#4472b2"/><stop offset="1.000" stop-color="#4066ad"/></linearGradient></defs>
<rect x="229.20" y="244.00" width="3.19" height="66.00" fill="url(#g79)"/>
<defs><linearGradient id="g80" x1="0" y1="0" x2="0" y2="1"><stop offset="0.000" stop-color="#3c59a6"/><stop offset="0.045" stop-color="#4065ac"/><stop offset="0.068" stop-color="#5386bd"/><stop offset="0.091" stop-color="#72aad0"/><stop offset="0.114" stop-color="#a8d7e8"/><stop offset="0.136" stop-color="#daf0f6"/><stop offset="0.164" stop-color="#ffffbf"/><stop offset="0.182" stop-color="#fee89c"/><stop offset="0.197" stop-color="#fdae61"/><stop offset="0.212" stop-color="#ed5e3c"/><stop offset="0.227" stop-color="#e24631"/><stop offset="0.241" stop-color="#f57547"/><stop offset="0.253" stop-color="#fed484"/><stop offset="0.265" stop-color="#ffffbf"/><stop offset="0.280" stop-color="#e0f3f8"/><stop offset="0.295" stop-color="#a4d4e6"/><stop offset="0.311" stop-color="#6ea6cd"/><stop offset="0.348" stop-color="#4d7fb9"/><stop offset="0.424" stop-color="#4169ae"/><stop offset="0.545" stop-color="#4065ac"/><stop offset="0.636" stop-color="#4574b4"/><stop offset="0.697" stop-color="#4c7eb9"/><stop offset="0.773" stop-color="#4878b6"/><stop offset="0.848" stop-color="#3d5da8"/><stop offset="1.000" stop-color="#3a51a2"/></linearGradient></defs>
<rect x="231.69" y="244.00" width="3.19" height="66.00" fill="url(#g80)"/>
<defs><linearGradient id="g81" x1="0" y1="0" x2="0" y2="1"><stop offset="0.000" stop-color="#436fb1"/><stop offset="0.045" stop-color="#497ab6"/><stop offset="0.068" stop-color="#6399c7"/><stop offset="0.091" stop-color="#8bc0db"/><stop offset="0.114" stop-color="#c1e4ef"/><stop offset="0.136" stop-color="#ebf7e4"/><stop offset="0.158" stop-color="#ffffbf"/><stop offset="0.176" stop-color="#fee89c"/><stop offset="0.191" stop-color="#fdae61"/><stop offset="0.207" stop-color="#ed5e3c"/><stop offset="0.222" stop-color="#db382b"/><stop offset="0.235" stop-color="#f57547"/><stop offset="0.247" stop-color="#fed484"/><stop offset="0.260" stop-color="#ffffbf"/><stop offset="0.275" stop-color="#e0f3f8"/><stop offset="0.290" stop-color="#a4d4e6"/><stop offset="0.311" stop-color="#6ea6cd"/><stop offset="0.348" stop-color="#4b7cb8"/><stop offset="0.424" stop-color="#4065ac"/><stop offset="0.545" stop-color="#3f61aa"/><stop offset="0.636" stop-color="#4471b2"/><stop offset="0.697" stop-color="#497ab6"/><stop offset="0.773" stop-color="#4575b4"/><stop offset="0.848" stop-color="#4473b3"/><stop offset="1.000" stop-color="#4067ad"/></linearGradient></defs>
<rect x="234.18" y="244.00" width="3.19" height="66.00" fill="url(#g81)"/>
<defs><linearGradient id="g82" x1="0" y1="0" x2="0" y2="1"><stop offset="0.000" stop-color="#3c5aa7"/><stop offset="0.045" stop-color="#4066ac"/><stop offset="0.068" stop-color="#5487bd"/><stop offset="0.091" stop-color="#7bb3d4"/><stop offset="0.114" stop-color="#b2dceb"/><stop offset="0.136" stop-color="#e2f4f4"/><stop offset="0.156" stop-color="#ffffbf"/><stop offset="0.174" stop-color="#fee89c"/><stop offset="0.189" stop-color="#fdae61"/><stop offset="0.205" stop-color="#ed5e3c"/><stop offset="0.220" stop-color="#df412f"/><stop offset="0.233" stop-color="#f57547"/><stop offset="0.246" stop-color="#fed484"/><stop offset="0.258" stop-color="#ffffbf"/><stop offset="0.273" stop-color="#e0f3f8"/><stop offset="0.288" stop-color="#a4d4e6"/><stop offset="0.311" stop-color="#6ea6cd"/><stop offset="0.348" stop-color="#4c7eb9"/><stop offset="0.424" stop-color="#4167ad"/><stop offset="0.545" stop-color="#3f63ab"/><stop offset="0.636" stop-color="#4473b3"/><stop offset="0.697" stop-color="#4b7cb8"/><stop offset="0.773" stop-color="#4777b5"/><stop offset="0.848" stop-color="#3e5ea9"/><stop offset="1.000" stop-color="#3a52a3"/></linearGradient></defs>
<rect x="236.67" y="244.00" width="3.19" height="66.00" fill="url(#g82)"/>
<defs><linearGradient id="g83" x1="0" y1="0" x2="0" y2="1"><stop offset="0.000" stop-color="#7db4d5"/><stop offset="0.023" stop-color="#bae0ed"/><stop offset="0.045" stop-color="#e5f5ef"/><stop offset="0.076" stop-color="#fcfec4"/><stop offset="0.106" stop-color="#feeea6"/><stop offset="0.129" stop-color="#fed889"/><stop offset="0.152" stop-color="#fff2ac"/><stop offset="0.174" stop-color="#fffbb9"/><stop offset="0.194" stop-color="#fdba6d"/><stop offset="0.209" stop-color="#de3f2e"/><stop offset="0.220" stop-color="#be1826"/><stop offset="0.232" stop-color="#f46d43"/><stop offset="0.245" stop-color="#fee090"/><stop offset="0.261" stop-color="#f0f9dc"/><stop offset="0.280" stop-color="#a4d4e6"/><stop offset="0.303" stop-color="#689fca"/><stop offset="0.348" stop-color="#4370b1"/><stop offset="0.485" stop-color="#4168ad"/><stop offset="0.621" stop-color="#4777b5"/><stop offset="0.712" stop-color="#5385bc"/><stop offset="0.818" stop-color="#4473b3"/><stop offset="1.000" stop-color="#3f63ab"/></linearGradient></defs>
<rect x="239.16" y="244.00" width="3.19" height="66.00" fill="url(#g83)"/>
<defs><linearGradient id="g84" x1="0" y1="0" x2="0" y2="1"><stop offset="0.000" stop-color="#7db5d5"/><stop offset="0.023" stop-color="#bbe1ed"/><stop offset="0.045" stop-color="#e5f5ee"/><stop offset="0.076" stop-color="#fdfec3"/><stop offset="0.106" stop-color="#feeea5"/><stop offset="0.129" stop-color="#fed788"/><stop offset="0.152" stop-color="#fff2ab"/><stop offset="0.174" stop-color="#fffbb9"/><stop offset="0.194" stop-color="#fdba6d"/><stop offset="0.209" stop-color="#de3f2e"/><stop offset="0.220" stop-color="#be1826"/><stop offset="0.232" stop-color="#f46d43"/><stop offset="0.245" stop-color="#fee090"/><stop offset="0.261" stop-color="#f0f9dc"/><stop offset="0.280" stop-color="#a4d4e6"/><stop offset="0.303" stop-color="#689fca"/><stop offset="0.348" stop-color="#426caf"/><stop offset="0.485" stop-color="#4064ac"/><stop offset="0.621" stop-color="#4574b3"/><stop offset="0.712" stop-color="#5082bb"/><stop offset="0.818" stop-color="#4574b4"/><stop offset="1.000" stop-color="#4064ac"/></linearGradient></defs>
<rect x="241.65" y="244.00" width="3.19" height="66.00" fill="url(#g84)"/>
<defs><linearGradient id="g85" x1="0" y1="0" x2="0" y2="1"><stop offset="0.000" stop-color="#6fa7ce"/><stop offset="0.023" stop-color="#acdae9"/><stop offset="0.045" stop-color="#dbf0f7"/><stop offset="0.076" stop-color="#f4fbd3"/><stop offset="0.106" stop-color="#fff6b2"/><stop offset="0.129" stop-color="#fee395"/><stop offset="0.152" stop-color="#fffab8"/><stop offset="0.174" stop-color="#fffbb9"/><stop offset="0.194" stop-color="#fdba6d"/><stop offset="0.209" stop-color="#de3f2e"/><stop offset="0.220" stop-color="#be1826"/><stop offset="0.232" stop-color="#f46d43"/><stop offset="0.245" stop-color="#fee090"/><stop offset="0.261" stop-color="#f0f9dc"/><stop offset="0.280" stop-color="#a4d4e6"/><stop offset="0.303" stop-color="#689fca"/><stop offset="0.348" stop-color="#578abf"/><stop offset="0.485" stop-color="#5183bb"/><stop offset="0.621" stop-color="#5d91c3"/><stop offset="0.712" stop-color="#689fca"/><stop offset="0.818" stop-color="#3f63ab"/><stop offset="1.000" stop-color="#3a53a3"/></linearGradient></defs>
<rect x="244.14" y="244.00" width="3.19" height="66.00" fill="url(#g85)"/>
<defs><linearGradient id="g86" x1="0" y1="0" x2="0" y2="1"><stop offset="0.000" stop-color="#80b6d6"/><stop offset="0.023" stop-color="#bde2ee"/><stop offset="0.045" stop-color="#e7f6ec"/><stop offset="0.076" stop-color="#feffc1"/><stop offset="0.106" stop-color="#feeda3"/><stop offset="0.129" stop-color="#fed586"/><stop offset="0.152" stop-color="#fff1a9"/><stop offset="0.174" stop-color="#fffbb9"/><stop offset="0.194" stop-color="#fdba6d"/><stop offset="0.209" stop-color="#de3f2e"/><stop offset="0.220" stop-color="#be1826"/><stop offset="0.232" stop-color="#f46d43"/><stop offset="0.245" stop-color="#fee090"/><stop offset="0.261" stop-color="#f0f9dc"/><stop offset="0.280" stop-color="#a4d4e6"/><stop offset="0.303" stop-color="#689fca"/><stop offset="0.348" stop-color="#4a7bb7"/><stop offset="0.485" stop-color="#4574b4"/><stop offset="0.621" stop-color="#5082bb"/><stop offset="0.712" stop-color="#5c90c2"/><stop offset="0.818" stop-color="#4677b5"/><stop offset="1.000" stop-color="#4167ad"/></linearGradient></defs>
<rect x="246.63" y="244.00" width="3.19" height="66.00" fill="url(#g86)"/>
<defs><linearGradient id="g87" x1="0" y1="0" x2="0" y2="1"><stop offset="0.000" stop-color="#679ec9"/><stop offset="0.023" stop-color="#a3d2e5"/><stop offset="0.045" stop-color="#d1ecf4"/><stop offset="0.076" stop-color="#eff9dd"/><stop offset="0.106" stop-color="#fffcba"/><stop offset="0.129" stop-color="#fee89d"/><stop offset="0.152" stop-color="#feffc0"/><stop offset="0.174" stop-color="#fffbb9"/><stop offset="0.194" stop-color="#fdba6d"/><stop offset="0.209" stop-color="#de3f2e"/><stop offset="0.220" stop-color="#be1826"/><stop offset="0.232" stop-color="#f46d43"/><stop offset="0.245" stop-color="#fee090"/><stop offset="0.261" stop-color="#f0f9dc"/><stop offset="0.280" stop-color="#a4d4e6"/><stop offset="0.303" stop-color="#689fca"/><stop offset="0.348" stop-color="#4472b3"/><stop offset="0.485" stop-color="#426baf"/><stop offset="0.621" stop-color="#497ab6"/><stop offset="0.712" stop-color="#5588be"/><stop offset="0.818" stop-color="#3c58a6"/><stop offset="1.000" stop-color="#37489e"/></linearGradient></defs>
<rect x="249.12" y="244.00" width="3.19" height="66.00" fill="url(#g87)"/>
<defs><linearGradient id="g88" x1="0" y1="0" x2="0" y2="1"><stop offset="0.000" stop-color="#86bcd9"/><stop offset="0.023" stop-color="#c3e5f0"/><stop offset="0.045" stop-color="#eaf7e5"/><stop offset="0.076" stop-color="#fffdbb"/><stop offset="0.106" stop-color="#fee99e"/><stop offset="0.129" stop-color="#fed080"/><stop offset="0.152" stop-color="#feeda4"/><stop offset="0.174" stop-color="#fffbb9"/><stop offset="0.194" stop-color="#fdba6d"/><stop offset="0.209" stop-color="#de3f2e"/><stop offset="0.220" stop-color="#be1826"/><stop offset="0.232" stop-color="#f46d43"/><stop offset="0.245" stop-color="#fee090"/><stop offset="0.261" stop-color="#f0f9dc"/><stop offset="0.280" stop-color="#a4d4e6"/><stop offset="0.303" stop-color="#689fca"/><stop offset="0.348" stop-color="#3f61aa"/><stop offset="0.485" stop-color="#3c59a6"/><stop offset="0.621" stop-color="#4169ae"/><stop offset="0.712" stop-color="#4778b6"/><stop offset="0.818" stop-color="#4c7db8"/><stop offset="1.000" stop-color="#436eb1"/></linearGradient></defs>
<rect x="251.61" y="244.00" width="3.19" height="66.00" fill="url(#g88)"/>
<defs><linearGradient id="g89" x1="0" y1="0" x2="0" y2="1"><stop offset="0.000" stop-color="#8abfdb"/><stop offset="0.023" stop-color="#c7e7f1"/><stop offset="0.045" stop-color="#ecf8e1"/><stop offset="0.076" stop-color="#fffab8"/><stop offset="0.106" stop-color="#fee79b"/><stop offset="0.129" stop-color="#fecc7d"/><stop offset="0.152" stop-color="#feeba0"/><stop offset="0.174" stop-color="#fffbb9"/><stop offset="0.194" stop-color="#fdba6d"/><stop offset="0.209" stop-color="#de3f2e"/><stop offset="0.220" stop-color="#be1826"/><stop offset="0.232" stop-color="#f46d43"/><stop offset="0.245" stop-color="#fee090"/><stop offset="0.261" stop-color="#f0f9dc"/><stop offset="0.280" stop-color="#a4d4e6"/><stop offset="0.303" stop-color="#689fca"/><stop offset="0.348" stop-color="#436fb1"/><stop offset="0.485" stop-color="#4167ad"/><stop offset="0.621" stop-color="#4677b5"/><stop offset="0.712" stop-color="#5285bc"/><stop offset="0.818" stop-color="#4f81ba"/><stop offset="1.000" stop-color="#4473b3"/></linearGradient></defs>
<rect x="254.10" y="244.00" width="3.19" height="66.00" fill="url(#g89)"/>
<defs><linearGradient id="g90" x1="0" y1="0" x2="0" y2="1"><stop offset="0.000" stop-color="#80b7d6"/><stop offset="0.023" stop-color="#bee2ee"/><stop offset="0.045" stop-color="#e7f6eb"/><stop offset="0.076" stop-color="#feffc0"/><stop offset="0.106" stop-color="#feeca3"/><stop offset="0.129" stop-color="#fed585"/><stop offset="0.152" stop-color="#fff0a9"/><stop offset="0.174" stop-color="#fffbb9"/><stop offset="0.194" stop-color="#fdba6d"/><stop offset="0.209" stop-color="#de3f2e"/><stop offset="0.220" stop-color="#be1826"/><stop offset="0.232" stop-color="#f46d43"/><stop offset="0.245" stop-color="#fee090"/><stop offset="0.261" stop-color="#f0f9dc"/><stop offset="0.280" stop-color="#a4d4e6"/><stop offset="0.303" stop-color="#689fca"/><stop offset="0.348" stop-color="#4473b3"/><stop offset="0.485" stop-color="#426baf"/><stop offset="0.621" stop-color="#497ab7"/><stop offset="0.712" stop-color="#5588be"/><stop offset="0.818" stop-color="#4777b5"/><stop offset="1.000" stop-color="#4168ad"/></linearGradient></defs>
<rect x="256.59" y="244.00" width="3.19" height="66.00" fill="url(#g90)"/>
<defs><linearGradient id="g91" x1="0" y1="0" x2="0" y2="1"><stop offset="0.000" stop-color="#7eb5d5"/><stop offset="0.023" stop-color="#bbe1ee"/><stop offset="0.045" stop-color="#e6f5ee"/><stop offset="0.076" stop-color="#fdfec3"/><stop offset="0.106" stop-color="#feeea5"/><stop offset="0.129" stop-color="#fed788"/><stop offset="0.152" stop-color="#fff2ab"/><stop offset="0.174" stop-color="#fffbb9"/><stop offset="0.194" stop-color="#fdba6d"/><stop offset="0.209" stop-color="#de3f2e"/><stop offset="0.220" stop-color="#be1826"/><stop offset="0.232" stop-color="#f46d43"/><stop offset="0.245" stop-color="#fee090"/><stop offset="0.261" stop-color="#f0f9dc"/><stop offset="0.280" stop-color="#a4d4e6"/><stop offset="0.303" stop-color="#689fca"/><stop offset="0.348" stop-color="#5386bd"/><stop offset="0.485" stop-color="#4d7fb9"/><stop offset="0.621" stop-color="#598dc0"/><stop offset="0.712" stop-color="#659bc8"/><stop offset="0.818" stop-color="#4575b4"/><stop offset="1.000" stop-color="#4065ac"/></linearGradient></defs>
<rect x="259.08" y="244.00" width="3.19" height="66.00" fill="url(#g91)"/>
<defs><linearGradient id="g92" x1="0" y1="0" x2="0" y2="1"><stop offset="0.000" stop-color="#75aed2"/><stop offset="0.023" stop-color="#b3ddeb"/><stop offset="0.045" stop-color="#e1f3f7"/><stop offset="0.076" stop-color="#f8fccc"/><stop offset="0.106" stop-color="#fff3ac"/><stop offset="0.129" stop-color="#fedf8f"/><stop offset="0.152" stop-color="#fff7b2"/><stop offset="0.174" stop-color="#fffbb9"/><stop offset="0.194" stop-color="#fdba6d"/><stop offset="0.209" stop-color="#de3f2e"/><stop offset="0.220" stop-color="#be1826"/><stop offset="0.232" stop-color="#f46d43"/><stop offset="0.245" stop-color="#fee090"/><stop offset="0.261" stop-color="#f0f9dc"/><stop offset="0.280" stop-color="#a4d4e6"/><stop offset="0.303" stop-color="#689fca"/><stop offset="0.348" stop-color="#578bbf"/><stop offset="0.485" stop-color="#5284bc"/><stop offset="0.621" stop-color="#5d92c3"/><stop offset="0.712" stop-color="#69a0ca"/><stop offset="0.818" stop-color="#426baf"/><stop offset="1.000" stop-color="#3d5ba7"/></linearGradient></defs>
<rect x="261.57" y="244.00" width="3.19" height="66.00" fill="url(#g92)"/>
<defs><linearGradient id="g93" x1="0" y1="0" x2="0" y2="1"><stop offset="0.000" stop-color="#71a9cf"/><stop offset="0.023" stop-color="#aedaea"/><stop offset="0.045" stop-color="#dcf1f7"/><stop offset="0.076" stop-color="#f5fbd1"/><stop offset="0.106" stop-color="#fff6b1"/><stop offset="0.129" stop-color="#fee293"/><stop offset="0.152" stop-color="#fff9b7"/><stop offset="0.174" stop-color="#fffbb9"/><stop offset="0.194" stop-color="#fdba6d"/><stop offset="0.209" stop-color="#de3f2e"/><stop offset="0.220" stop-color="#be1826"/><stop offset="0.232" stop-color="#f46d43"/><stop offset="0.245" stop-color="#fee090"/><stop offset="0.261" stop-color="#f0f9dc"/><stop offset="0.280" stop-color="#a4d4e6"/><stop offset="0.303" stop-color="#689fca"/><stop offset="0.348" stop-color="#4066ad"/><stop offset="0.485" stop-color="#3e5ea9"/><stop offset="0.621" stop-color="#436eb1"/><stop offset="0.712" stop-color="#4c7db8"/><stop offset="0.818" stop-color="#4065ac"/><stop offset="1.000" stop-color="#3b55a4"/></linearGradient></defs>
<rect x="264.06" y="244.00" width="3.19" height="66.00" fill="url(#g93)"/>
<defs><linearGradient id="g94" x1="0" y1="0" x2="0" y2="1"><stop offset="0.000" stop-color="#85bad8"/><stop offset="0.023" stop-color="#c2e4ef"/><stop offset="0.045" stop-color="#e9f7e7"/><stop offset="0.076" stop-color="#fffdbd"/><stop offset="0.106" stop-color="#feea9f"/><stop offset="0.129" stop-color="#fed182"/><stop offset="0.152" stop-color="#feeea5"/><stop offset="0.174" stop-color="#fffbb9"/><stop offset="0.194" stop-color="#fdba6d"/><stop offset="0.209" stop-color="#de3f2e"/><stop offset="0.220" stop-color="#be1826"/><stop offset="0.232" stop-color="#f46d43"/><stop offset="0.245" stop-color="#fee090"/><stop offset="0.261" stop-color="#f0f9dc"/><stop offset="0.280" stop-color="#a4d4e6"/><stop offset="0.303" stop-color="#689fca"/><stop offset="0.348" stop-color="#4064ac"/><stop offset="0.485" stop-color="#3d5ca8"/><stop offset="0.621" stop-color="#426cb0"/><stop offset="0.712" stop-color="#4a7bb7"/><stop offset="0.818" stop-color="#4a7bb7"/><stop offset="1.000" stop-color="#426db0"/></linearGradient></defs>
<rect x="266.55" y="244.00" width="3.19" height="66.00" fill="url(#g94)"/>
<defs><linearGradient id="g95" x1="0" y1="0" x2="0" y2="1"><stop offset="0.000" stop-color="#76aed2"/><stop offset="0.023" stop-color="#b3ddeb"/><stop offset="0.045" stop-color="#e1f3f6"/><stop offset="0.076" stop-color="#f8fccb"/><stop offset="0.106" stop-color="#fff2ac"/><stop offset="0.129" stop-color="#fede8e"/><stop offset="0.152" stop-color="#fff6b2"/><stop offset="0.174" stop-color="#fffbb9"/><stop offset="0.194" stop-color="#fdba6d"/><stop offset="0.209" stop-color="#de3f2e"/><stop offset="0.220" stop-color="#be1826"/><stop offset="0.232" stop-color="#f46d43"/><stop offset="0.245" stop-color="#fee090"/><stop offset="0.261" stop-color="#f0f9dc"/><stop offset="0.280" stop-color="#a4d4e6"/><stop offset="0.303" stop-color="#689fca"/><stop offset="0.348" stop-color="#5082bb"/><stop offset="0.485" stop-color="#4a7bb7"/><stop offset="0.621" stop-color="#5689be"/><stop offset="0.712" stop-color="#6197c5"/><stop offset="0.818" stop-color="#426baf"/><stop offset="1.000" stop-color="#3d5ba7"/></linearGradient></defs>
<rect x="269.04" y="244.00" width="3.19" height="66.00" fill="url(#g95)"/>
<defs><linearGradient id="g96" x1="0" y1="0" x2="0" y2="1"><stop offset="0.000" stop-color="#8cc0db"/><stop offset="0.023" stop-color="#c8e7f1"/><stop offset="0.045" stop-color="#edf8e0"/><stop offset="0.076" stop-color="#fff9b7"/><stop offset="0.106" stop-color="#fee699"/><stop offset="0.129" stop-color="#fecb7c"/><stop offset="0.152" stop-color="#feea9f"/><stop offset="0.174" stop-color="#fffbb9"/><stop offset="0.194" stop-color="#fdba6d"/><stop offset="0.209" stop-color="#de3f2e"/><stop offset="0.220" stop-color="#be1826"/><stop offset="0.232" stop-color="#f46d43"/><stop offset="0.245" stop-color="#fee090"/><stop offset="0.261" stop-color="#f0f9dc"/><stop offset="0.280" stop-color="#a4d4e6"/><stop offset="0.303" stop-color="#689fca"/><stop offset="0.348" stop-color="#3c59a6"/><stop offset="0.485" stop-color="#3a51a2"/><stop offset="0.621" stop-color="#3f61aa"/><stop offset="0.712" stop-color="#4471b2"/><stop offset="0.818" stop-color="#5082bb"/><stop offset="1.000" stop-color="#4574b4"/></linearGradient></defs>
<rect x="271.53" y="244.00" width="3.19" height="66.00" fill="url(#g96)"/>
<defs><linearGradient id="g97" x1="0" y1="0" x2="0" y2="1"><stop offset="0.000" stop-color="#82b8d7"/><stop offset="0.023" stop-color="#bfe3ef"/><stop offset="0.045" stop-color="#e8f6ea"/><stop offset="0.076" stop-color="#ffffbf"/><stop offset="0.106" stop-color="#feeca2"/><stop offset="0.129" stop-color="#fed384"/><stop offset="0.152" stop-color="#feefa7"/><stop offset="0.174" stop-color="#fffbb9"/><stop offset="0.194" stop-color="#fdba6d"/><stop offset="0.209" stop-color="#de3f2e"/><stop offset="0.220" stop-color="#be1826"/><stop offset="0.232" stop-color="#f46d43"/><stop offset="0.245" stop-color="#fee090"/><stop offset="0.261" stop-color="#f0f9dc"/><stop offset="0.280" stop-color="#a4d4e6"/><stop offset="0.303" stop-color="#689fca"/><stop offset="0.348" stop-color="#5b8fc2"/><stop offset="0.485" stop-color="#5588be"/><stop offset="0.621" stop-color="#6196c5"/><stop offset="0.712" stop-color="#6da4cd"/><stop offset="0.818" stop-color="#4879b6"/><stop offset="1.000" stop-color="#4169ae"/></linearGradient></defs>
<rect x="274.02" y="244.00" width="3.19" height="66.00" fill="url(#g97)"/>
<defs><linearGradient id="g98" x1="0" y1="0" x2="0" y2="1"><stop offset="0.000" stop-color="#8bc0db"/><stop offset="0.023" stop-color="#c8e7f1"/><stop offset="0.045" stop-color="#edf8e0"/><stop offset="0.076" stop-color="#fffab7"/><stop offset="0.106" stop-color="#fee699"/><stop offset="0.129" stop-color="#fecb7c"/><stop offset="0.152" stop-color="#feea9f"/><stop offset="0.174" stop-color="#fffbb9"/><stop offset="0.194" stop-color="#fdba6d"/><stop offset="0.209" stop-color="#de3f2e"/><stop offset="0.220" stop-color="#be1826"/><stop offset="0.232" stop-color="#f46d43"/><stop offset="0.245" stop-color="#fee090"/><stop offset="0.261" stop-color="#f0f9dc"/><stop offset="0.280" stop-color="#a4d4e6"/><stop offset="0.303" stop-color="#689fca"/><stop offset="0.348" stop-color="#4471b2"/><stop offset="0.485" stop-color="#4169ae"/><stop offset="0.621" stop-color="#4879b6"/><stop offset="0.712" stop-color="#5487bd"/><stop offset="0.818" stop-color="#5082bb"/><stop offset="1.000" stop-color="#4574b4"/></linearGradient></defs>
<rect x="276.51" y="244.00" width="2.49" height="66.00" fill="url(#g98)"/>
<rect x="35.00" y="311.50" width="2.99" height="7.50" fill="#3a6fb3"/>
<rect x="35.00" y="320.50" width="2.99" height="7.20" fill="#3a78be"/>
<rect x="37.49" y="311.50" width="2.99" height="7.50" fill="#3a6fb3"/>
<rect x="37.49" y="320.50" width="2.99" height="7.20" fill="#3a78be"/>
<rect x="39.98" y="311.50" width="2.99" height="7.50" fill="#3a6fb3"/>
<rect x="39.98" y="320.50" width="2.99" height="7.20" fill="#f47d16"/>
<rect x="42.47" y="311.50" width="2.99" height="7.50" fill="#3a6fb3"/>
<rect x="42.47" y="320.50" width="2.99" height="7.20" fill="#f47d16"/>
<rect x="44.96" y="311.50" width="2.99" height="7.50" fill="#3a6fb3"/>
<rect x="44.96" y="320.50" width="2.99" height="7.20" fill="#3a78be"/>
<rect x="47.45" y="311.50" width="2.99" height="7.50" fill="#f9b97c"/>
<rect x="47.45" y="320.50" width="2.99" height="7.20" fill="#bdbdbd"/>
<rect x="49.94" y="311.50" width="2.99" height="7.50" fill="#bdbdbd"/>
<rect x="49.94" y="320.50" width="2.99" height="7.20" fill="#f47d16"/>
<rect x="52.43" y="311.50" width="2.99" height="7.50" fill="#3a6fb3"/>
<rect x="52.43" y="320.50" width="2.99" height="7.20" fill="#3a78be"/>
<rect x="54.92" y="311.50" width="2.99" height="7.50" fill="#bdbdbd"/>
<rect x="54.92" y="320.50" width="2.99" height="7.20" fill="#f47d16"/>
<rect x="57.41" y="311.50" width="2.99" height="7.50" fill="#3a6fb3"/>
<rect x="57.41" y="320.50" width="2.99" height="7.20" fill="#3a78be"/>
<rect x="59.90" y="311.50" width="2.99" height="7.50" fill="#bdbdbd"/>
<rect x="59.90" y="320.50" width="2.99" height="7.20" fill="#f47d16"/>
<rect x="62.39" y="311.50" width="2.99" height="7.50" fill="#3a6fb3"/>
<rect x="62.39" y="320.50" width="2.99" height="7.20" fill="#bdbdbd"/>
<rect x="64.88" y="311.50" width="2.99" height="7.50" fill="#3a6fb3"/>
<rect x="64.88" y="320.50" width="2.99" height="7.20" fill="#f47d16"/>
<rect x="67.37" y="311.50" width="2.99" height="7.50" fill="#3a6fb3"/>
<rect x="67.37" y="320.50" width="2.99" height="7.20" fill="#3a78be"/>
<rect x="69.86" y="311.50" width="2.99" height="7.50" fill="#3a6fb3"/>
<rect x="69.86" y="320.50" width="2.99" height="7.20" fill="#bdbdbd"/>
<rect x="72.35" y="311.50" width="2.99" height="7.50" fill="#e7157b"/>
<rect x="72.35" y="320.50" width="2.99" height="7.20" fill="#bdbdbd"/>
<rect x="74.84" y="311.50" width="2.99" height="7.50" fill="#3a6fb3"/>
<rect x="74.84" y="320.50" width="2.99" height="7.20" fill="#f47d16"/>
<rect x="77.33" y="311.50" width="2.99" height="7.50" fill="#fff57a"/>
<rect x="77.33" y="320.50" width="2.99" height="7.20" fill="#3a78be"/>
<rect x="79.82" y="311.50" width="2.99" height="7.50" fill="#3a6fb3"/>
<rect x="79.82" y="320.50" width="2.99" height="7.20" fill="#f47d16"/>
<rect x="82.31" y="311.50" width="2.99" height="7.50" fill="#3a6fb3"/>
<rect x="82.31" y="320.50" width="2.99" height="7.20" fill="#bdbdbd"/>
<rect x="84.80" y="311.50" width="2.99" height="7.50" fill="#fff57a"/>
<rect x="84.80" y="320.50" width="2.99" height="7.20" fill="#3a78be"/>
<rect x="87.29" y="311.50" width="2.99" height="7.50" fill="#f9b97c"/>
<rect x="87.29" y="320.50" width="2.99" height="7.20" fill="#3a78be"/>
<rect x="89.78" y="311.50" width="2.99" height="7.50" fill="#3a6fb3"/>
<rect x="89.78" y="320.50" width="2.99" height="7.20" fill="#3a78be"/>
<rect x="92.27" y="311.50" width="2.99" height="7.50" fill="#bdbdbd"/>
<rect x="92.27" y="320.50" width="2.99" height="7.20" fill="#f47d16"/>
<rect x="94.76" y="311.50" width="2.99" height="7.50" fill="#3a6fb3"/>
<rect x="94.76" y="320.50" width="2.99" height="7.20" fill="#3a78be"/>
<rect x="97.24" y="311.50" width="2.99" height="7.50" fill="#3a6fb3"/>
<rect x="97.24" y="320.50" width="2.99" height="7.20" fill="#3a78be"/>
<rect x="99.73" y="311.50" width="2.99" height="7.50" fill="#3a6fb3"/>
<rect x="99.73" y="320.50" width="2.99" height="7.20" fill="#bdbdbd"/>
<rect x="102.22" y="311.50" width="2.99" height="7.50" fill="#3a6fb3"/>
<rect x="102.22" y="320.50" width="2.99" height="7.20" fill="#f47d16"/>
<rect x="104.71" y="311.50" width="2.99" height="7.50" fill="#bdbdbd"/>
<rect x="104.71" y="320.50" width="2.99" height="7.20" fill="#3a78be"/>
<rect x="107.20" y="311.50" width="2.99" height="7.50" fill="#3a6fb3"/>
<rect x="107.20" y="320.50" width="2.99" height="7.20" fill="#bdbdbd"/>
<rect x="109.69" y="311.50" width="2.99" height="7.50" fill="#3a6fb3"/>
<rect x="109.69" y="320.50" width="2.99" height="7.20" fill="#3a78be"/>
<rect x="112.18" y="311.50" width="2.99" height="7.50" fill="#3a6fb3"/>
<rect x="112.18" y="320.50" width="2.99" height="7.20" fill="#3a78be"/>
<rect x="114.67" y="311.50" width="2.99" height="7.50" fill="#3a6fb3"/>
<rect x="114.67" y="320.50" width="2.99" height="7.20" fill="#f47d16"/>
<rect x="117.16" y="311.50" width="2.99" height="7.50" fill="#3a6fb3"/>
<rect x="117.16" y="320.50" width="2.99" height="7.20" fill="#f47d16"/>
<rect x="119.65" y="311.50" width="2.99" height="7.50" fill="#3a6fb3"/>
<rect x="119.65" y="320.50" width="2.99" height="7.20" fill="#3a78be"/>
<rect x="122.14" y="311.50" width="2.99" height="7.50" fill="#f9b97c"/>
<rect x="122.14" y="320.50" width="2.99" height="7.20" fill="#f47d16"/>
<rect x="124.63" y="311.50" width="2.99" height="7.50" fill="#3a6fb3"/>
<rect x="124.63" y="320.50" width="2.99" height="7.20" fill="#bdbdbd"/>
<rect x="127.12" y="311.50" width="2.99" height="7.50" fill="#3a6fb3"/>
<rect x="127.12" y="320.50" width="2.99" height="7.20" fill="#3a78be"/>
<rect x="129.61" y="311.50" width="2.99" height="7.50" fill="#bdbdbd"/>
<rect x="129.61" y="320.50" width="2.99" height="7.20" fill="#3a78be"/>
<rect x="132.10" y="311.50" width="2.99" height="7.50" fill="#3a6fb3"/>
<rect x="132.10" y="320.50" width="2.99" height="7.20" fill="#f47d16"/>
<rect x="134.59" y="311.50" width="2.99" height="7.50" fill="#3a6fb3"/>
<rect x="134.59" y="320.50" width="2.99" height="7.20" fill="#3a78be"/>
<rect x="137.08" y="311.50" width="2.99" height="7.50" fill="#3a6fb3"/>
<rect x="137.08" y="320.50" width="2.99" height="7.20" fill="#3a78be"/>
<rect x="139.57" y="311.50" width="2.99" height="7.50" fill="#3a6fb3"/>
<rect x="139.57" y="320.50" width="2.99" height="7.20" fill="#f47d16"/>
<rect x="142.06" y="311.50" width="2.99" height="7.50" fill="#3a6fb3"/>
<rect x="142.06" y="320.50" width="2.99" height="7.20" fill="#3a78be"/>
<rect x="144.55" y="311.50" width="2.99" height="7.50" fill="#3a6fb3"/>
<rect x="144.55" y="320.50" width="2.99" height="7.20" fill="#3a78be"/>
<rect x="147.04" y="311.50" width="2.99" height="7.50" fill="#3a6fb3"/>
<rect x="147.04" y="320.50" width="2.99" height="7.20" fill="#f47d16"/>
<rect x="149.53" y="311.50" width="2.99" height="7.50" fill="#3a6fb3"/>
<rect x="149.53" y="320.50" width="2.99" height="7.20" fill="#f47d16"/>
<rect x="152.02" y="311.50" width="2.99" height="7.50" fill="#3a6fb3"/>
<rect x="152.02" y="320.50" width="2.99" height="7.20" fill="#3a78be"/>
<rect x="154.51" y="311.50" width="2.99" height="7.50" fill="#3a6fb3"/>
<rect x="154.51" y="320.50" width="2.99" height="7.20" fill="#f47d16"/>
<rect x="157.00" y="311.50" width="2.99" height="7.50" fill="#3a6fb3"/>
<rect x="157.00" y="320.50" width="2.99" height="7.20" fill="#3a78be"/>
<rect x="159.49" y="311.50" width="2.99" height="7.50" fill="#3a6fb3"/>
<rect x="159.49" y="320.50" width="2.99" height="7.20" fill="#f47d16"/>
<rect x="161.98" y="311.50" width="2.99" height="7.50" fill="#3a6fb3"/>
<rect x="161.98" y="320.50" width="2.99" height="7.20" fill="#f47d16"/>
<rect x="164.47" y="311.50" width="2.99" height="7.50" fill="#3a6fb3"/>
<rect x="164.47" y="320.50" width="2.99" height="7.20" fill="#f47d16"/>
<rect x="166.96" y="311.50" width="2.99" height="7.50" fill="#3a6fb3"/>
<rect x="166.96" y="320.50" width="2.99" height="7.20" fill="#f47d16"/>
<rect x="169.45" y="311.50" width="2.99" height="7.50" fill="#3a6fb3"/>
<rect x="169.45" y="320.50" width="2.99" height="7.20" fill="#f47d16"/>
<rect x="171.94" y="311.50" width="2.99" height="7.50" fill="#3a6fb3"/>
<rect x="171.94" y="320.50" width="2.99" height="7.20" fill="#f47d16"/>
<rect x="174.43" y="311.50" width="2.99" height="7.50" fill="#3a6fb3"/>
<rect x="174.43" y="320.50" width="2.99" height="7.20" fill="#3a78be"/>
<rect x="176.92" y="311.50" width="2.99" height="7.50" fill="#3a6fb3"/>
<rect x="176.92" y="320.50" width="2.99" height="7.20" fill="#bdbdbd"/>
<rect x="179.41" y="311.50" width="2.99" height="7.50" fill="#3a6fb3"/>
<rect x="179.41" y="320.50" width="2.99" height="7.20" fill="#f47d16"/>
<rect x="181.90" y="311.50" width="2.99" height="7.50" fill="#3a6fb3"/>
<rect x="181.90" y="320.50" width="2.99" height="7.20" fill="#3a78be"/>
<rect x="184.39" y="311.50" width="2.99" height="7.50" fill="#3a6fb3"/>
<rect x="184.39" y="320.50" width="2.99" height="7.20" fill="#3a78be"/>
<rect x="186.88" y="311.50" width="2.99" height="7.50" fill="#3a6fb3"/>
<rect x="186.88" y="320.50" width="2.99" height="7.20" fill="#f47d16"/>
<rect x="189.37" y="311.50" width="2.99" height="7.50" fill="#3a6fb3"/>
<rect x="189.37" y="320.50" width="2.99" height="7.20" fill="#3a78be"/>
<rect x="191.86" y="311.50" width="2.99" height="7.50" fill="#3a6fb3"/>
<rect x="191.86" y="320.50" width="2.99" height="7.20" fill="#f47d16"/>
<rect x="194.35" y="311.50" width="2.99" height="7.50" fill="#3a6fb3"/>
<rect x="194.35" y="320.50" width="2.99" height="7.20" fill="#3a78be"/>
<rect x="196.84" y="311.50" width="2.99" height="7.50" fill="#bdbdbd"/>
<rect x="196.84" y="320.50" width="2.99" height="7.20" fill="#bdbdbd"/>
<rect x="199.33" y="311.50" width="2.99" height="7.50" fill="#bdbdbd"/>
<rect x="199.33" y="320.50" width="2.99" height="7.20" fill="#bdbdbd"/>
<rect x="201.82" y="311.50" width="2.99" height="7.50" fill="#3a6fb3"/>
<rect x="201.82" y="320.50" width="2.99" height="7.20" fill="#f47d16"/>
<rect x="204.31" y="311.50" width="2.99" height="7.50" fill="#3a6fb3"/>
<rect x="204.31" y="320.50" width="2.99" height="7.20" fill="#bdbdbd"/>
<rect x="206.80" y="311.50" width="2.99" height="7.50" fill="#3a6fb3"/>
<rect x="206.80" y="320.50" width="2.99" height="7.20" fill="#3a78be"/>
<rect x="209.29" y="311.50" width="2.99" height="7.50" fill="#e7157b"/>
<rect x="209.29" y="320.50" width="2.99" height="7.20" fill="#3a78be"/>
<rect x="211.78" y="311.50" width="2.99" height="7.50" fill="#3a6fb3"/>
<rect x="211.78" y="320.50" width="2.99" height="7.20" fill="#f47d16"/>
<rect x="214.27" y="311.50" width="2.99" height="7.50" fill="#3a6fb3"/>
<rect x="214.27" y="320.50" width="2.99" height="7.20" fill="#f47d16"/>
<rect x="216.76" y="311.50" width="2.99" height="7.50" fill="#bdbdbd"/>
<rect x="216.76" y="320.50" width="2.99" height="7.20" fill="#bdbdbd"/>
<rect x="219.24" y="311.50" width="2.99" height="7.50" fill="#3a6fb3"/>
<rect x="219.24" y="320.50" width="2.99" height="7.20" fill="#f47d16"/>
<rect x="221.73" y="311.50" width="2.99" height="7.50" fill="#3a6fb3"/>
<rect x="221.73" y="320.50" width="2.99" height="7.20" fill="#3a78be"/>
<rect x="224.22" y="311.50" width="2.99" height="7.50" fill="#3a6fb3"/>
<rect x="224.22" y="320.50" width="2.99" height="7.20" fill="#3a78be"/>
<rect x="226.71" y="311.50" width="2.99" height="7.50" fill="#3a6fb3"/>
<rect x="226.71" y="320.50" width="2.99" height="7.20" fill="#3a78be"/>
<rect x="229.20" y="311.50" width="2.99" height="7.50" fill="#3a6fb3"/>
<rect x="229.20" y="320.50" width="2.99" height="7.20" fill="#3a78be"/>
<rect x="231.69" y="311.50" width="2.99" height="7.50" fill="#3a6fb3"/>
<rect x="231.69" y="320.50" width="2.99" height="7.20" fill="#3a78be"/>
<rect x="234.18" y="311.50" width="2.99" height="7.50" fill="#3a6fb3"/>
<rect x="234.18" y="320.50" width="2.99" height="7.20" fill="#3a78be"/>
<rect x="236.67" y="311.50" width="2.99" height="7.50" fill="#3a6fb3"/>
<rect x="236.67" y="320.50" width="2.99" height="7.20" fill="#f47d16"/>
<rect x="239.16" y="311.50" width="2.99" height="7.50" fill="#bdbdbd"/>
<rect x="239.16" y="320.50" width="2.99" height="7.20" fill="#bdbdbd"/>
<rect x="241.65" y="311.50" width="2.99" height="7.50" fill="#3a6fb3"/>
<rect x="241.65" y="320.50" width="2.99" height="7.20" fill="#f47d16"/>
<rect x="244.14" y="311.50" width="2.99" height="7.50" fill="#3a6fb3"/>
<rect x="244.14" y="320.50" width="2.99" height="7.20" fill="#f47d16"/>
<rect x="246.63" y="311.50" width="2.99" height="7.50" fill="#3a6fb3"/>
<rect x="246.63" y="320.50" width="2.99" height="7.20" fill="#bdbdbd"/>
<rect x="249.12" y="311.50" width="2.99" height="7.50" fill="#3a6fb3"/>
<rect x="249.12" y="320.50" width="2.99" height="7.20" fill="#f47d16"/>
<rect x="251.61" y="311.50" width="2.99" height="7.50" fill="#3a6fb3"/>
<rect x="251.61" y="320.50" width="2.99" height="7.20" fill="#3a78be"/>
<rect x="254.10" y="311.50" width="2.99" height="7.50" fill="#3a6fb3"/>
<rect x="254.10" y="320.50" width="2.99" height="7.20" fill="#3a78be"/>
<rect x="256.59" y="311.50" width="2.99" height="7.50" fill="#3a6fb3"/>
<rect x="256.59" y="320.50" width="2.99" height="7.20" fill="#f47d16"/>
<rect x="259.08" y="311.50" width="2.99" height="7.50" fill="#3a6fb3"/>
<rect x="259.08" y="320.50" width="2.99" height="7.20" fill="#f47d16"/>
<rect x="261.57" y="311.50" width="2.99" height="7.50" fill="#3a6fb3"/>
<rect x="261.57" y="320.50" width="2.99" height="7.20" fill="#3a78be"/>
<rect x="264.06" y="311.50" width="2.99" height="7.50" fill="#e7157b"/>
<rect x="264.06" y="320.50" width="2.99" height="7.20" fill="#bdbdbd"/>
<rect x="266.55" y="311.50" width="2.99" height="7.50" fill="#3a6fb3"/>
<rect x="266.55" y="320.50" width="2.99" height="7.20" fill="#bdbdbd"/>
<rect x="269.04" y="311.50" width="2.99" height="7.50" fill="#3a6fb3"/>
<rect x="269.04" y="320.50" width="2.99" height="7.20" fill="#bdbdbd"/>
<rect x="271.53" y="311.50" width="2.99" height="7.50" fill="#3a6fb3"/>
<rect x="271.53" y="320.50" width="2.99" height="7.20" fill="#bdbdbd"/>
<rect x="274.02" y="311.50" width="2.99" height="7.50" fill="#3a6fb3"/>
<rect x="274.02" y="320.50" width="2.99" height="7.20" fill="#3a78be"/>
<rect x="276.51" y="311.50" width="2.49" height="7.50" fill="#3a6fb3"/>
<rect x="276.51" y="320.50" width="2.49" height="7.20" fill="#3a78be"/>
<text x="31.00" y="318.00" font-size="7.98" text-anchor="end" fill="#222" stroke="#222" stroke-width="0.2" textLength="28" lengthAdjust="spacingAndGlyphs">Histology</text>
<text x="31.00" y="327.00" font-size="7.98" text-anchor="end" fill="#222" stroke="#222" stroke-width="0.2" textLength="24" lengthAdjust="spacingAndGlyphs">Subtype</text>
<text x="29.20" y="240.20" font-size="7.07" text-anchor="end" fill="#222" stroke="#222" stroke-width="0.2" textLength="10" lengthAdjust="spacingAndGlyphs">111</text>
<text x="29.20" y="245.70" font-size="7.07" text-anchor="end" fill="#222" stroke="#222" stroke-width="0.2" textLength="10" lengthAdjust="spacingAndGlyphs">122</text>
<text x="29.20" y="251.10" font-size="7.07" text-anchor="end" fill="#222" stroke="#222" stroke-width="0.2" textLength="10" lengthAdjust="spacingAndGlyphs">133</text>
<text x="29.20" y="256.00" font-size="7.07" text-anchor="end" fill="#222" stroke="#222" stroke-width="0.2" textLength="10" lengthAdjust="spacingAndGlyphs">143</text>
<text x="29.20" y="262.00" font-size="7.07" text-anchor="end" fill="#222" stroke="#222" stroke-width="0.2" textLength="10" lengthAdjust="spacingAndGlyphs">157</text>
<text x="29.20" y="267.60" font-size="7.07" text-anchor="end" fill="#222" stroke="#222" stroke-width="0.2" textLength="10" lengthAdjust="spacingAndGlyphs">177</text>
<text x="29.20" y="273.20" font-size="7.07" text-anchor="end" fill="#222" stroke="#222" stroke-width="0.2" textLength="10" lengthAdjust="spacingAndGlyphs">200</text>
<text x="29.20" y="278.20" font-size="7.07" text-anchor="end" fill="#222" stroke="#222" stroke-width="0.2" textLength="10" lengthAdjust="spacingAndGlyphs">250</text>
<text x="29.20" y="290.40" font-size="7.07" text-anchor="end" fill="#222" stroke="#222" stroke-width="0.2" textLength="10" lengthAdjust="spacingAndGlyphs">300</text>
<text x="29.20" y="301.00" font-size="7.07" text-anchor="end" fill="#222" stroke="#222" stroke-width="0.2" textLength="10" lengthAdjust="spacingAndGlyphs">350</text>
<line x1="32.00" y1="246.00" x2="34.50" y2="246.00" stroke="#333" stroke-width="0.6"/>
<line x1="32.00" y1="249.00" x2="34.50" y2="249.00" stroke="#333" stroke-width="0.6"/>
<line x1="32.00" y1="252.00" x2="34.50" y2="252.00" stroke="#333" stroke-width="0.6"/>
<line x1="32.00" y1="255.00" x2="34.50" y2="255.00" stroke="#333" stroke-width="0.6"/>
<line x1="32.00" y1="258.00" x2="34.50" y2="258.00" stroke="#333" stroke-width="0.6"/>
<line x1="32.00" y1="261.00" x2="34.50" y2="261.00" stroke="#333" stroke-width="0.6"/>
<line x1="32.00" y1="264.00" x2="34.50" y2="264.00" stroke="#333" stroke-width="0.6"/>
<line x1="32.00" y1="268.00" x2="34.50" y2="268.00" stroke="#333" stroke-width="0.6"/>
<line x1="32.00" y1="277.00" x2="34.50" y2="277.00" stroke="#333" stroke-width="0.6"/>
<line x1="32.00" y1="288.20" x2="34.50" y2="288.20" stroke="#333" stroke-width="0.6"/>
<line x1="32.00" y1="298.80" x2="34.50" y2="298.80" stroke="#333" stroke-width="0.6"/>
<text x="14.00" y="273.00" font-size="9.12" text-anchor="middle" fill="#222" stroke="#222" stroke-width="0.2" textLength="46" lengthAdjust="spacingAndGlyphs" transform="rotate(-90 14.00 273.00)">Fragment size</text>
<polygon points="35.10,331.00 37.50,331.00 36.30,328.80" fill="#111" stroke="none"/>
<text x="36.30" y="341.00" font-size="9.12" text-anchor="middle" fill="#222" stroke="#222" stroke-width="0.2" textLength="29" lengthAdjust="spacingAndGlyphs">Case #3</text>
<polygon points="77.30,331.00 79.70,331.00 78.50,328.80" fill="#111" stroke="none"/>
<text x="78.50" y="341.00" font-size="9.12" text-anchor="middle" fill="#222" stroke="#222" stroke-width="0.2" textLength="29" lengthAdjust="spacingAndGlyphs">Case #1</text>
<polygon points="161.60,331.00 164.00,331.00 162.80,328.80" fill="#111" stroke="none"/>
<text x="162.80" y="341.00" font-size="9.12" text-anchor="middle" fill="#222" stroke="#222" stroke-width="0.2" textLength="29" lengthAdjust="spacingAndGlyphs">Case #4</text>
<polygon points="241.10,331.00 243.50,331.00 242.30,328.80" fill="#111" stroke="none"/>
<text x="242.30" y="341.00" font-size="9.12" text-anchor="middle" fill="#222" stroke="#222" stroke-width="0.2" textLength="29" lengthAdjust="spacingAndGlyphs">Case #5</text>
<polygon points="276.30,331.00 278.70,331.00 277.50,328.80" fill="#111" stroke="none"/>
<text x="277.50" y="341.00" font-size="9.12" text-anchor="middle" fill="#222" stroke="#222" stroke-width="0.2" textLength="29" lengthAdjust="spacingAndGlyphs">Case #2</text>
<defs><linearGradient id="g99" x1="0" y1="0" x2="0" y2="1"><stop offset="0.000" stop-color="#a50026"/><stop offset="0.042" stop-color="#aa0526"/><stop offset="0.083" stop-color="#c11b27"/><stop offset="0.125" stop-color="#d73027"/><stop offset="0.167" stop-color="#e44b33"/><stop offset="0.208" stop-color="#f16640"/><stop offset="0.250" stop-color="#f7834d"/><stop offset="0.292" stop-color="#fb9f5a"/><stop offset="0.333" stop-color="#fdb96b"/><stop offset="0.375" stop-color="#fecf80"/><stop offset="0.417" stop-color="#fee395"/><stop offset="0.458" stop-color="#fff1aa"/><stop offset="0.500" stop-color="#ffffbf"/><stop offset="0.542" stop-color="#f1fad8"/><stop offset="0.583" stop-color="#e3f4f2"/><stop offset="0.625" stop-color="#ceeaf3"/><stop offset="0.667" stop-color="#b7dfec"/><stop offset="0.708" stop-color="#9fcfe4"/><stop offset="0.750" stop-color="#86bcd9"/><stop offset="0.792" stop-color="#6fa7ce"/><stop offset="0.833" stop-color="#5a8ec1"/><stop offset="0.875" stop-color="#4575b4"/><stop offset="0.917" stop-color="#3c59a6"/><stop offset="0.958" stop-color="#333d98"/><stop offset="1.000" stop-color="#313695"/></linearGradient></defs>
<rect x="292.30" y="270.80" width="10.50" height="48.70" fill="url(#g99)"/>
<text x="311.00" y="272.30" font-size="9.12" text-anchor="middle" fill="#222" stroke="#222" stroke-width="0.2" textLength="4" lengthAdjust="spacingAndGlyphs" transform="rotate(-90 311.00 272.30)">6</text>
<text x="311.00" y="283.73" font-size="9.12" text-anchor="middle" fill="#222" stroke="#222" stroke-width="0.2" textLength="4" lengthAdjust="spacingAndGlyphs" transform="rotate(-90 311.00 283.73)">4</text>
<text x="311.00" y="295.15" font-size="9.12" text-anchor="middle" fill="#222" stroke="#222" stroke-width="0.2" textLength="4" lengthAdjust="spacingAndGlyphs" transform="rotate(-90 311.00 295.15)">2</text>
<text x="311.00" y="306.58" font-size="9.12" text-anchor="middle" fill="#222" stroke="#222" stroke-width="0.2" textLength="4" lengthAdjust="spacingAndGlyphs" transform="rotate(-90 311.00 306.58)">0</text>
<text x="311.00" y="318.00" font-size="9.12" text-anchor="middle" fill="#222" stroke="#222" stroke-width="0.2" textLength="7.5" lengthAdjust="spacingAndGlyphs" transform="rotate(-90 311.00 318.00)">−2</text>
<text x="289.30" y="295.20" font-size="9.69" text-anchor="middle" fill="#111" stroke="#111" stroke-width="0.2" textLength="60" lengthAdjust="spacingAndGlyphs" transform="rotate(-90 289.30 295.20)">Fragment density</text>
<text x="319.00" y="61.70" font-size="12" font-weight="bold" fill="#000">I</text>
<text x="319.00" y="168.70" font-size="12" font-weight="bold" fill="#000">II</text>
<text x="419.00" y="61.70" font-size="12" font-weight="bold" fill="#000">III</text>
<line x1="322.40" y1="68.00" x2="322.40" y2="143.00" stroke="#111" stroke-width="1.3"/>
<line x1="321.80" y1="142.30" x2="410.00" y2="142.30" stroke="#111" stroke-width="1.3"/>
<line x1="319.90" y1="80.00" x2="322.40" y2="80.00" stroke="#111" stroke-width="0.9"/>
<line x1="319.90" y1="100.00" x2="322.40" y2="100.00" stroke="#111" stroke-width="0.9"/>
<line x1="319.90" y1="120.00" x2="322.40" y2="120.00" stroke="#111" stroke-width="0.9"/>
<line x1="319.90" y1="139.30" x2="322.40" y2="139.30" stroke="#111" stroke-width="0.9"/>
<line x1="324.00" y1="142.30" x2="324.00" y2="144.80" stroke="#111" stroke-width="0.9"/>
<text x="324.00" y="155.00" font-size="8.55" text-anchor="middle" fill="#222" stroke="#222" stroke-width="0.2" textLength="4.2" lengthAdjust="spacingAndGlyphs">0</text>
<line x1="345.25" y1="142.30" x2="345.25" y2="144.80" stroke="#111" stroke-width="0.9"/>
<text x="345.25" y="155.00" font-size="8.55" text-anchor="middle" fill="#222" stroke="#222" stroke-width="0.2" textLength="12.5" lengthAdjust="spacingAndGlyphs">100</text>
<line x1="366.50" y1="142.30" x2="366.50" y2="144.80" stroke="#111" stroke-width="0.9"/>
<text x="366.50" y="155.00" font-size="8.55" text-anchor="middle" fill="#222" stroke="#222" stroke-width="0.2" textLength="12.5" lengthAdjust="spacingAndGlyphs">200</text>
<line x1="387.75" y1="142.30" x2="387.75" y2="144.80" stroke="#111" stroke-width="0.9"/>
<text x="387.75" y="155.00" font-size="8.55" text-anchor="middle" fill="#222" stroke="#222" stroke-width="0.2" textLength="12.5" lengthAdjust="spacingAndGlyphs">300</text>
<line x1="409.00" y1="142.30" x2="409.00" y2="144.80" stroke="#111" stroke-width="0.9"/>
<text x="409.00" y="155.00" font-size="8.55" text-anchor="middle" fill="#222" stroke="#222" stroke-width="0.2" textLength="12.5" lengthAdjust="spacingAndGlyphs">400</text>
<line x1="323.60" y1="176.00" x2="323.60" y2="254.60" stroke="#111" stroke-width="1.3"/>
<line x1="323.00" y1="253.90" x2="409.00" y2="253.90" stroke="#111" stroke-width="1.3"/>
<line x1="321.10" y1="191.00" x2="323.60" y2="191.00" stroke="#111" stroke-width="0.9"/>
<line x1="321.10" y1="205.80" x2="323.60" y2="205.80" stroke="#111" stroke-width="0.9"/>
<line x1="321.10" y1="221.00" x2="323.60" y2="221.00" stroke="#111" stroke-width="0.9"/>
<line x1="321.10" y1="235.80" x2="323.60" y2="235.80" stroke="#111" stroke-width="0.9"/>
<line x1="321.10" y1="250.60" x2="323.60" y2="250.60" stroke="#111" stroke-width="0.9"/>
<line x1="325.10" y1="253.90" x2="325.10" y2="256.40" stroke="#111" stroke-width="0.9"/>
<text x="325.10" y="266.50" font-size="8.55" text-anchor="middle" fill="#222" stroke="#222" stroke-width="0.2" textLength="4.2" lengthAdjust="spacingAndGlyphs">0</text>
<line x1="345.70" y1="253.90" x2="345.70" y2="256.40" stroke="#111" stroke-width="0.9"/>
<text x="345.70" y="266.50" font-size="8.55" text-anchor="middle" fill="#222" stroke="#222" stroke-width="0.2" textLength="12.5" lengthAdjust="spacingAndGlyphs">100</text>
<line x1="366.30" y1="253.90" x2="366.30" y2="256.40" stroke="#111" stroke-width="0.9"/>
<text x="366.30" y="266.50" font-size="8.55" text-anchor="middle" fill="#222" stroke="#222" stroke-width="0.2" textLength="12.5" lengthAdjust="spacingAndGlyphs">200</text>
<line x1="386.90" y1="253.90" x2="386.90" y2="256.40" stroke="#111" stroke-width="0.9"/>
<text x="386.90" y="266.50" font-size="8.55" text-anchor="middle" fill="#222" stroke="#222" stroke-width="0.2" textLength="12.5" lengthAdjust="spacingAndGlyphs">300</text>
<line x1="407.50" y1="253.90" x2="407.50" y2="256.40" stroke="#111" stroke-width="0.9"/>
<text x="407.50" y="266.50" font-size="8.55" text-anchor="middle" fill="#222" stroke="#222" stroke-width="0.2" textLength="12.5" lengthAdjust="spacingAndGlyphs">400</text>
<line x1="422.60" y1="68.00" x2="422.60" y2="143.00" stroke="#111" stroke-width="1.3"/>
<line x1="422.00" y1="142.30" x2="511.50" y2="142.30" stroke="#111" stroke-width="1.3"/>
<line x1="420.10" y1="80.00" x2="422.60" y2="80.00" stroke="#111" stroke-width="0.9"/>
<line x1="420.10" y1="100.00" x2="422.60" y2="100.00" stroke="#111" stroke-width="0.9"/>
<line x1="420.10" y1="120.00" x2="422.60" y2="120.00" stroke="#111" stroke-width="0.9"/>
<line x1="420.10" y1="139.40" x2="422.60" y2="139.40" stroke="#111" stroke-width="0.9"/>
<line x1="424.50" y1="142.30" x2="424.50" y2="144.80" stroke="#111" stroke-width="0.9"/>
<text x="424.50" y="155.00" font-size="8.55" text-anchor="middle" fill="#222" stroke="#222" stroke-width="0.2" textLength="4.2" lengthAdjust="spacingAndGlyphs">0</text>
<line x1="445.25" y1="142.30" x2="445.25" y2="144.80" stroke="#111" stroke-width="0.9"/>
<text x="445.25" y="155.00" font-size="8.55" text-anchor="middle" fill="#222" stroke="#222" stroke-width="0.2" textLength="12.5" lengthAdjust="spacingAndGlyphs">100</text>
<line x1="466.00" y1="142.30" x2="466.00" y2="144.80" stroke="#111" stroke-width="0.9"/>
<text x="466.00" y="155.00" font-size="8.55" text-anchor="middle" fill="#222" stroke="#222" stroke-width="0.2" textLength="12.5" lengthAdjust="spacingAndGlyphs">200</text>
<line x1="486.75" y1="142.30" x2="486.75" y2="144.80" stroke="#111" stroke-width="0.9"/>
<text x="486.75" y="155.00" font-size="8.55" text-anchor="middle" fill="#222" stroke="#222" stroke-width="0.2" textLength="12.5" lengthAdjust="spacingAndGlyphs">300</text>
<line x1="507.50" y1="142.30" x2="507.50" y2="144.80" stroke="#111" stroke-width="0.9"/>
<text x="507.50" y="155.00" font-size="8.55" text-anchor="middle" fill="#222" stroke="#222" stroke-width="0.2" textLength="12.5" lengthAdjust="spacingAndGlyphs">400</text>
<line x1="422.60" y1="176.00" x2="422.60" y2="254.60" stroke="#111" stroke-width="1.3"/>
<line x1="422.00" y1="253.90" x2="511.50" y2="253.90" stroke="#111" stroke-width="1.3"/>
<line x1="420.10" y1="179.00" x2="422.60" y2="179.00" stroke="#111" stroke-width="0.9"/>
<line x1="420.10" y1="193.00" x2="422.60" y2="193.00" stroke="#111" stroke-width="0.9"/>
<line x1="420.10" y1="207.60" x2="422.60" y2="207.60" stroke="#111" stroke-width="0.9"/>
<line x1="420.10" y1="222.00" x2="422.60" y2="222.00" stroke="#111" stroke-width="0.9"/>
<line x1="420.10" y1="236.00" x2="422.60" y2="236.00" stroke="#111" stroke-width="0.9"/>
<line x1="420.10" y1="250.60" x2="422.60" y2="250.60" stroke="#111" stroke-width="0.9"/>
<line x1="424.50" y1="253.90" x2="424.50" y2="256.40" stroke="#111" stroke-width="0.9"/>
<text x="424.50" y="266.50" font-size="8.55" text-anchor="middle" fill="#222" stroke="#222" stroke-width="0.2" textLength="4.2" lengthAdjust="spacingAndGlyphs">0</text>
<line x1="445.25" y1="253.90" x2="445.25" y2="256.40" stroke="#111" stroke-width="0.9"/>
<text x="445.25" y="266.50" font-size="8.55" text-anchor="middle" fill="#222" stroke="#222" stroke-width="0.2" textLength="12.5" lengthAdjust="spacingAndGlyphs">100</text>
<line x1="466.00" y1="253.90" x2="466.00" y2="256.40" stroke="#111" stroke-width="0.9"/>
<text x="466.00" y="266.50" font-size="8.55" text-anchor="middle" fill="#222" stroke="#222" stroke-width="0.2" textLength="12.5" lengthAdjust="spacingAndGlyphs">200</text>
<line x1="486.75" y1="253.90" x2="486.75" y2="256.40" stroke="#111" stroke-width="0.9"/>
<text x="486.75" y="266.50" font-size="8.55" text-anchor="middle" fill="#222" stroke="#222" stroke-width="0.2" textLength="12.5" lengthAdjust="spacingAndGlyphs">300</text>
<line x1="507.50" y1="253.90" x2="507.50" y2="256.40" stroke="#111" stroke-width="0.9"/>
<text x="507.50" y="266.50" font-size="8.55" text-anchor="middle" fill="#222" stroke="#222" stroke-width="0.2" textLength="12.5" lengthAdjust="spacingAndGlyphs">400</text>
<polygon points="347.30,138.80 351.90,136.50 355.00,129.60 357.30,117.30 358.80,103.50 359.60,98.10 360.70,105.00 361.90,120.40 363.50,129.60 365.80,134.50 368.80,136.50 373.50,137.00 378.00,136.00 381.90,132.70 385.00,128.80 387.60,127.00 390.40,129.60 393.50,133.90 398.00,136.50 404.20,138.00 409.60,138.80 409.60,139.20 347.30,139.20" fill="#f9a86b" stroke="none" fill-opacity="0.55"/>
<polygon points="324.00,139.20 345.00,139.20 347.30,137.30 349.60,135.80 351.20,129.60 352.70,123.50 354.20,114.20 355.80,109.60 357.00,105.80 358.00,92.70 358.80,75.80 359.60,80.40 360.40,103.50 361.50,118.80 362.70,128.00 365.00,134.20 368.00,137.00 371.90,137.60 379.60,137.60 384.20,137.00 388.00,136.20 391.90,137.00 396.50,138.20 402.70,138.80 408.80,139.20 408.80,139.20 324.00,139.20" fill="#5e3a8c" stroke="none" fill-opacity="0.6"/>
<polyline points="324.00,139.20 345.00,139.20 347.30,137.30 349.60,135.80 351.20,129.60 352.70,123.50 354.20,114.20 355.80,109.60 357.00,105.80 358.00,92.70 358.80,75.80 359.60,80.40 360.40,103.50 361.50,118.80 362.70,128.00 365.00,134.20 368.00,137.00 371.90,137.60 379.60,137.60 384.20,137.00 388.00,136.20 391.90,137.00 396.50,138.20 402.70,138.80 408.80,139.20" fill="none" stroke="#5b2d82" stroke-width="1.1" stroke-linejoin="round"/>
<polyline points="347.30,138.80 351.90,136.50 355.00,129.60 357.30,117.30 358.80,103.50 359.60,98.10 360.70,105.00 361.90,120.40 363.50,129.60 365.80,134.50 368.80,136.50 373.50,137.00 378.00,136.00 381.90,132.70 385.00,128.80 387.60,127.00 390.40,129.60 393.50,133.90 398.00,136.50 404.20,138.00 409.60,138.80" fill="none" stroke="#f7941d" stroke-width="1.1" stroke-linejoin="round"/>
<rect x="367.00" y="73.00" width="5.00" height="5.00" fill="#8e78b8"/>
<text x="376.00" y="78.50" font-size="9.12" fill="#222" stroke="#222" stroke-width="0.2" textLength="27" lengthAdjust="spacingAndGlyphs">Case #1</text>
<rect x="367.00" y="84.00" width="5.00" height="5.00" fill="#fbc6a5"/>
<text x="376.00" y="89.50" font-size="9.12" fill="#222" stroke="#222" stroke-width="0.2" textLength="27" lengthAdjust="spacingAndGlyphs">Case #2</text>
<polygon points="348.80,250.60 351.90,249.00 355.00,242.90 357.30,227.50 358.80,206.00 359.90,189.80 361.20,199.80 362.70,213.70 365.00,227.50 368.10,239.80 372.70,246.70 378.00,247.50 384.20,246.20 390.40,244.40 395.00,243.20 398.00,242.60 402.70,245.20 407.30,249.80 407.30,250.60 348.80,250.60" fill="#f9a86b" stroke="none" fill-opacity="0.55"/>
<polygon points="325.00,250.60 345.00,250.60 348.80,247.50 351.90,242.90 354.20,233.70 356.50,221.40 358.10,210.60 359.60,198.20 360.80,206.00 362.40,219.80 364.20,230.60 367.30,239.80 371.90,246.20 376.50,247.50 381.20,246.70 385.80,245.20 389.60,243.20 393.50,244.40 399.60,247.50 407.30,250.20 407.30,250.60 325.00,250.60" fill="#5e3a8c" stroke="none" fill-opacity="0.6"/>
<polyline points="348.80,250.60 351.90,249.00 355.00,242.90 357.30,227.50 358.80,206.00 359.90,189.80 361.20,199.80 362.70,213.70 365.00,227.50 368.10,239.80 372.70,246.70 378.00,247.50 384.20,246.20 390.40,244.40 395.00,243.20 398.00,242.60 402.70,245.20 407.30,249.80" fill="none" stroke="#f7941d" stroke-width="1.1" stroke-linejoin="round"/>
<polyline points="325.00,250.60 345.00,250.60 348.80,247.50 351.90,242.90 354.20,233.70 356.50,221.40 358.10,210.60 359.60,198.20 360.80,206.00 362.40,219.80 364.20,230.60 367.30,239.80 371.90,246.20 376.50,247.50 381.20,246.70 385.80,245.20 389.60,243.20 393.50,244.40 399.60,247.50 407.30,250.20" fill="none" stroke="#5b2750" stroke-width="1.1" stroke-linejoin="round"/>
<rect x="367.60" y="197.00" width="5.00" height="5.00" fill="#8e78b8"/>
<text x="376.00" y="202.50" font-size="9.12" fill="#222" stroke="#222" stroke-width="0.2" textLength="27" lengthAdjust="spacingAndGlyphs">Case #4</text>
<rect x="367.60" y="208.00" width="5.00" height="5.00" fill="#fbc6a5"/>
<text x="376.00" y="213.50" font-size="9.12" fill="#222" stroke="#222" stroke-width="0.2" textLength="27" lengthAdjust="spacingAndGlyphs">Case #3</text>
<polygon points="424.50,139.40 445.00,139.40 446.20,132.60 448.00,119.80 449.20,109.40 450.30,108.30 450.80,96.80 452.00,78.30 452.60,71.80 454.20,71.80 455.40,80.60 456.50,86.40 457.70,80.60 459.00,74.80 460.00,85.20 461.20,96.80 462.80,115.20 464.60,129.10 468.00,137.10 473.80,138.80 480.80,137.10 488.80,135.30 494.60,137.60 501.50,138.80 507.50,139.40 507.50,139.40 424.50,139.40" fill="#f9a86b" stroke="none" fill-opacity="0.55"/>
<polyline points="424.50,139.40 445.00,139.40 446.20,132.60 448.00,119.80 449.20,109.40 450.30,108.30 450.80,96.80 452.00,78.30 452.60,71.80 454.20,71.80 455.40,80.60 456.50,86.40 457.70,80.60 459.00,74.80 460.00,85.20 461.20,96.80 462.80,115.20 464.60,129.10 468.00,137.10 473.80,138.80 480.80,137.10 488.80,135.30 494.60,137.60 501.50,138.80 507.50,139.40" fill="none" stroke="#f7941d" stroke-width="1.1" stroke-linejoin="round"/>
<text x="434.50" y="74.00" font-size="9.12" fill="#222" stroke="#222" stroke-width="0.2" textLength="12.5" lengthAdjust="spacingAndGlyphs">133</text>
<text x="459.00" y="74.50" font-size="9.12" fill="#222" stroke="#222" stroke-width="0.2" textLength="12.5" lengthAdjust="spacingAndGlyphs">167</text>
<text x="433.50" y="104.00" font-size="9.12" fill="#222" stroke="#222" stroke-width="0.2" textLength="12.5" lengthAdjust="spacingAndGlyphs">122</text>
<text x="477.00" y="80.50" font-size="9.12" fill="#222" stroke="#222" stroke-width="0.2" textLength="27" lengthAdjust="spacingAndGlyphs">Case #5</text>
<rect x="468.00" y="84.00" width="5.00" height="5.00" fill="#fbc6a5"/>
<text x="477.00" y="89.50" font-size="9.12" fill="#222" stroke="#222" stroke-width="0.2" textLength="36" lengthAdjust="spacingAndGlyphs">Fragments</text>
<path d="M456.6,160.5H460.3V165.9H462.1L458.45,169.6L454.8,165.9H456.6Z" stroke="#111" stroke-width="0.9" fill="#fff"/>
<polygon points="424.50,250.60 445.00,250.60 448.50,249.10 450.80,245.60 452.60,238.60 454.20,227.10 455.80,221.40 457.20,211.00 458.20,194.80 458.80,182.80 460.00,190.20 461.20,208.60 462.80,224.80 464.60,238.60 467.40,246.80 471.50,249.10 478.50,249.10 485.40,247.50 488.80,246.30 494.60,248.60 501.50,249.80 507.50,250.60 507.50,250.60 424.50,250.60" fill="#4a86c5" stroke="none" fill-opacity="0.6"/>
<polygon points="424.50,250.60 443.80,250.60 445.70,247.90 447.30,243.30 448.50,231.80 449.60,220.20 450.30,211.00 451.20,194.80 452.20,188.40 453.10,192.50 454.20,196.00 455.40,204.10 456.50,215.60 458.20,229.40 460.00,241.00 462.30,246.80 465.80,249.10 471.50,247.90 476.20,246.10 479.60,245.10 483.10,246.80 487.70,249.10 497.00,250.20 507.50,250.60 507.50,250.60 424.50,250.60" fill="#e2404f" stroke="none" fill-opacity="0.6"/>
<polyline points="424.50,250.60 445.00,250.60 448.50,249.10 450.80,245.60 452.60,238.60 454.20,227.10 455.80,221.40 457.20,211.00 458.20,194.80 458.80,182.80 460.00,190.20 461.20,208.60 462.80,224.80 464.60,238.60 467.40,246.80 471.50,249.10 478.50,249.10 485.40,247.50 488.80,246.30 494.60,248.60 501.50,249.80 507.50,250.60" fill="none" stroke="#1f5a9c" stroke-width="1.1" stroke-linejoin="round"/>
<polyline points="424.50,250.60 443.80,250.60 445.70,247.90 447.30,243.30 448.50,231.80 449.60,220.20 450.30,211.00 451.20,194.80 452.20,188.40 453.10,192.50 454.20,196.00 455.40,204.10 456.50,215.60 458.20,229.40 460.00,241.00 462.30,246.80 465.80,249.10 471.50,247.90 476.20,246.10 479.60,245.10 483.10,246.80 487.70,249.10 497.00,250.20 507.50,250.60" fill="none" stroke="#d02a3c" stroke-width="1.1" stroke-linejoin="round"/>
<text x="438.00" y="185.00" font-size="9.12" fill="#222" stroke="#222" stroke-width="0.2" textLength="12.5" lengthAdjust="spacingAndGlyphs">133</text>
<text x="462.00" y="185.00" font-size="9.12" fill="#222" stroke="#222" stroke-width="0.2" textLength="12.5" lengthAdjust="spacingAndGlyphs">167</text>
<text x="435.00" y="214.00" font-size="9.12" fill="#222" stroke="#222" stroke-width="0.2" textLength="12.5" lengthAdjust="spacingAndGlyphs">122</text>
<text x="477.00" y="194.00" font-size="9.69" fill="#222" stroke="#222" stroke-width="0.2" textLength="30" lengthAdjust="spacingAndGlyphs">Case #5</text>
<rect x="468.00" y="197.70" width="5.00" height="5.00" fill="#ee8a93"/>
<text x="477.00" y="203.00" font-size="9.12" fill="#222" stroke="#222" stroke-width="0.2" textLength="29" lengthAdjust="spacingAndGlyphs">Mutated</text>
<rect x="468.00" y="208.00" width="5.00" height="5.00" fill="#8db5dc"/>
<text x="477.00" y="213.50" font-size="9.12" fill="#222" stroke="#222" stroke-width="0.2" textLength="35" lengthAdjust="spacingAndGlyphs">Reference</text>
<text x="334.40" y="277.50" font-size="7.5" font-weight="bold" fill="#222" textLength="43" lengthAdjust="spacingAndGlyphs">ctDNA conc.</text>
<defs><linearGradient id="g100" x1="0" y1="0" x2="1" y2="0"><stop offset="0.000" stop-color="#5b3a98"/><stop offset="0.250" stop-color="#a99bcb"/><stop offset="0.500" stop-color="#fff6b0"/><stop offset="0.750" stop-color="#d9896b"/><stop offset="1.000" stop-color="#9c0f3e"/></linearGradient></defs>
<rect x="334.60" y="280.80" width="41.40" height="7.70" fill="url(#g100)"/>
<text x="336.30" y="298.00" font-size="8.55" text-anchor="middle" fill="#222" stroke="#222" stroke-width="0.2" textLength="3.6" lengthAdjust="spacingAndGlyphs">1</text>
<text x="345.93" y="298.00" font-size="8.55" text-anchor="middle" fill="#222" stroke="#222" stroke-width="0.2" textLength="3.6" lengthAdjust="spacingAndGlyphs">2</text>
<text x="355.55" y="298.00" font-size="8.55" text-anchor="middle" fill="#222" stroke="#222" stroke-width="0.2" textLength="3.6" lengthAdjust="spacingAndGlyphs">3</text>
<text x="365.18" y="298.00" font-size="8.55" text-anchor="middle" fill="#222" stroke="#222" stroke-width="0.2" textLength="3.6" lengthAdjust="spacingAndGlyphs">4</text>
<text x="374.80" y="298.00" font-size="8.55" text-anchor="middle" fill="#222" stroke="#222" stroke-width="0.2" textLength="3.6" lengthAdjust="spacingAndGlyphs">5</text>
<text x="386.30" y="277.50" font-size="7.5" font-weight="bold" fill="#222" textLength="14" lengthAdjust="spacingAndGlyphs">VAF</text>
<defs><linearGradient id="g101" x1="0" y1="0" x2="1" y2="0"><stop offset="0.000" stop-color="#2a62ad"/><stop offset="0.150" stop-color="#c8d8ec"/><stop offset="0.250" stop-color="#fbeaea"/><stop offset="0.625" stop-color="#e6999a"/><stop offset="1.000" stop-color="#c2262f"/></linearGradient></defs>
<rect x="386.30" y="280.80" width="41.40" height="7.70" fill="url(#g101)"/>
<text x="387.50" y="298.00" font-size="8.55" text-anchor="middle" fill="#222" stroke="#222" stroke-width="0.2" textLength="3.6" lengthAdjust="spacingAndGlyphs">0</text>
<text x="407.00" y="298.00" font-size="8.55" text-anchor="middle" fill="#222" stroke="#222" stroke-width="0.2" textLength="9.5" lengthAdjust="spacingAndGlyphs">0.2</text>
<text x="426.50" y="298.00" font-size="8.55" text-anchor="middle" fill="#222" stroke="#222" stroke-width="0.2" textLength="9.5" lengthAdjust="spacingAndGlyphs">0.4</text>
<text x="440.40" y="277.50" font-size="7.5" font-weight="bold" fill="#222" textLength="42.6" lengthAdjust="spacingAndGlyphs">cfDNA conc.</text>
<defs><linearGradient id="g102" x1="0" y1="0" x2="1" y2="0"><stop offset="0.000" stop-color="#2a62ad"/><stop offset="0.250" stop-color="#95b6dc"/><stop offset="0.500" stop-color="#f5f5f5"/><stop offset="0.750" stop-color="#e49a9c"/><stop offset="1.000" stop-color="#b0182f"/></linearGradient></defs>
<rect x="441.00" y="280.80" width="41.40" height="7.70" fill="url(#g102)"/>
<text x="442.00" y="298.00" font-size="8.55" text-anchor="middle" fill="#222" stroke="#222" stroke-width="0.2" textLength="3.6" lengthAdjust="spacingAndGlyphs">2</text>
<text x="451.70" y="298.00" font-size="8.55" text-anchor="middle" fill="#222" stroke="#222" stroke-width="0.2" textLength="3.6" lengthAdjust="spacingAndGlyphs">3</text>
<text x="461.40" y="298.00" font-size="8.55" text-anchor="middle" fill="#222" stroke="#222" stroke-width="0.2" textLength="3.6" lengthAdjust="spacingAndGlyphs">4</text>
<text x="471.10" y="298.00" font-size="8.55" text-anchor="middle" fill="#222" stroke="#222" stroke-width="0.2" textLength="3.6" lengthAdjust="spacingAndGlyphs">5</text>
<text x="480.80" y="298.00" font-size="8.55" text-anchor="middle" fill="#222" stroke="#222" stroke-width="0.2" textLength="3.6" lengthAdjust="spacingAndGlyphs">6</text>
<text x="334.60" y="311.50" font-size="8" font-weight="bold" fill="#222" textLength="33" lengthAdjust="spacingAndGlyphs">Histology</text>
<rect x="335.00" y="316.00" width="4.60" height="4.60" fill="#3a6fb3"/>
<text x="344.50" y="321.00" font-size="8.55" fill="#222" stroke="#222" stroke-width="0.2" textLength="42" lengthAdjust="spacingAndGlyphs">DLBCL, NOS</text>
<rect x="335.00" y="326.00" width="4.60" height="4.60" fill="#e7157b"/>
<text x="344.50" y="331.00" font-size="8.55" fill="#222" stroke="#222" stroke-width="0.2" textLength="15" lengthAdjust="spacingAndGlyphs">FL3B</text>
<rect x="335.00" y="336.00" width="4.60" height="4.60" fill="#fff57a"/>
<text x="344.50" y="341.00" font-size="8.55" fill="#222" stroke="#222" stroke-width="0.2" textLength="30" lengthAdjust="spacingAndGlyphs">THRLBCL</text>
<rect x="396.00" y="316.00" width="4.60" height="4.60" fill="#f9b97c"/>
<text x="405.50" y="321.00" font-size="8.55" fill="#222" stroke="#222" stroke-width="0.2" textLength="23" lengthAdjust="spacingAndGlyphs">PMBCL</text>
<rect x="396.00" y="326.00" width="4.60" height="4.60" fill="#b7a8d5"/>
<text x="405.50" y="331.00" font-size="8.55" fill="#222" stroke="#222" stroke-width="0.2" textLength="41" lengthAdjust="spacingAndGlyphs">Intravascular</text>
<text x="455.00" y="311.50" font-size="8" font-weight="bold" fill="#222" textLength="28" lengthAdjust="spacingAndGlyphs">Subtype</text>
<rect x="456.50" y="316.00" width="4.60" height="4.60" fill="#f47d16"/>
<text x="465.80" y="321.00" font-size="8.55" fill="#222" stroke="#222" stroke-width="0.2" textLength="15" lengthAdjust="spacingAndGlyphs">GCB</text>
<rect x="456.50" y="326.00" width="4.60" height="4.60" fill="#3a78be"/>
<text x="465.80" y="331.00" font-size="8.55" fill="#222" stroke="#222" stroke-width="0.2" textLength="31" lengthAdjust="spacingAndGlyphs">Non-GCB</text>
<text x="7.00" y="359.20" font-size="12" font-weight="bold" fill="#000">C</text>
<text x="99.30" y="372.50" font-size="9.5" text-anchor="middle" fill="#222" stroke="#222" stroke-width="0.2" textLength="121" lengthAdjust="spacingAndGlyphs">Principal component analysis</text>
<line x1="39.40" y1="407.30" x2="159.30" y2="407.30" stroke="#111" stroke-width="1.1" stroke-dasharray="3,2"/>
<line x1="115.00" y1="377.50" x2="115.00" y2="489.90" stroke="#111" stroke-width="1.1" stroke-dasharray="3,2"/>
<line x1="36.90" y1="407.30" x2="39.40" y2="407.30" stroke="#111" stroke-width="0.9"/>
<text x="34.20" y="410.20" font-size="9.12" text-anchor="end" fill="#222" stroke="#222" stroke-width="0.2" textLength="4.3" lengthAdjust="spacingAndGlyphs">0</text>
<line x1="36.90" y1="438.90" x2="39.40" y2="438.90" stroke="#111" stroke-width="0.9"/>
<text x="34.20" y="441.80" font-size="9.12" text-anchor="end" fill="#222" stroke="#222" stroke-width="0.2" textLength="13.5" lengthAdjust="spacingAndGlyphs">−10</text>
<line x1="36.90" y1="470.50" x2="39.40" y2="470.50" stroke="#111" stroke-width="0.9"/>
<text x="34.20" y="473.40" font-size="9.12" text-anchor="end" fill="#222" stroke="#222" stroke-width="0.2" textLength="13.5" lengthAdjust="spacingAndGlyphs">−20</text>
<line x1="49.60" y1="489.90" x2="49.60" y2="492.40" stroke="#111" stroke-width="0.9"/>
<text x="48.60" y="502.50" font-size="9.12" text-anchor="middle" fill="#222" stroke="#222" stroke-width="0.2" textLength="13.5" lengthAdjust="spacingAndGlyphs">−20</text>
<line x1="82.30" y1="489.90" x2="82.30" y2="492.40" stroke="#111" stroke-width="0.9"/>
<text x="81.30" y="502.50" font-size="9.12" text-anchor="middle" fill="#222" stroke="#222" stroke-width="0.2" textLength="13.5" lengthAdjust="spacingAndGlyphs">−10</text>
<line x1="115.00" y1="489.90" x2="115.00" y2="492.40" stroke="#111" stroke-width="0.9"/>
<text x="115.00" y="502.50" font-size="9.12" text-anchor="middle" fill="#222" stroke="#222" stroke-width="0.2" textLength="4.3" lengthAdjust="spacingAndGlyphs">0</text>
<line x1="147.70" y1="489.90" x2="147.70" y2="492.40" stroke="#111" stroke-width="0.9"/>
<text x="147.70" y="502.50" font-size="9.12" text-anchor="middle" fill="#222" stroke="#222" stroke-width="0.2" textLength="8.5" lengthAdjust="spacingAndGlyphs">10</text>
<text x="101.00" y="512.50" font-size="9.69" text-anchor="middle" fill="#222" stroke="#222" stroke-width="0.2" textLength="46" lengthAdjust="spacingAndGlyphs">Dim1 (37.7%)</text>
<text x="16.00" y="435.50" font-size="9.69" text-anchor="middle" fill="#222" stroke="#222" stroke-width="0.2" textLength="46" lengthAdjust="spacingAndGlyphs" transform="rotate(-90 16.00 435.50)">Dim2 (23.3%)</text>
<text x="41.50" y="385.20" font-size="8.55" fill="#222" stroke="#222" stroke-width="0.2" textLength="58" lengthAdjust="spacingAndGlyphs">All cfDNA samples</text>
<text x="41.50" y="394.00" font-size="8.55" fill="#222" stroke="#222" stroke-width="0.2" textLength="25" lengthAdjust="spacingAndGlyphs">n = 242</text>
<circle cx="152.00" cy="438.75" r="1.75" fill="#c8102e"/>
<circle cx="74.81" cy="407.75" r="1.75" fill="#c8102e"/>
<circle cx="126.25" cy="430.00" r="1.75" fill="#c8102e"/>
<circle cx="134.50" cy="442.00" r="1.75" fill="#c8102e"/>
<circle cx="148.57" cy="432.07" r="1.75" fill="#c8102e"/>
<circle cx="120.00" cy="430.50" r="1.75" fill="#c8102e"/>
<circle cx="152.96" cy="421.13" r="1.75" fill="#c8102e"/>
<circle cx="145.16" cy="407.60" r="1.75" fill="#c8102e"/>
<circle cx="137.00" cy="456.25" r="1.75" fill="#c8102e"/>
<circle cx="126.87" cy="405.44" r="1.75" fill="#c8102e"/>
<circle cx="105.60" cy="434.38" r="1.75" fill="#c8102e"/>
<circle cx="83.46" cy="415.00" r="1.75" fill="#c8102e"/>
<circle cx="156.00" cy="410.00" r="1.75" fill="#c8102e"/>
<circle cx="124.07" cy="423.31" r="1.75" fill="#c8102e"/>
<circle cx="73.66" cy="407.57" r="1.75" fill="#c8102e"/>
<circle cx="154.73" cy="415.65" r="1.75" fill="#c8102e"/>
<circle cx="153.45" cy="425.52" r="1.75" fill="#c8102e"/>
<circle cx="97.00" cy="470.50" r="1.75" fill="#c8102e"/>
<circle cx="106.93" cy="412.56" r="1.75" fill="#c8102e"/>
<circle cx="118.44" cy="429.74" r="1.75" fill="#c8102e"/>
<circle cx="141.18" cy="410.55" r="1.75" fill="#c8102e"/>
<circle cx="138.25" cy="433.25" r="1.75" fill="#c8102e"/>
<circle cx="157.80" cy="406.50" r="1.75" fill="#c8102e"/>
<circle cx="112.79" cy="422.86" r="1.75" fill="#c8102e"/>
<circle cx="156.25" cy="430.50" r="1.75" fill="#c8102e"/>
<circle cx="142.51" cy="414.04" r="1.75" fill="#c8102e"/>
<circle cx="89.34" cy="420.97" r="1.75" fill="#c8102e"/>
<circle cx="149.50" cy="433.75" r="1.75" fill="#c8102e"/>
<circle cx="112.00" cy="459.50" r="1.75" fill="#c8102e"/>
<circle cx="78.37" cy="440.42" r="1.75" fill="#c8102e"/>
<circle cx="115.00" cy="422.50" r="1.75" fill="#c8102e"/>
<circle cx="138.30" cy="430.88" r="1.75" fill="#c8102e"/>
<circle cx="143.58" cy="426.82" r="1.75" fill="#c8102e"/>
<circle cx="144.48" cy="419.63" r="1.75" fill="#c8102e"/>
<circle cx="138.67" cy="441.12" r="1.75" fill="#c8102e"/>
<circle cx="96.38" cy="411.85" r="1.75" fill="#c8102e"/>
<circle cx="145.86" cy="410.38" r="1.75" fill="#c8102e"/>
<circle cx="140.27" cy="407.33" r="1.75" fill="#c8102e"/>
<circle cx="107.96" cy="407.36" r="1.75" fill="#c8102e"/>
<circle cx="68.75" cy="431.25" r="1.75" fill="#c8102e"/>
<circle cx="94.25" cy="485.00" r="1.75" fill="#c8102e"/>
<circle cx="129.76" cy="409.61" r="1.75" fill="#c8102e"/>
<circle cx="138.68" cy="410.78" r="1.75" fill="#c8102e"/>
<circle cx="107.60" cy="422.15" r="1.75" fill="#c8102e"/>
<circle cx="100.80" cy="419.72" r="1.75" fill="#c8102e"/>
<circle cx="73.89" cy="412.80" r="1.75" fill="#c8102e"/>
<circle cx="95.83" cy="438.41" r="1.75" fill="#c8102e"/>
<circle cx="145.00" cy="425.00" r="1.75" fill="#c8102e"/>
<circle cx="143.34" cy="437.91" r="1.75" fill="#c8102e"/>
<circle cx="59.00" cy="406.00" r="1.75" fill="#c8102e"/>
<circle cx="93.66" cy="430.24" r="1.75" fill="#c8102e"/>
<circle cx="100.50" cy="433.25" r="1.75" fill="#c8102e"/>
<circle cx="109.25" cy="425.50" r="1.75" fill="#c8102e"/>
<circle cx="89.27" cy="441.14" r="1.75" fill="#c8102e"/>
<circle cx="148.20" cy="419.78" r="1.75" fill="#c8102e"/>
<circle cx="111.00" cy="409.32" r="1.75" fill="#c8102e"/>
<circle cx="84.25" cy="447.00" r="1.75" fill="#c8102e"/>
<circle cx="123.25" cy="439.50" r="1.75" fill="#c8102e"/>
<circle cx="142.90" cy="412.69" r="1.75" fill="#c8102e"/>
<circle cx="152.98" cy="404.87" r="1.75" fill="#c8102e"/>
<circle cx="155.00" cy="442.50" r="1.75" fill="#c8102e"/>
<circle cx="128.75" cy="445.75" r="1.75" fill="#c8102e"/>
<circle cx="112.24" cy="427.32" r="1.75" fill="#c8102e"/>
<circle cx="120.00" cy="422.00" r="1.75" fill="#c8102e"/>
<circle cx="94.29" cy="410.35" r="1.75" fill="#c8102e"/>
<circle cx="158.00" cy="414.00" r="1.75" fill="#c8102e"/>
<circle cx="102.67" cy="405.13" r="1.75" fill="#4b1f6f"/>
<circle cx="84.94" cy="408.02" r="1.75" fill="#c8102e"/>
<circle cx="87.56" cy="435.26" r="1.75" fill="#c8102e"/>
<circle cx="125.94" cy="424.34" r="1.75" fill="#c8102e"/>
<circle cx="110.93" cy="404.34" r="1.75" fill="#c8102e"/>
<circle cx="100.98" cy="398.72" r="1.75" fill="#4b1f6f"/>
<circle cx="115.46" cy="405.80" r="1.75" fill="#c8102e"/>
<circle cx="123.25" cy="423.42" r="1.75" fill="#c8102e"/>
<circle cx="123.31" cy="419.62" r="1.75" fill="#c8102e"/>
<circle cx="123.52" cy="389.67" r="1.75" fill="#4b1f6f"/>
<circle cx="122.18" cy="382.71" r="1.75" fill="#4b1f6f"/>
<circle cx="108.80" cy="391.36" r="1.75" fill="#4b1f6f"/>
<circle cx="148.68" cy="408.58" r="1.75" fill="#c8102e"/>
<circle cx="70.64" cy="408.93" r="1.75" fill="#c8102e"/>
<circle cx="134.19" cy="408.37" r="1.75" fill="#c8102e"/>
<circle cx="137.00" cy="426.75" r="1.75" fill="#c8102e"/>
<circle cx="116.75" cy="407.82" r="1.75" fill="#c8102e"/>
<circle cx="88.41" cy="401.66" r="1.75" fill="#4b1f6f"/>
<circle cx="148.63" cy="389.93" r="1.75" fill="#4b1f6f"/>
<circle cx="99.00" cy="438.75" r="1.75" fill="#c8102e"/>
<circle cx="144.54" cy="415.64" r="1.75" fill="#c8102e"/>
<circle cx="124.81" cy="384.94" r="1.75" fill="#4b1f6f"/>
<circle cx="82.70" cy="428.19" r="1.75" fill="#c8102e"/>
<circle cx="153.00" cy="406.50" r="1.75" fill="#c8102e"/>
<circle cx="154.46" cy="418.25" r="1.75" fill="#c8102e"/>
<circle cx="137.86" cy="387.73" r="1.75" fill="#4b1f6f"/>
<circle cx="154.75" cy="432.43" r="1.75" fill="#c8102e"/>
<circle cx="132.71" cy="406.99" r="1.75" fill="#c8102e"/>
<circle cx="82.00" cy="412.00" r="1.75" fill="#4b1f6f"/>
<circle cx="96.59" cy="422.04" r="1.75" fill="#c8102e"/>
<circle cx="106.79" cy="436.06" r="1.75" fill="#c8102e"/>
<circle cx="93.86" cy="419.83" r="1.75" fill="#c8102e"/>
<circle cx="126.25" cy="433.00" r="1.75" fill="#c8102e"/>
<circle cx="142.33" cy="381.02" r="1.75" fill="#4b1f6f"/>
<circle cx="93.75" cy="431.75" r="1.75" fill="#c8102e"/>
<circle cx="73.17" cy="411.56" r="1.75" fill="#c8102e"/>
<circle cx="115.00" cy="439.50" r="1.75" fill="#c8102e"/>
<circle cx="92.73" cy="395.25" r="1.75" fill="#4b1f6f"/>
<circle cx="118.31" cy="414.13" r="1.75" fill="#c8102e"/>
<circle cx="136.64" cy="406.15" r="1.75" fill="#c8102e"/>
<circle cx="94.43" cy="413.36" r="1.75" fill="#c8102e"/>
<circle cx="130.82" cy="419.98" r="1.75" fill="#c8102e"/>
<circle cx="95.34" cy="401.28" r="1.75" fill="#4b1f6f"/>
<circle cx="122.76" cy="388.98" r="1.75" fill="#4b1f6f"/>
<circle cx="109.08" cy="385.07" r="1.75" fill="#4b1f6f"/>
<circle cx="121.78" cy="389.54" r="1.75" fill="#4b1f6f"/>
<circle cx="111.43" cy="387.50" r="1.75" fill="#4b1f6f"/>
<circle cx="102.20" cy="386.34" r="1.75" fill="#4b1f6f"/>
<circle cx="121.48" cy="394.38" r="1.75" fill="#4b1f6f"/>
<circle cx="100.85" cy="384.27" r="1.75" fill="#4b1f6f"/>
<circle cx="104.14" cy="405.35" r="1.75" fill="#4b1f6f"/>
<circle cx="120.54" cy="381.66" r="1.75" fill="#4b1f6f"/>
<circle cx="80.57" cy="389.38" r="1.75" fill="#4b1f6f"/>
<circle cx="132.75" cy="386.41" r="1.75" fill="#4b1f6f"/>
<circle cx="110.80" cy="397.50" r="1.75" fill="#4b1f6f"/>
<circle cx="100.00" cy="414.00" r="1.75" fill="#4b1f6f"/>
<circle cx="143.03" cy="381.01" r="1.75" fill="#4b1f6f"/>
<circle cx="123.32" cy="397.04" r="1.75" fill="#4b1f6f"/>
<circle cx="122.05" cy="391.62" r="1.75" fill="#4b1f6f"/>
<circle cx="102.43" cy="391.46" r="1.75" fill="#4b1f6f"/>
<circle cx="98.62" cy="389.58" r="1.75" fill="#4b1f6f"/>
<circle cx="135.98" cy="391.80" r="1.75" fill="#1f5591"/>
<circle cx="127.94" cy="411.93" r="1.75" fill="#1f5591"/>
<circle cx="99.11" cy="399.18" r="1.75" fill="#4b1f6f"/>
<circle cx="117.06" cy="402.32" r="1.75" fill="#1f5591"/>
<circle cx="110.85" cy="395.31" r="1.75" fill="#1f5591"/>
<circle cx="120.35" cy="398.65" r="1.75" fill="#1f5591"/>
<circle cx="130.54" cy="396.17" r="1.75" fill="#1f5591"/>
<circle cx="98.05" cy="388.38" r="1.75" fill="#4b1f6f"/>
<circle cx="118.74" cy="392.07" r="1.75" fill="#4b1f6f"/>
<circle cx="114.79" cy="411.72" r="1.75" fill="#1f5591"/>
<circle cx="126.42" cy="397.74" r="1.75" fill="#1f5591"/>
<circle cx="114.94" cy="399.63" r="1.75" fill="#1f5591"/>
<circle cx="102.74" cy="401.11" r="1.75" fill="#1f5591"/>
<circle cx="89.14" cy="398.80" r="1.75" fill="#4b1f6f"/>
<circle cx="120.91" cy="391.15" r="1.75" fill="#4b1f6f"/>
<circle cx="148.02" cy="387.84" r="1.75" fill="#4b1f6f"/>
<circle cx="136.91" cy="403.99" r="1.75" fill="#1f5591"/>
<circle cx="116.34" cy="385.93" r="1.75" fill="#4b1f6f"/>
<circle cx="125.60" cy="406.23" r="1.75" fill="#1f5591"/>
<circle cx="104.00" cy="418.00" r="1.75" fill="#1f5591"/>
<circle cx="100.10" cy="402.12" r="1.75" fill="#4b1f6f"/>
<circle cx="117.29" cy="411.03" r="1.75" fill="#1f5591"/>
<circle cx="130.60" cy="397.59" r="1.75" fill="#1f5591"/>
<circle cx="153.60" cy="404.99" r="1.75" fill="#1f5591"/>
<circle cx="122.95" cy="393.49" r="1.75" fill="#1f5591"/>
<circle cx="112.11" cy="396.05" r="1.75" fill="#1f5591"/>
<circle cx="125.44" cy="405.83" r="1.75" fill="#1f5591"/>
<circle cx="137.98" cy="407.47" r="1.75" fill="#1f5591"/>
<circle cx="130.08" cy="393.47" r="1.75" fill="#1f5591"/>
<circle cx="88.92" cy="402.54" r="1.75" fill="#1f5591"/>
<circle cx="150.87" cy="401.66" r="1.75" fill="#1f5591"/>
<circle cx="66.50" cy="446.00" r="1.75" fill="#4b1f6f"/>
<circle cx="123.42" cy="381.75" r="1.75" fill="#4b1f6f"/>
<circle cx="88.00" cy="418.00" r="1.75" fill="#4b1f6f"/>
<circle cx="134.28" cy="395.88" r="1.75" fill="#4b1f6f"/>
<circle cx="108.07" cy="395.56" r="1.75" fill="#1f5591"/>
<circle cx="94.29" cy="381.97" r="1.75" fill="#4b1f6f"/>
<circle cx="116.39" cy="400.64" r="1.75" fill="#1f5591"/>
<circle cx="148.69" cy="403.45" r="1.75" fill="#1f5591"/>
<circle cx="136.86" cy="407.09" r="1.75" fill="#1f5591"/>
<circle cx="122.21" cy="408.20" r="1.75" fill="#1f5591"/>
<circle cx="118.33" cy="390.77" r="1.75" fill="#1f5591"/>
<circle cx="127.62" cy="400.97" r="1.75" fill="#1f5591"/>
<circle cx="124.03" cy="399.81" r="1.75" fill="#1f5591"/>
<circle cx="138.94" cy="395.23" r="1.75" fill="#1f5591"/>
<circle cx="125.42" cy="401.76" r="1.75" fill="#1f5591"/>
<circle cx="123.25" cy="410.83" r="1.75" fill="#1f5591"/>
<circle cx="115.36" cy="401.98" r="1.75" fill="#1f5591"/>
<circle cx="136.23" cy="393.70" r="1.75" fill="#1f5591"/>
<circle cx="90.00" cy="420.00" r="1.75" fill="#1f5591"/>
<circle cx="129.26" cy="400.98" r="1.75" fill="#1f5591"/>
<circle cx="113.97" cy="414.02" r="1.75" fill="#1f5591"/>
<circle cx="130.72" cy="396.55" r="1.75" fill="#1f5591"/>
<circle cx="148.77" cy="398.36" r="1.75" fill="#1f5591"/>
<circle cx="131.38" cy="401.82" r="1.75" fill="#1f5591"/>
<circle cx="137.92" cy="394.80" r="1.75" fill="#1f5591"/>
<circle cx="105.47" cy="395.34" r="1.75" fill="#1f5591"/>
<circle cx="98.45" cy="387.29" r="1.75" fill="#1f5591"/>
<circle cx="112.74" cy="395.71" r="1.75" fill="#1f5591"/>
<circle cx="121.86" cy="396.60" r="1.75" fill="#1f5591"/>
<circle cx="123.11" cy="395.93" r="1.75" fill="#1f5591"/>
<circle cx="145.71" cy="404.93" r="1.75" fill="#1f5591"/>
<circle cx="122.38" cy="398.04" r="1.75" fill="#1f5591"/>
<circle cx="150.85" cy="401.92" r="1.75" fill="#1f5591"/>
<circle cx="117.83" cy="393.49" r="1.75" fill="#1f5591"/>
<circle cx="157.00" cy="396.90" r="1.75" fill="#1f5591"/>
<circle cx="101.00" cy="411.00" r="1.75" fill="#f5a21b"/>
<circle cx="88.00" cy="399.48" r="1.75" fill="#1f5591"/>
<circle cx="139.25" cy="397.63" r="1.75" fill="#1f5591"/>
<circle cx="110.57" cy="402.35" r="1.75" fill="#1f5591"/>
<circle cx="113.57" cy="397.33" r="1.75" fill="#1f5591"/>
<circle cx="131.99" cy="398.08" r="1.75" fill="#1f5591"/>
<circle cx="130.51" cy="390.73" r="1.75" fill="#1f5591"/>
<circle cx="110.52" cy="410.39" r="1.75" fill="#1f5591"/>
<circle cx="148.54" cy="397.08" r="1.75" fill="#1f5591"/>
<circle cx="79.50" cy="425.50" r="1.75" fill="#1f5591"/>
<circle cx="125.42" cy="403.18" r="1.75" fill="#1f5591"/>
<circle cx="108.77" cy="400.08" r="1.75" fill="#1f5591"/>
<circle cx="128.00" cy="396.78" r="1.75" fill="#1f5591"/>
<circle cx="99.07" cy="395.12" r="1.75" fill="#1f5591"/>
<circle cx="63.25" cy="398.75" r="1.75" fill="#1f5591"/>
<circle cx="120.00" cy="402.50" r="1.75" fill="#f5a21b"/>
<circle cx="137.76" cy="407.21" r="1.75" fill="#1f5591"/>
<circle cx="133.17" cy="401.23" r="1.75" fill="#1f5591"/>
<circle cx="101.72" cy="396.94" r="1.75" fill="#1f5591"/>
<circle cx="92.50" cy="410.00" r="1.75" fill="#f5a21b"/>
<circle cx="118.00" cy="405.00" r="1.75" fill="#f5a21b"/>
<circle cx="101.00" cy="401.00" r="1.75" fill="#e5007e"/>
<circle cx="117.50" cy="396.00" r="1.75" fill="#e5007e"/>
<circle cx="78.75" cy="413.75" r="1.75" fill="#f5a21b"/>
<circle cx="98.00" cy="409.00" r="1.75" fill="#f5a21b"/>
<circle cx="104.00" cy="412.00" r="1.75" fill="#f5a21b"/>
<circle cx="102.50" cy="413.50" r="1.75" fill="#f5a21b"/>
<circle cx="142.00" cy="401.00" r="1.75" fill="#e5007e"/>
<circle cx="106.00" cy="398.00" r="1.75" fill="#e5007e"/>
<circle cx="110.00" cy="392.00" r="1.75" fill="#e5007e"/>
<circle cx="44.50" cy="408.00" r="1.75" fill="#e5007e"/>
<circle cx="131.00" cy="389.00" r="1.75" fill="#e5007e"/>
<circle cx="124.00" cy="398.00" r="1.75" fill="#e5007e"/>
<circle cx="87.00" cy="401.00" r="1.75" fill="#e5007e"/>
<circle cx="146.00" cy="383.00" r="1.75" fill="#e5007e"/>
<circle cx="95.00" cy="414.00" r="1.75" fill="#e5007e"/>
<rect x="39.40" y="377.50" width="119.90" height="112.40" fill="none" stroke="#111" stroke-width="1.2"/>
<text x="29.40" y="524.00" font-size="8.55" fill="#222" stroke="#222" stroke-width="0.2" textLength="44" lengthAdjust="spacingAndGlyphs">Sample group</text>
<circle cx="31.00" cy="529.20" r="1.7" fill="#c8102e"/>
<text x="36.00" y="531.90" font-size="8.55" fill="#222" stroke="#222" stroke-width="0.2" textLength="43.4" lengthAdjust="spacingAndGlyphs">Pretreatment</text>
<circle cx="87.60" cy="529.20" r="1.7" fill="#1f5591"/>
<text x="92.60" y="531.90" font-size="8.55" fill="#222" stroke="#222" stroke-width="0.2" textLength="57.2" lengthAdjust="spacingAndGlyphs">End-of-treatment</text>
<circle cx="31.00" cy="538.00" r="1.7" fill="#e5007e"/>
<text x="36.00" y="540.70" font-size="8.55" fill="#222" stroke="#222" stroke-width="0.2" textLength="75.8" lengthAdjust="spacingAndGlyphs">At relapse/progression</text>
<circle cx="120.30" cy="538.00" r="1.7" fill="#4b1f6f"/>
<text x="125.30" y="540.70" font-size="8.55" fill="#222" stroke="#222" stroke-width="0.2" textLength="44.8" lengthAdjust="spacingAndGlyphs">After 3 cycles</text>
<circle cx="31.00" cy="547.20" r="1.7" fill="#f5a21b"/>
<text x="36.00" y="549.90" font-size="8.55" fill="#222" stroke="#222" stroke-width="0.2" textLength="24" lengthAdjust="spacingAndGlyphs">Healthy</text>
<text x="166.50" y="359.20" font-size="12" font-weight="bold" fill="#000">D</text>
<text x="244.00" y="372.50" font-size="9.5" text-anchor="middle" fill="#222" stroke="#222" stroke-width="0.2" textLength="110" lengthAdjust="spacingAndGlyphs">End-of-treatment samples</text>
<text x="191.70" y="384.30" font-size="8.55" fill="#222" stroke="#222" stroke-width="0.2" textLength="20.3" lengthAdjust="spacingAndGlyphs">n = 71</text>
<line x1="192.30" y1="388.50" x2="192.30" y2="490.60" stroke="#111" stroke-width="1.1"/>
<line x1="191.80" y1="490.00" x2="220.50" y2="490.00" stroke="#111" stroke-width="1.1"/>
<line x1="189.80" y1="400.50" x2="192.30" y2="400.50" stroke="#111" stroke-width="0.9"/>
<text x="188.30" y="403.30" font-size="9.12" text-anchor="end" fill="#222" stroke="#222" stroke-width="0.2" textLength="8.5" lengthAdjust="spacingAndGlyphs">10</text>
<line x1="189.80" y1="433.80" x2="192.30" y2="433.80" stroke="#111" stroke-width="0.9"/>
<text x="188.30" y="436.60" font-size="9.12" text-anchor="end" fill="#222" stroke="#222" stroke-width="0.2" textLength="4.3" lengthAdjust="spacingAndGlyphs">0</text>
<line x1="189.80" y1="466.50" x2="192.30" y2="466.50" stroke="#111" stroke-width="0.9"/>
<text x="188.30" y="469.30" font-size="9.12" text-anchor="end" fill="#222" stroke="#222" stroke-width="0.2" textLength="12.5" lengthAdjust="spacingAndGlyphs">−10</text>
<text x="177.60" y="440.30" font-size="9.8" text-anchor="middle" fill="#222" stroke="#222" stroke-width="0.2" textLength="12.5" lengthAdjust="spacingAndGlyphs" transform="rotate(-90 177.60 440.30)">PC1</text>
<line x1="200.10" y1="402.00" x2="200.10" y2="421.00" stroke="#555" stroke-width="0.8"/>
<line x1="200.10" y1="444.60" x2="200.10" y2="471.00" stroke="#555" stroke-width="0.8"/>
<rect x="195.30" y="421.00" width="9.60" height="23.60" fill="#e88f9b" stroke="#444" stroke-width="0.8"/>
<line x1="195.30" y1="434.50" x2="204.90" y2="434.50" stroke="#222" stroke-width="1.1"/>
<circle cx="200.70" cy="435.53" r="1.6" fill="#c8102e"/>
<circle cx="198.24" cy="454.24" r="1.6" fill="#c8102e"/>
<circle cx="197.63" cy="418.92" r="1.6" fill="#c8102e"/>
<circle cx="202.09" cy="450.07" r="1.6" fill="#c8102e"/>
<circle cx="199.09" cy="429.80" r="1.6" fill="#c8102e"/>
<circle cx="202.58" cy="429.77" r="1.6" fill="#c8102e"/>
<circle cx="202.24" cy="464.76" r="1.6" fill="#c8102e"/>
<circle cx="199.44" cy="436.55" r="1.6" fill="#c8102e"/>
<circle cx="199.89" cy="433.31" r="1.6" fill="#c8102e"/>
<circle cx="200.21" cy="445.81" r="1.6" fill="#c8102e"/>
<circle cx="200.88" cy="452.24" r="1.6" fill="#c8102e"/>
<circle cx="200.62" cy="433.50" r="1.6" fill="#c8102e"/>
<circle cx="200.42" cy="443.52" r="1.6" fill="#c8102e"/>
<circle cx="200.75" cy="418.23" r="1.6" fill="#c8102e"/>
<circle cx="202.48" cy="428.06" r="1.6" fill="#c8102e"/>
<circle cx="200.14" cy="426.91" r="1.6" fill="#c8102e"/>
<circle cx="199.73" cy="412.43" r="1.6" fill="#c8102e"/>
<circle cx="201.29" cy="409.58" r="1.6" fill="#c8102e"/>
<circle cx="198.68" cy="407.66" r="1.6" fill="#c8102e"/>
<circle cx="199.03" cy="430.14" r="1.6" fill="#c8102e"/>
<circle cx="202.68" cy="431.21" r="1.6" fill="#c8102e"/>
<circle cx="200.21" cy="428.81" r="1.6" fill="#c8102e"/>
<circle cx="200.36" cy="435.12" r="1.6" fill="#c8102e"/>
<circle cx="197.46" cy="412.38" r="1.6" fill="#c8102e"/>
<circle cx="199.64" cy="432.71" r="1.6" fill="#c8102e"/>
<circle cx="200.53" cy="437.85" r="1.6" fill="#c8102e"/>
<circle cx="197.51" cy="446.16" r="1.6" fill="#c8102e"/>
<circle cx="200.73" cy="420.30" r="1.6" fill="#c8102e"/>
<circle cx="200.81" cy="427.53" r="1.6" fill="#c8102e"/>
<circle cx="197.72" cy="425.85" r="1.6" fill="#c8102e"/>
<circle cx="200.79" cy="411.02" r="1.6" fill="#c8102e"/>
<circle cx="199.92" cy="451.83" r="1.6" fill="#c8102e"/>
<circle cx="201.07" cy="446.93" r="1.6" fill="#c8102e"/>
<circle cx="199.30" cy="439.31" r="1.6" fill="#c8102e"/>
<circle cx="201.22" cy="428.94" r="1.6" fill="#c8102e"/>
<circle cx="201.39" cy="441.44" r="1.6" fill="#c8102e"/>
<circle cx="197.52" cy="442.54" r="1.6" fill="#c8102e"/>
<circle cx="197.73" cy="450.93" r="1.6" fill="#c8102e"/>
<circle cx="201.05" cy="430.27" r="1.6" fill="#c8102e"/>
<circle cx="202.60" cy="424.41" r="1.6" fill="#c8102e"/>
<circle cx="198.76" cy="424.21" r="1.6" fill="#c8102e"/>
<circle cx="199.86" cy="418.03" r="1.6" fill="#c8102e"/>
<circle cx="200.60" cy="433.27" r="1.6" fill="#c8102e"/>
<circle cx="199.13" cy="421.28" r="1.6" fill="#c8102e"/>
<circle cx="199.37" cy="451.30" r="1.6" fill="#c8102e"/>
<circle cx="199.09" cy="403.73" r="1.6" fill="#c8102e"/>
<circle cx="199.39" cy="416.29" r="1.6" fill="#c8102e"/>
<circle cx="200.62" cy="418.57" r="1.6" fill="#c8102e"/>
<circle cx="199.02" cy="464.80" r="1.6" fill="#c8102e"/>
<circle cx="199.44" cy="429.41" r="1.6" fill="#c8102e"/>
<circle cx="201.57" cy="425.50" r="1.6" fill="#c8102e"/>
<circle cx="197.55" cy="460.81" r="1.6" fill="#c8102e"/>
<circle cx="200.47" cy="451.35" r="1.6" fill="#c8102e"/>
<circle cx="201.37" cy="422.16" r="1.6" fill="#c8102e"/>
<circle cx="199.07" cy="431.49" r="1.6" fill="#c8102e"/>
<circle cx="198.60" cy="423.14" r="1.6" fill="#c8102e"/>
<circle cx="201.74" cy="444.37" r="1.6" fill="#c8102e"/>
<circle cx="198.69" cy="415.58" r="1.6" fill="#c8102e"/>
<circle cx="198.41" cy="432.72" r="1.6" fill="#c8102e"/>
<circle cx="199.75" cy="439.72" r="1.6" fill="#c8102e"/>
<circle cx="201.17" cy="463.79" r="1.6" fill="#c8102e"/>
<circle cx="197.95" cy="458.69" r="1.6" fill="#c8102e"/>
<circle cx="199.14" cy="484.50" r="1.6" fill="#c8102e"/>
<circle cx="199.20" cy="473.00" r="1.6" fill="#c8102e"/>
<circle cx="201.90" cy="471.00" r="1.6" fill="#c8102e"/>
<line x1="213.20" y1="400.50" x2="213.20" y2="416.30" stroke="#555" stroke-width="0.8"/>
<line x1="213.20" y1="434.80" x2="213.20" y2="446.50" stroke="#555" stroke-width="0.8"/>
<rect x="208.40" y="416.30" width="9.60" height="18.50" fill="#8fb0d0" stroke="#444" stroke-width="0.8"/>
<line x1="208.40" y1="428.40" x2="218.00" y2="428.40" stroke="#222" stroke-width="1.1"/>
<circle cx="212.87" cy="434.58" r="1.6" fill="#1f5591"/>
<circle cx="215.12" cy="421.62" r="1.6" fill="#1f5591"/>
<circle cx="211.41" cy="428.76" r="1.6" fill="#1f5591"/>
<circle cx="212.32" cy="421.78" r="1.6" fill="#1f5591"/>
<circle cx="214.01" cy="427.90" r="1.6" fill="#1f5591"/>
<circle cx="215.28" cy="424.05" r="1.6" fill="#1f5591"/>
<circle cx="212.94" cy="423.94" r="1.6" fill="#1f5591"/>
<circle cx="211.72" cy="424.19" r="1.6" fill="#1f5591"/>
<circle cx="211.15" cy="424.40" r="1.6" fill="#1f5591"/>
<circle cx="213.36" cy="418.05" r="1.6" fill="#1f5591"/>
<circle cx="211.53" cy="408.71" r="1.6" fill="#1f5591"/>
<circle cx="214.86" cy="424.89" r="1.6" fill="#1f5591"/>
<circle cx="215.03" cy="424.67" r="1.6" fill="#1f5591"/>
<circle cx="211.49" cy="429.37" r="1.6" fill="#1f5591"/>
<circle cx="212.00" cy="424.15" r="1.6" fill="#1f5591"/>
<circle cx="214.86" cy="424.66" r="1.6" fill="#1f5591"/>
<circle cx="213.97" cy="429.01" r="1.6" fill="#1f5591"/>
<circle cx="214.85" cy="446.50" r="1.6" fill="#1f5591"/>
<circle cx="212.36" cy="441.00" r="1.6" fill="#1f5591"/>
<circle cx="211.20" cy="401.00" r="1.6" fill="#1f5591"/>
<path d="M200,394.5V392.3H213.3V394.5" stroke="#333" stroke-width="0.7" fill="none"/>
<text x="206.65" y="390.30" font-size="7.41" text-anchor="middle" fill="#222" stroke="#222" stroke-width="0.2" textLength="16.0" lengthAdjust="spacingAndGlyphs">0.066</text>
<line x1="245.00" y1="388.50" x2="245.00" y2="490.60" stroke="#111" stroke-width="1.1"/>
<line x1="244.50" y1="490.00" x2="272.80" y2="490.00" stroke="#111" stroke-width="1.1"/>
<line x1="242.50" y1="414.50" x2="245.00" y2="414.50" stroke="#111" stroke-width="0.9"/>
<text x="241.00" y="417.30" font-size="9.12" text-anchor="end" fill="#222" stroke="#222" stroke-width="0.2" textLength="4.3" lengthAdjust="spacingAndGlyphs">5</text>
<line x1="242.50" y1="447.20" x2="245.00" y2="447.20" stroke="#111" stroke-width="0.9"/>
<text x="241.00" y="450.00" font-size="9.12" text-anchor="end" fill="#222" stroke="#222" stroke-width="0.2" textLength="4.3" lengthAdjust="spacingAndGlyphs">0</text>
<line x1="242.50" y1="480.00" x2="245.00" y2="480.00" stroke="#111" stroke-width="0.9"/>
<text x="241.00" y="482.80" font-size="9.12" text-anchor="end" fill="#222" stroke="#222" stroke-width="0.2" textLength="8.5" lengthAdjust="spacingAndGlyphs">−5</text>
<text x="232.60" y="440.80" font-size="9.8" text-anchor="middle" fill="#222" stroke="#222" stroke-width="0.2" textLength="12.5" lengthAdjust="spacingAndGlyphs" transform="rotate(-90 232.60 440.80)">PC2</text>
<line x1="252.00" y1="414.00" x2="252.00" y2="429.00" stroke="#555" stroke-width="0.8"/>
<line x1="252.00" y1="451.00" x2="252.00" y2="475.00" stroke="#555" stroke-width="0.8"/>
<rect x="246.60" y="429.00" width="10.80" height="22.00" fill="#e88f9b" stroke="#444" stroke-width="0.8"/>
<line x1="246.60" y1="440.70" x2="257.40" y2="440.70" stroke="#222" stroke-width="1.1"/>
<circle cx="252.79" cy="454.60" r="1.6" fill="#c8102e"/>
<circle cx="252.47" cy="434.50" r="1.6" fill="#c8102e"/>
<circle cx="251.25" cy="465.10" r="1.6" fill="#c8102e"/>
<circle cx="250.33" cy="439.28" r="1.6" fill="#c8102e"/>
<circle cx="251.08" cy="453.84" r="1.6" fill="#c8102e"/>
<circle cx="249.97" cy="428.30" r="1.6" fill="#c8102e"/>
<circle cx="252.30" cy="448.31" r="1.6" fill="#c8102e"/>
<circle cx="253.17" cy="458.02" r="1.6" fill="#c8102e"/>
<circle cx="251.35" cy="441.76" r="1.6" fill="#c8102e"/>
<circle cx="249.73" cy="442.13" r="1.6" fill="#c8102e"/>
<circle cx="250.26" cy="468.11" r="1.6" fill="#c8102e"/>
<circle cx="251.32" cy="430.91" r="1.6" fill="#c8102e"/>
<circle cx="252.56" cy="455.95" r="1.6" fill="#c8102e"/>
<circle cx="253.53" cy="439.77" r="1.6" fill="#c8102e"/>
<circle cx="251.35" cy="471.61" r="1.6" fill="#c8102e"/>
<circle cx="253.63" cy="431.09" r="1.6" fill="#c8102e"/>
<circle cx="252.66" cy="445.05" r="1.6" fill="#c8102e"/>
<circle cx="251.63" cy="463.88" r="1.6" fill="#c8102e"/>
<circle cx="251.31" cy="451.74" r="1.6" fill="#c8102e"/>
<circle cx="251.98" cy="423.28" r="1.6" fill="#c8102e"/>
<circle cx="253.10" cy="429.48" r="1.6" fill="#c8102e"/>
<circle cx="251.57" cy="439.62" r="1.6" fill="#c8102e"/>
<circle cx="253.05" cy="435.54" r="1.6" fill="#c8102e"/>
<circle cx="251.79" cy="449.48" r="1.6" fill="#c8102e"/>
<circle cx="250.62" cy="458.04" r="1.6" fill="#c8102e"/>
<circle cx="252.19" cy="448.77" r="1.6" fill="#c8102e"/>
<circle cx="253.05" cy="435.10" r="1.6" fill="#c8102e"/>
<circle cx="249.69" cy="465.92" r="1.6" fill="#c8102e"/>
<circle cx="251.59" cy="470.17" r="1.6" fill="#c8102e"/>
<circle cx="251.60" cy="449.49" r="1.6" fill="#c8102e"/>
<circle cx="254.05" cy="429.96" r="1.6" fill="#c8102e"/>
<circle cx="254.36" cy="464.98" r="1.6" fill="#c8102e"/>
<circle cx="251.32" cy="422.77" r="1.6" fill="#c8102e"/>
<circle cx="254.15" cy="438.98" r="1.6" fill="#c8102e"/>
<circle cx="253.57" cy="439.94" r="1.6" fill="#c8102e"/>
<circle cx="250.72" cy="440.75" r="1.6" fill="#c8102e"/>
<circle cx="251.81" cy="432.38" r="1.6" fill="#c8102e"/>
<circle cx="249.96" cy="434.61" r="1.6" fill="#c8102e"/>
<circle cx="253.69" cy="460.71" r="1.6" fill="#c8102e"/>
<circle cx="252.88" cy="426.66" r="1.6" fill="#c8102e"/>
<circle cx="254.09" cy="438.73" r="1.6" fill="#c8102e"/>
<circle cx="253.58" cy="458.93" r="1.6" fill="#c8102e"/>
<circle cx="252.90" cy="433.77" r="1.6" fill="#c8102e"/>
<circle cx="253.26" cy="435.18" r="1.6" fill="#c8102e"/>
<circle cx="252.34" cy="450.00" r="1.6" fill="#c8102e"/>
<circle cx="249.86" cy="451.33" r="1.6" fill="#c8102e"/>
<circle cx="252.47" cy="428.78" r="1.6" fill="#c8102e"/>
<circle cx="249.33" cy="443.64" r="1.6" fill="#c8102e"/>
<circle cx="250.07" cy="428.19" r="1.6" fill="#c8102e"/>
<circle cx="253.48" cy="446.65" r="1.6" fill="#c8102e"/>
<circle cx="249.54" cy="457.43" r="1.6" fill="#c8102e"/>
<circle cx="249.80" cy="444.51" r="1.6" fill="#c8102e"/>
<circle cx="249.84" cy="433.14" r="1.6" fill="#c8102e"/>
<circle cx="254.05" cy="449.21" r="1.6" fill="#c8102e"/>
<circle cx="250.27" cy="450.02" r="1.6" fill="#c8102e"/>
<circle cx="249.43" cy="416.44" r="1.6" fill="#c8102e"/>
<circle cx="253.84" cy="460.75" r="1.6" fill="#c8102e"/>
<circle cx="249.95" cy="441.93" r="1.6" fill="#c8102e"/>
<circle cx="253.86" cy="443.92" r="1.6" fill="#c8102e"/>
<circle cx="252.94" cy="437.58" r="1.6" fill="#c8102e"/>
<circle cx="253.82" cy="439.51" r="1.6" fill="#c8102e"/>
<circle cx="254.44" cy="452.01" r="1.6" fill="#c8102e"/>
<circle cx="252.43" cy="484.00" r="1.6" fill="#c8102e"/>
<line x1="265.85" y1="409.00" x2="265.85" y2="418.50" stroke="#555" stroke-width="0.8"/>
<line x1="265.85" y1="431.00" x2="265.85" y2="432.00" stroke="#555" stroke-width="0.8"/>
<rect x="259.70" y="418.50" width="12.30" height="12.50" fill="#a6dca0" stroke="#444" stroke-width="0.8"/>
<line x1="259.70" y1="424.30" x2="272.00" y2="424.30" stroke="#222" stroke-width="1.1"/>
<circle cx="267.46" cy="417.85" r="1.6" fill="#3cb944"/>
<circle cx="263.35" cy="422.94" r="1.6" fill="#3cb944"/>
<circle cx="267.29" cy="413.84" r="1.6" fill="#3cb944"/>
<circle cx="265.91" cy="425.75" r="1.6" fill="#3cb944"/>
<circle cx="267.01" cy="426.00" r="1.6" fill="#3cb944"/>
<circle cx="263.73" cy="424.02" r="1.6" fill="#3cb944"/>
<circle cx="267.19" cy="426.15" r="1.6" fill="#3cb944"/>
<circle cx="268.20" cy="426.20" r="1.6" fill="#3cb944"/>
<circle cx="263.48" cy="430.73" r="1.6" fill="#3cb944"/>
<circle cx="264.90" cy="425.54" r="1.6" fill="#3cb944"/>
<circle cx="266.20" cy="422.00" r="1.6" fill="#3cb944"/>
<circle cx="267.62" cy="418.81" r="1.6" fill="#3cb944"/>
<circle cx="264.46" cy="423.93" r="1.6" fill="#3cb944"/>
<circle cx="264.12" cy="421.81" r="1.6" fill="#3cb944"/>
<circle cx="264.50" cy="429.09" r="1.6" fill="#3cb944"/>
<circle cx="266.48" cy="455.00" r="1.6" fill="#3cb944"/>
<circle cx="267.22" cy="462.00" r="1.6" fill="#3cb944"/>
<circle cx="265.28" cy="449.00" r="1.6" fill="#3cb944"/>
<path d="M251.5,394.5V392.3H267.5V394.5" stroke="#333" stroke-width="0.7" fill="none"/>
<text x="259.50" y="390.30" font-size="7.41" text-anchor="middle" fill="#222" stroke="#222" stroke-width="0.2" textLength="22.400000000000002" lengthAdjust="spacingAndGlyphs">0.00089</text>
<line x1="303.80" y1="388.50" x2="303.80" y2="490.60" stroke="#111" stroke-width="1.1"/>
<line x1="303.30" y1="490.00" x2="330.00" y2="490.00" stroke="#111" stroke-width="1.1"/>
<line x1="301.30" y1="410.30" x2="303.80" y2="410.30" stroke="#111" stroke-width="0.9"/>
<text x="299.80" y="413.10" font-size="9.12" text-anchor="end" fill="#222" stroke="#222" stroke-width="0.2" textLength="10" lengthAdjust="spacingAndGlyphs">5.0</text>
<line x1="301.30" y1="432.20" x2="303.80" y2="432.20" stroke="#111" stroke-width="0.9"/>
<text x="299.80" y="435.00" font-size="9.12" text-anchor="end" fill="#222" stroke="#222" stroke-width="0.2" textLength="10" lengthAdjust="spacingAndGlyphs">2.5</text>
<line x1="301.30" y1="453.40" x2="303.80" y2="453.40" stroke="#111" stroke-width="0.9"/>
<text x="299.80" y="456.20" font-size="9.12" text-anchor="end" fill="#222" stroke="#222" stroke-width="0.2" textLength="10" lengthAdjust="spacingAndGlyphs">0.0</text>
<line x1="301.30" y1="474.00" x2="303.80" y2="474.00" stroke="#111" stroke-width="0.9"/>
<text x="299.80" y="476.80" font-size="9.12" text-anchor="end" fill="#222" stroke="#222" stroke-width="0.2" textLength="15" lengthAdjust="spacingAndGlyphs">−2.5</text>
<text x="283.20" y="439.00" font-size="9.8" text-anchor="middle" fill="#222" stroke="#222" stroke-width="0.2" textLength="12.5" lengthAdjust="spacingAndGlyphs" transform="rotate(-90 283.20 439.00)">PC3</text>
<line x1="309.55" y1="418.00" x2="309.55" y2="439.70" stroke="#555" stroke-width="0.8"/>
<line x1="309.55" y1="460.30" x2="309.55" y2="484.00" stroke="#555" stroke-width="0.8"/>
<rect x="305.50" y="439.70" width="8.10" height="20.60" fill="#e88f9b" stroke="#444" stroke-width="0.8"/>
<line x1="305.50" y1="451.00" x2="313.60" y2="451.00" stroke="#222" stroke-width="1.1"/>
<circle cx="308.43" cy="439.37" r="1.6" fill="#c8102e"/>
<circle cx="308.78" cy="461.69" r="1.6" fill="#c8102e"/>
<circle cx="309.98" cy="440.36" r="1.6" fill="#c8102e"/>
<circle cx="310.50" cy="463.21" r="1.6" fill="#c8102e"/>
<circle cx="306.89" cy="466.03" r="1.6" fill="#c8102e"/>
<circle cx="308.66" cy="459.25" r="1.6" fill="#c8102e"/>
<circle cx="309.21" cy="465.98" r="1.6" fill="#c8102e"/>
<circle cx="309.47" cy="447.27" r="1.6" fill="#c8102e"/>
<circle cx="307.98" cy="449.85" r="1.6" fill="#c8102e"/>
<circle cx="310.01" cy="440.70" r="1.6" fill="#c8102e"/>
<circle cx="312.01" cy="440.41" r="1.6" fill="#c8102e"/>
<circle cx="308.96" cy="425.40" r="1.6" fill="#c8102e"/>
<circle cx="309.79" cy="441.27" r="1.6" fill="#c8102e"/>
<circle cx="307.49" cy="433.17" r="1.6" fill="#c8102e"/>
<circle cx="308.33" cy="427.56" r="1.6" fill="#c8102e"/>
<circle cx="310.44" cy="452.30" r="1.6" fill="#c8102e"/>
<circle cx="307.46" cy="457.14" r="1.6" fill="#c8102e"/>
<circle cx="311.64" cy="444.63" r="1.6" fill="#c8102e"/>
<circle cx="311.76" cy="471.50" r="1.6" fill="#c8102e"/>
<circle cx="307.37" cy="464.78" r="1.6" fill="#c8102e"/>
<circle cx="311.93" cy="466.42" r="1.6" fill="#c8102e"/>
<circle cx="308.87" cy="440.51" r="1.6" fill="#c8102e"/>
<circle cx="311.02" cy="426.55" r="1.6" fill="#c8102e"/>
<circle cx="310.94" cy="458.77" r="1.6" fill="#c8102e"/>
<circle cx="308.45" cy="454.84" r="1.6" fill="#c8102e"/>
<circle cx="310.50" cy="461.41" r="1.6" fill="#c8102e"/>
<circle cx="310.38" cy="456.55" r="1.6" fill="#c8102e"/>
<circle cx="311.20" cy="469.80" r="1.6" fill="#c8102e"/>
<circle cx="308.28" cy="445.47" r="1.6" fill="#c8102e"/>
<circle cx="310.92" cy="460.49" r="1.6" fill="#c8102e"/>
<circle cx="312.04" cy="435.93" r="1.6" fill="#c8102e"/>
<circle cx="310.48" cy="443.02" r="1.6" fill="#c8102e"/>
<circle cx="309.75" cy="473.55" r="1.6" fill="#c8102e"/>
<circle cx="307.46" cy="423.66" r="1.6" fill="#c8102e"/>
<circle cx="309.52" cy="465.98" r="1.6" fill="#c8102e"/>
<circle cx="308.75" cy="439.32" r="1.6" fill="#c8102e"/>
<circle cx="310.73" cy="443.72" r="1.6" fill="#c8102e"/>
<circle cx="310.51" cy="450.69" r="1.6" fill="#c8102e"/>
<circle cx="309.91" cy="453.33" r="1.6" fill="#c8102e"/>
<circle cx="307.83" cy="434.69" r="1.6" fill="#c8102e"/>
<circle cx="310.34" cy="451.98" r="1.6" fill="#c8102e"/>
<circle cx="310.26" cy="456.97" r="1.6" fill="#c8102e"/>
<circle cx="307.82" cy="463.12" r="1.6" fill="#c8102e"/>
<circle cx="311.66" cy="438.14" r="1.6" fill="#c8102e"/>
<circle cx="310.39" cy="474.38" r="1.6" fill="#c8102e"/>
<circle cx="307.51" cy="479.97" r="1.6" fill="#c8102e"/>
<circle cx="311.88" cy="428.93" r="1.6" fill="#c8102e"/>
<circle cx="307.61" cy="452.72" r="1.6" fill="#c8102e"/>
<circle cx="308.64" cy="420.79" r="1.6" fill="#c8102e"/>
<circle cx="310.74" cy="455.94" r="1.6" fill="#c8102e"/>
<circle cx="310.08" cy="458.72" r="1.6" fill="#c8102e"/>
<circle cx="309.85" cy="431.94" r="1.6" fill="#c8102e"/>
<circle cx="310.35" cy="425.07" r="1.6" fill="#c8102e"/>
<circle cx="309.32" cy="452.94" r="1.6" fill="#c8102e"/>
<circle cx="308.54" cy="459.87" r="1.6" fill="#c8102e"/>
<circle cx="307.80" cy="437.55" r="1.6" fill="#c8102e"/>
<circle cx="307.22" cy="445.89" r="1.6" fill="#c8102e"/>
<circle cx="310.72" cy="438.89" r="1.6" fill="#c8102e"/>
<circle cx="310.92" cy="452.31" r="1.6" fill="#c8102e"/>
<circle cx="309.78" cy="452.39" r="1.6" fill="#c8102e"/>
<circle cx="310.84" cy="474.88" r="1.6" fill="#c8102e"/>
<circle cx="308.79" cy="432.07" r="1.6" fill="#c8102e"/>
<circle cx="308.29" cy="397.00" r="1.6" fill="#c8102e"/>
<circle cx="308.92" cy="402.00" r="1.6" fill="#c8102e"/>
<line x1="321.85" y1="445.00" x2="321.85" y2="456.00" stroke="#555" stroke-width="0.8"/>
<line x1="321.85" y1="474.00" x2="321.85" y2="483.00" stroke="#555" stroke-width="0.8"/>
<rect x="317.00" y="456.00" width="9.70" height="18.00" fill="#b7a1cc" stroke="#444" stroke-width="0.8"/>
<line x1="317.00" y1="468.50" x2="326.70" y2="468.50" stroke="#222" stroke-width="1.1"/>
<circle cx="323.86" cy="449.77" r="1.6" fill="#5b2c83"/>
<circle cx="319.38" cy="471.66" r="1.6" fill="#5b2c83"/>
<circle cx="321.88" cy="463.21" r="1.6" fill="#5b2c83"/>
<circle cx="320.48" cy="470.32" r="1.6" fill="#5b2c83"/>
<circle cx="323.30" cy="473.82" r="1.6" fill="#5b2c83"/>
<circle cx="321.06" cy="472.86" r="1.6" fill="#5b2c83"/>
<circle cx="320.95" cy="479.67" r="1.6" fill="#5b2c83"/>
<circle cx="321.33" cy="478.95" r="1.6" fill="#5b2c83"/>
<circle cx="322.07" cy="454.52" r="1.6" fill="#5b2c83"/>
<circle cx="323.32" cy="467.49" r="1.6" fill="#5b2c83"/>
<circle cx="321.06" cy="464.70" r="1.6" fill="#5b2c83"/>
<circle cx="323.72" cy="475.83" r="1.6" fill="#5b2c83"/>
<circle cx="319.76" cy="467.55" r="1.6" fill="#5b2c83"/>
<circle cx="320.61" cy="464.60" r="1.6" fill="#5b2c83"/>
<circle cx="319.69" cy="480.81" r="1.6" fill="#5b2c83"/>
<circle cx="319.76" cy="476.43" r="1.6" fill="#5b2c83"/>
<circle cx="323.36" cy="445.00" r="1.6" fill="#5b2c83"/>
<path d="M309.5,394.5V392.3H322V394.5" stroke="#333" stroke-width="0.7" fill="none"/>
<text x="315.75" y="390.30" font-size="7.41" text-anchor="middle" fill="#222" stroke="#222" stroke-width="0.2" textLength="22.400000000000002" lengthAdjust="spacingAndGlyphs">0.00069</text>
<text x="194.40" y="498.80" font-size="9.69" fill="#222" stroke="#222" stroke-width="0.2" textLength="21" lengthAdjust="spacingAndGlyphs" transform="rotate(45 194.40 498.80)">Cured</text>
<text x="207.90" y="498.80" font-size="9.69" fill="#222" stroke="#222" stroke-width="0.2" textLength="27" lengthAdjust="spacingAndGlyphs" transform="rotate(45 207.90 498.80)">Relapse</text>
<text x="246.40" y="498.80" font-size="9.69" fill="#222" stroke="#222" stroke-width="0.2" textLength="21" lengthAdjust="spacingAndGlyphs" transform="rotate(45 246.40 498.80)">Cured</text>
<text x="260.40" y="498.80" font-size="9.69" fill="#222" stroke="#222" stroke-width="0.2" textLength="27" lengthAdjust="spacingAndGlyphs" transform="rotate(45 260.40 498.80)">Relapse</text>
<text x="303.40" y="498.80" font-size="9.69" fill="#222" stroke="#222" stroke-width="0.2" textLength="21" lengthAdjust="spacingAndGlyphs" transform="rotate(45 303.40 498.80)">Cured</text>
<text x="316.90" y="498.80" font-size="9.69" fill="#222" stroke="#222" stroke-width="0.2" textLength="27" lengthAdjust="spacingAndGlyphs" transform="rotate(45 316.90 498.80)">Relapse</text>
<text x="342.80" y="359.20" font-size="12" font-weight="bold" fill="#000">E</text>
<line x1="364.00" y1="372.00" x2="364.00" y2="497.00" stroke="#111" stroke-width="1.1"/>
<line x1="363.50" y1="496.40" x2="509.00" y2="496.40" stroke="#111" stroke-width="1.1"/>
<line x1="364.00" y1="421.50" x2="509.00" y2="421.50" stroke="#9a9a9a" stroke-width="1.5"/>
<line x1="364.00" y1="467.40" x2="509.00" y2="467.40" stroke="#111" stroke-width="1.3"/>
<line x1="361.50" y1="375.60" x2="364.00" y2="375.60" stroke="#111" stroke-width="0.9"/>
<text x="359.50" y="378.40" font-size="9.12" text-anchor="end" fill="#222" stroke="#222" stroke-width="0.2" textLength="4" lengthAdjust="spacingAndGlyphs">1</text>
<line x1="361.50" y1="421.50" x2="364.00" y2="421.50" stroke="#111" stroke-width="0.9"/>
<text x="359.50" y="424.30" font-size="9.12" text-anchor="end" fill="#222" stroke="#222" stroke-width="0.2" textLength="4.3" lengthAdjust="spacingAndGlyphs">0</text>
<line x1="361.50" y1="467.40" x2="364.00" y2="467.40" stroke="#111" stroke-width="0.9"/>
<text x="359.50" y="470.20" font-size="9.12" text-anchor="end" fill="#222" stroke="#222" stroke-width="0.2" textLength="8.5" lengthAdjust="spacingAndGlyphs">−1</text>
<line x1="371.30" y1="496.40" x2="371.30" y2="499.00" stroke="#111" stroke-width="0.9"/>
<text x="371.30" y="508.80" font-size="7.98" text-anchor="middle" fill="#222" stroke="#222" stroke-width="0.2" textLength="3.6" lengthAdjust="spacingAndGlyphs">0</text>
<line x1="402.96" y1="496.40" x2="402.96" y2="499.00" stroke="#111" stroke-width="0.9"/>
<text x="402.96" y="508.80" font-size="7.98" text-anchor="middle" fill="#222" stroke="#222" stroke-width="0.2" textLength="5.8" lengthAdjust="spacingAndGlyphs">95</text>
<line x1="412.96" y1="496.40" x2="412.96" y2="499.00" stroke="#111" stroke-width="0.9"/>
<text x="412.96" y="508.80" font-size="7.98" text-anchor="middle" fill="#222" stroke="#222" stroke-width="0.2" textLength="8.4" lengthAdjust="spacingAndGlyphs">125</text>
<line x1="422.96" y1="496.40" x2="422.96" y2="499.00" stroke="#111" stroke-width="0.9"/>
<text x="422.96" y="508.80" font-size="7.98" text-anchor="middle" fill="#222" stroke="#222" stroke-width="0.2" textLength="8.4" lengthAdjust="spacingAndGlyphs">155</text>
<line x1="432.96" y1="496.40" x2="432.96" y2="499.00" stroke="#111" stroke-width="0.9"/>
<text x="432.96" y="508.80" font-size="7.98" text-anchor="middle" fill="#222" stroke="#222" stroke-width="0.2" textLength="8.4" lengthAdjust="spacingAndGlyphs">185</text>
<line x1="449.63" y1="496.40" x2="449.63" y2="499.00" stroke="#111" stroke-width="0.9"/>
<text x="449.63" y="508.80" font-size="7.98" text-anchor="middle" fill="#222" stroke="#222" stroke-width="0.2" textLength="8.4" lengthAdjust="spacingAndGlyphs">235</text>
<line x1="464.62" y1="496.40" x2="464.62" y2="499.00" stroke="#111" stroke-width="0.9"/>
<text x="464.62" y="508.80" font-size="7.98" text-anchor="middle" fill="#222" stroke="#222" stroke-width="0.2" textLength="8.4" lengthAdjust="spacingAndGlyphs">280</text>
<line x1="476.96" y1="496.40" x2="476.96" y2="499.00" stroke="#111" stroke-width="0.9"/>
<text x="476.96" y="508.80" font-size="7.98" text-anchor="middle" fill="#222" stroke="#222" stroke-width="0.2" textLength="8.4" lengthAdjust="spacingAndGlyphs">317</text>
<line x1="504.62" y1="496.40" x2="504.62" y2="499.00" stroke="#111" stroke-width="0.9"/>
<text x="504.62" y="508.80" font-size="7.98" text-anchor="middle" fill="#222" stroke="#222" stroke-width="0.2" textLength="8.4" lengthAdjust="spacingAndGlyphs">400</text>
<text x="438.70" y="521.00" font-size="9.69" text-anchor="middle" fill="#222" stroke="#222" stroke-width="0.2" textLength="45.6" lengthAdjust="spacingAndGlyphs">Fragment size</text>
<text x="349.50" y="434.80" font-size="9.69" text-anchor="middle" fill="#222" stroke="#222" stroke-width="0.2" textLength="37" lengthAdjust="spacingAndGlyphs" transform="rotate(-90 349.50 434.80)">Correlation</text>
<polyline points="372.69,419.23 374.23,418.46 375.77,420.77 377.31,416.15 378.85,420.77 379.62,415.38 381.15,419.23 382.69,417.69 384.23,420.77 385.77,419.23 388.08,414.62 388.85,412.31 389.62,416.15 391.15,413.85 392.69,411.54 394.23,414.62 395.77,410.31 397.31,411.54 398.85,408.46 400.38,411.54 401.92,407.69 403.46,398.46 404.23,390.77 405.77,391.54 407.31,390.77 408.85,392.31 410.38,392.77 411.92,394.62 414.23,398.46 416.54,403.08 418.85,408.46 420.38,414.62 421.92,420.77 423.46,430.00 425.00,439.23 426.54,445.38 428.08,440.77 429.62,431.54 431.15,422.31 432.69,417.69 435.00,415.38 437.31,414.62 440.38,415.08 443.46,416.15 446.92,417.46 450.57,422.21 454.22,427.69 457.88,434.26 461.53,438.65 465.18,442.30 468.84,444.86 471.03,445.22 473.22,441.57 475.41,434.26 477.61,426.96 479.80,421.11 483.45,416.73 487.84,414.53 492.59,413.07 498.07,413.07 501.72,413.80 504.64,414.90" fill="none" stroke="#f5a21b" stroke-width="1.3" stroke-linejoin="round"/>
<polyline points="372.69,429.23 373.46,423.08 374.54,426.92 375.77,425.38 377.31,428.46 378.85,430.00 380.38,433.08 381.92,426.92 383.46,429.23 385.00,428.46 386.54,429.23 388.08,428.46 389.62,430.00 391.15,433.85 392.69,431.54 394.23,432.31 395.77,430.77 397.31,429.23 398.08,434.62 399.62,436.92 401.15,436.15 402.69,435.38 404.23,437.69 405.77,441.54 407.31,443.08 408.85,444.62 410.38,445.38 411.92,445.38 413.46,447.69 414.23,448.46 415.77,445.38 417.31,442.31 418.85,439.23 420.38,434.62 421.92,420.77 423.46,406.92 425.00,396.15 426.54,388.46 428.08,383.08 428.85,382.31 429.92,385.38 431.15,391.54 432.69,397.69 434.23,401.54 435.77,403.85 438.08,408.46 440.38,413.08 442.69,417.69 445.00,426.92 446.92,424.76 449.84,435.73 452.76,449.61 455.32,458.74 457.88,463.13 460.07,464.95 462.99,463.49 465.92,461.67 468.84,459.47 471.03,456.19 473.22,448.88 475.41,438.65 477.61,431.34 480.53,425.86 484.18,422.57 487.84,420.75 491.49,420.38 495.14,421.11 498.07,423.30 501.72,426.23 504.64,429.51" fill="none" stroke="#1f5591" stroke-width="1.3" stroke-linejoin="round"/>
<polyline points="372.69,430.00 373.92,423.85 375.00,430.77 376.54,425.38 378.08,428.46 379.62,430.77 381.15,426.92 382.69,424.62 384.23,426.92 385.77,428.46 387.31,429.23 388.85,420.77 390.38,423.85 391.92,428.46 393.46,424.62 395.00,420.77 396.54,423.08 398.08,416.92 399.62,417.69 401.15,413.85 402.69,416.15 404.23,402.31 405.77,400.77 408.08,399.23 410.38,397.69 412.69,396.15 415.00,393.85 417.31,388.46 419.62,383.08 421.15,379.23 422.23,378.46 423.46,380.77 425.00,388.46 426.54,400.77 428.08,416.15 429.62,431.54 431.15,445.38 432.69,454.62 435.00,459.23 437.31,461.54 440.38,463.08 443.46,463.85 444.36,462.76 446.92,461.67 449.11,457.65 451.30,449.61 453.49,437.92 455.69,430.61 458.61,425.86 461.53,423.30 465.18,422.21 468.11,423.30 470.66,426.96 472.49,434.99 474.68,446.69 476.88,455.09 479.80,459.84 485.28,462.03 492.59,462.76 499.89,462.76 504.64,462.03" fill="none" stroke="#c8102e" stroke-width="1.3" stroke-linejoin="round"/>
<rect x="413.30" y="471.00" width="12.40" height="2.60" fill="#c8102e"/>
<rect x="433.00" y="471.00" width="16.50" height="2.60" fill="#c8102e"/>
<rect x="477.20" y="471.00" width="27.10" height="2.60" fill="#c8102e"/>
<rect x="407.80" y="480.10" width="9.90" height="2.60" fill="#1f5591"/>
<rect x="426.80" y="480.10" width="5.50" height="2.60" fill="#1f5591"/>
<rect x="449.80" y="480.10" width="22.70" height="2.60" fill="#1f5591"/>
<rect x="403.00" y="489.20" width="9.20" height="2.60" fill="#f5a21b"/>
<rect x="423.20" y="489.20" width="5.40" height="2.60" fill="#f5a21b"/>
<rect x="464.50" y="489.20" width="12.40" height="2.60" fill="#f5a21b"/>
<text x="486.50" y="385.80" font-size="9.12" text-anchor="end" fill="#222" stroke="#222" stroke-width="0.2" textLength="13.5" lengthAdjust="spacingAndGlyphs">PC1</text>
<line x1="489.00" y1="383.00" x2="497.30" y2="383.00" stroke="#c8102e" stroke-width="1.4"/>
<text x="486.50" y="395.80" font-size="9.12" text-anchor="end" fill="#222" stroke="#222" stroke-width="0.2" textLength="13.5" lengthAdjust="spacingAndGlyphs">PC2</text>
<line x1="489.00" y1="393.00" x2="497.30" y2="393.00" stroke="#1f5591" stroke-width="1.4"/>
<text x="486.50" y="404.80" font-size="9.12" text-anchor="end" fill="#222" stroke="#222" stroke-width="0.2" textLength="13.5" lengthAdjust="spacingAndGlyphs">PC3</text>
<line x1="489.00" y1="402.00" x2="497.30" y2="402.00" stroke="#f5a21b" stroke-width="1.4"/>
<text x="7.00" y="570.20" font-size="12" font-weight="bold" fill="#000">F</text>
<path d="M72.57,609.50V606.57H75.11V609.50" stroke="#222" stroke-width="0.75" fill="none"/>
<path d="M77.65,609.50V606.57H80.20V609.50" stroke="#222" stroke-width="0.75" fill="none"/>
<path d="M73.84,606.57V601.77H78.92V606.57" stroke="#222" stroke-width="0.75" fill="none"/>
<path d="M82.74,609.50V606.57H85.28V609.50" stroke="#222" stroke-width="0.75" fill="none"/>
<path d="M84.01,606.57V603.92H87.82V609.50" stroke="#222" stroke-width="0.75" fill="none"/>
<path d="M90.36,609.50V606.57H92.90V609.50" stroke="#222" stroke-width="0.75" fill="none"/>
<path d="M91.63,606.57V603.92H95.45V609.50" stroke="#222" stroke-width="0.75" fill="none"/>
<path d="M97.99,609.50V606.57H100.53V609.50" stroke="#222" stroke-width="0.75" fill="none"/>
<path d="M93.54,603.92V599.97H99.26V606.57" stroke="#222" stroke-width="0.75" fill="none"/>
<path d="M85.91,603.92V595.86H96.40V599.97" stroke="#222" stroke-width="0.75" fill="none"/>
<path d="M76.38,601.77V592.00H91.16V595.86" stroke="#222" stroke-width="0.75" fill="none"/>
<path d="M106.68,609.50V608.29H109.24V609.50" stroke="#222" stroke-width="0.75" fill="none"/>
<path d="M111.80,609.50V608.29H114.36V609.50" stroke="#222" stroke-width="0.75" fill="none"/>
<path d="M119.48,609.50V608.29H122.04V609.50" stroke="#222" stroke-width="0.75" fill="none"/>
<path d="M120.76,608.29V606.98H124.60V609.50" stroke="#222" stroke-width="0.75" fill="none"/>
<path d="M122.68,606.98V605.84H127.16V609.50" stroke="#222" stroke-width="0.75" fill="none"/>
<path d="M116.92,609.50V604.86H124.92V605.84" stroke="#222" stroke-width="0.75" fill="none"/>
<path d="M113.08,608.29V603.21H120.92V604.86" stroke="#222" stroke-width="0.75" fill="none"/>
<path d="M107.96,608.29V601.86H117.00V603.21" stroke="#222" stroke-width="0.75" fill="none"/>
<path d="M132.28,609.50V608.29H134.84V609.50" stroke="#222" stroke-width="0.75" fill="none"/>
<path d="M137.40,609.50V608.29H139.96V609.50" stroke="#222" stroke-width="0.75" fill="none"/>
<path d="M133.56,608.29V605.84H138.68V608.29" stroke="#222" stroke-width="0.75" fill="none"/>
<path d="M129.72,609.50V604.86H136.12V605.84" stroke="#222" stroke-width="0.75" fill="none"/>
<path d="M142.52,609.50V608.29H145.08V609.50" stroke="#222" stroke-width="0.75" fill="none"/>
<path d="M143.80,608.29V606.98H147.64V609.50" stroke="#222" stroke-width="0.75" fill="none"/>
<path d="M132.92,604.86V602.51H145.72V606.98" stroke="#222" stroke-width="0.75" fill="none"/>
<path d="M112.48,601.86V598.03H139.32V602.51" stroke="#222" stroke-width="0.75" fill="none"/>
<path d="M155.32,609.50V608.29H157.88V609.50" stroke="#222" stroke-width="0.75" fill="none"/>
<path d="M152.76,609.50V606.98H156.60V608.29" stroke="#222" stroke-width="0.75" fill="none"/>
<path d="M154.68,606.98V605.84H160.44V609.50" stroke="#222" stroke-width="0.75" fill="none"/>
<path d="M150.20,609.50V604.86H157.56V605.84" stroke="#222" stroke-width="0.75" fill="none"/>
<path d="M163.00,609.50V608.29H165.56V609.50" stroke="#222" stroke-width="0.75" fill="none"/>
<path d="M153.88,604.86V603.21H164.28V608.29" stroke="#222" stroke-width="0.75" fill="none"/>
<path d="M168.12,609.50V608.29H170.68V609.50" stroke="#222" stroke-width="0.75" fill="none"/>
<path d="M175.80,609.50V608.29H178.36V609.50" stroke="#222" stroke-width="0.75" fill="none"/>
<path d="M177.08,608.29V606.98H180.92V609.50" stroke="#222" stroke-width="0.75" fill="none"/>
<path d="M173.24,609.50V605.84H179.00V606.98" stroke="#222" stroke-width="0.75" fill="none"/>
<path d="M183.48,609.50V608.29H186.04V609.50" stroke="#222" stroke-width="0.75" fill="none"/>
<path d="M176.12,605.84V603.99H184.76V608.29" stroke="#222" stroke-width="0.75" fill="none"/>
<path d="M169.40,608.29V602.51H180.44V603.99" stroke="#222" stroke-width="0.75" fill="none"/>
<path d="M188.60,609.50V608.29H191.16V609.50" stroke="#222" stroke-width="0.75" fill="none"/>
<path d="M189.88,608.29V606.98H193.72V609.50" stroke="#222" stroke-width="0.75" fill="none"/>
<path d="M191.80,606.98V605.84H196.28V609.50" stroke="#222" stroke-width="0.75" fill="none"/>
<path d="M198.84,609.50V608.29H201.40V609.50" stroke="#222" stroke-width="0.75" fill="none"/>
<path d="M194.04,605.84V603.99H200.12V608.29" stroke="#222" stroke-width="0.75" fill="none"/>
<path d="M203.96,609.50V608.29H206.52V609.50" stroke="#222" stroke-width="0.75" fill="none"/>
<path d="M197.08,603.99V602.51H205.24V608.29" stroke="#222" stroke-width="0.75" fill="none"/>
<path d="M174.92,602.51V598.42H201.16V602.51" stroke="#222" stroke-width="0.75" fill="none"/>
<path d="M159.08,603.21V596.01H188.04V598.42" stroke="#222" stroke-width="0.75" fill="none"/>
<path d="M125.90,598.03V592.00H173.56V596.01" stroke="#222" stroke-width="0.75" fill="none"/>
<rect x="71.30" y="611.50" width="30.50" height="9.20" fill="#000"/>
<rect x="105.40" y="611.50" width="102.40" height="9.20" fill="#dcdcdc"/>
<rect x="71.30" y="622.00" width="2.27" height="16.00" fill="#fec778"/>
<rect x="73.52" y="622.00" width="4.21" height="16.00" fill="#be1826"/>
<rect x="77.68" y="622.00" width="1.99" height="16.00" fill="#e64f35"/>
<rect x="79.62" y="622.00" width="2.82" height="16.00" fill="#feefa7"/>
<rect x="82.39" y="622.00" width="3.65" height="16.00" fill="#fed687"/>
<rect x="86.00" y="622.00" width="2.82" height="16.00" fill="#d5eef5"/>
<rect x="88.77" y="622.00" width="1.99" height="16.00" fill="#4e80ba"/>
<rect x="90.71" y="622.00" width="2.27" height="16.00" fill="#c6e6f0"/>
<rect x="92.93" y="622.00" width="2.82" height="16.00" fill="#f0f9dc"/>
<rect x="95.70" y="622.00" width="2.82" height="16.00" fill="#4e80ba"/>
<rect x="98.47" y="622.00" width="2.27" height="16.00" fill="#37499e"/>
<rect x="100.69" y="622.00" width="1.16" height="16.00" fill="#abd9e9"/>
<rect x="71.30" y="638.00" width="2.27" height="15.90" fill="#fee699"/>
<rect x="73.52" y="638.00" width="2.82" height="15.90" fill="#fdae61"/>
<rect x="76.29" y="638.00" width="2.82" height="15.90" fill="#f46d43"/>
<rect x="79.06" y="638.00" width="3.38" height="15.90" fill="#feefa7"/>
<rect x="82.39" y="638.00" width="3.65" height="15.90" fill="#f67a49"/>
<rect x="86.00" y="638.00" width="2.82" height="15.90" fill="#af0a26"/>
<rect x="88.77" y="638.00" width="2.82" height="15.90" fill="#feefa7"/>
<rect x="91.54" y="638.00" width="2.82" height="15.90" fill="#b6deec"/>
<rect x="94.31" y="638.00" width="1.44" height="15.90" fill="#4e80ba"/>
<rect x="95.70" y="638.00" width="2.27" height="15.90" fill="#e6f5ed"/>
<rect x="97.92" y="638.00" width="2.82" height="15.90" fill="#4e80ba"/>
<rect x="100.69" y="638.00" width="1.16" height="15.90" fill="#90c3dd"/>
<rect x="105.40" y="622.00" width="1.45" height="16.00" fill="#be1826"/>
<rect x="106.80" y="622.00" width="2.84" height="16.00" fill="#feefa7"/>
<rect x="109.59" y="622.00" width="5.63" height="16.00" fill="#abd9e9"/>
<rect x="115.17" y="622.00" width="2.28" height="16.00" fill="#e6f5ed"/>
<rect x="117.40" y="622.00" width="2.00" height="16.00" fill="#35439b"/>
<rect x="119.35" y="622.00" width="4.24" height="16.00" fill="#4e80ba"/>
<rect x="123.54" y="622.00" width="11.21" height="16.00" fill="#588bc0"/>
<rect x="134.70" y="622.00" width="4.24" height="16.00" fill="#fee090"/>
<rect x="138.88" y="622.00" width="2.84" height="16.00" fill="#f0f9dc"/>
<rect x="141.67" y="622.00" width="7.03" height="16.00" fill="#74add1"/>
<rect x="148.65" y="622.00" width="9.82" height="16.00" fill="#abd9e9"/>
<rect x="158.41" y="622.00" width="18.19" height="16.00" fill="#4e80ba"/>
<rect x="176.55" y="622.00" width="31.30" height="16.00" fill="#37499e"/>
<rect x="105.40" y="638.00" width="1.45" height="15.90" fill="#feefa7"/>
<rect x="106.80" y="638.00" width="8.42" height="15.90" fill="#f9fdca"/>
<rect x="115.17" y="638.00" width="2.28" height="15.90" fill="#dd3c2d"/>
<rect x="117.40" y="638.00" width="3.40" height="15.90" fill="#feefa7"/>
<rect x="120.75" y="638.00" width="12.61" height="15.90" fill="#bbe1ee"/>
<rect x="133.30" y="638.00" width="2.84" height="15.90" fill="#4575b4"/>
<rect x="136.09" y="638.00" width="2.84" height="15.90" fill="#333c98"/>
<rect x="138.88" y="638.00" width="7.03" height="15.90" fill="#d5eef5"/>
<rect x="145.86" y="638.00" width="2.84" height="15.90" fill="#4575b4"/>
<rect x="148.65" y="638.00" width="9.82" height="15.90" fill="#3d5ca8"/>
<rect x="158.41" y="638.00" width="18.19" height="15.90" fill="#384ca0"/>
<rect x="176.55" y="638.00" width="31.30" height="15.90" fill="#333e99"/>
<text x="69.00" y="619.00" font-size="8.89" text-anchor="end" fill="#222" stroke="#222" stroke-width="0.2" textLength="26" lengthAdjust="spacingAndGlyphs">Relapse</text>
<text x="69.00" y="628.90" font-size="8.89" text-anchor="end" fill="#222" stroke="#222" stroke-width="0.2" textLength="31" lengthAdjust="spacingAndGlyphs">MRD test</text>
<text x="69.00" y="645.80" font-size="8.89" text-anchor="end" fill="#222" stroke="#222" stroke-width="0.2" textLength="47" lengthAdjust="spacingAndGlyphs">Random forest</text>
<text x="69.00" y="654.30" font-size="8.89" text-anchor="end" fill="#222" stroke="#222" stroke-width="0.2" textLength="60" lengthAdjust="spacingAndGlyphs">Relapse likelyhood</text>
<text x="69.00" y="663.50" font-size="8.89" text-anchor="end" fill="#222" stroke="#222" stroke-width="0.2" textLength="28" lengthAdjust="spacingAndGlyphs">estimate</text>
<text x="69" y="636.6" font-size="8.8" text-anchor="end" fill="#222" stroke="#222" stroke-width="0.2" textLength="53" lengthAdjust="spacingAndGlyphs">−log10(<tspan font-style="italic">P</tspan> value)</text>
<text x="163.50" y="662.50" font-size="8.89" text-anchor="middle" fill="#222" stroke="#222" stroke-width="0.2" textLength="14" lengthAdjust="spacingAndGlyphs">Low</text>
<text x="199.30" y="662.50" font-size="8.89" text-anchor="middle" fill="#222" stroke="#222" stroke-width="0.2" textLength="15.5" lengthAdjust="spacingAndGlyphs">High</text>
<text x="132.00" y="671.20" font-size="8.89" text-anchor="middle" fill="#222" stroke="#222" stroke-width="0.2" textLength="52.7" lengthAdjust="spacingAndGlyphs">Predicts relapse</text>
<defs><linearGradient id="g103" x1="0" y1="0" x2="1" y2="0"><stop offset="0.000" stop-color="#313695"/><stop offset="0.100" stop-color="#4575b4"/><stop offset="0.200" stop-color="#74add1"/><stop offset="0.300" stop-color="#abd9e9"/><stop offset="0.400" stop-color="#e0f3f8"/><stop offset="0.500" stop-color="#ffffbf"/><stop offset="0.600" stop-color="#fee090"/><stop offset="0.700" stop-color="#fdae61"/><stop offset="0.800" stop-color="#f46d43"/><stop offset="0.900" stop-color="#d73027"/><stop offset="1.000" stop-color="#a50026"/></linearGradient></defs>
<rect x="161.40" y="665.60" width="37.60" height="5.90" fill="url(#g103)"/>
<text x="215.80" y="570.70" font-size="12" font-weight="bold" fill="#000">G</text>
<line x1="246.30" y1="581.10" x2="249.00" y2="581.10" stroke="#111" stroke-width="0.9"/>
<text x="243.40" y="584.00" font-size="9.12" text-anchor="end" fill="#222" stroke="#222" stroke-width="0.2" textLength="15.5" lengthAdjust="spacingAndGlyphs">1.00</text>
<line x1="246.30" y1="604.48" x2="249.00" y2="604.48" stroke="#111" stroke-width="0.9"/>
<text x="243.40" y="607.38" font-size="9.12" text-anchor="end" fill="#222" stroke="#222" stroke-width="0.2" textLength="15.5" lengthAdjust="spacingAndGlyphs">0.75</text>
<line x1="246.30" y1="627.85" x2="249.00" y2="627.85" stroke="#111" stroke-width="0.9"/>
<text x="243.40" y="630.75" font-size="9.12" text-anchor="end" fill="#222" stroke="#222" stroke-width="0.2" textLength="15.5" lengthAdjust="spacingAndGlyphs">0.50</text>
<line x1="246.30" y1="651.23" x2="249.00" y2="651.23" stroke="#111" stroke-width="0.9"/>
<text x="243.40" y="654.12" font-size="9.12" text-anchor="end" fill="#222" stroke="#222" stroke-width="0.2" textLength="15.5" lengthAdjust="spacingAndGlyphs">0.25</text>
<line x1="246.30" y1="674.60" x2="249.00" y2="674.60" stroke="#111" stroke-width="0.9"/>
<text x="243.40" y="677.50" font-size="9.12" text-anchor="end" fill="#222" stroke="#222" stroke-width="0.2" textLength="15.5" lengthAdjust="spacingAndGlyphs">0.00</text>
<line x1="253.50" y1="679.30" x2="253.50" y2="681.80" stroke="#111" stroke-width="0.9"/>
<text x="253.50" y="691.00" font-size="7.98" text-anchor="middle" fill="#333" stroke="#333" stroke-width="0.2" textLength="12.8" lengthAdjust="spacingAndGlyphs">0.00</text>
<line x1="277.02" y1="679.30" x2="277.02" y2="681.80" stroke="#111" stroke-width="0.9"/>
<text x="277.02" y="691.00" font-size="7.98" text-anchor="middle" fill="#333" stroke="#333" stroke-width="0.2" textLength="12.8" lengthAdjust="spacingAndGlyphs">0.25</text>
<line x1="300.55" y1="679.30" x2="300.55" y2="681.80" stroke="#111" stroke-width="0.9"/>
<text x="300.55" y="691.00" font-size="7.98" text-anchor="middle" fill="#333" stroke="#333" stroke-width="0.2" textLength="12.8" lengthAdjust="spacingAndGlyphs">0.50</text>
<line x1="324.07" y1="679.30" x2="324.07" y2="681.80" stroke="#111" stroke-width="0.9"/>
<text x="324.07" y="691.00" font-size="7.98" text-anchor="middle" fill="#333" stroke="#333" stroke-width="0.2" textLength="12.8" lengthAdjust="spacingAndGlyphs">0.75</text>
<line x1="347.60" y1="679.30" x2="347.60" y2="681.80" stroke="#111" stroke-width="0.9"/>
<text x="347.60" y="691.00" font-size="7.98" text-anchor="middle" fill="#333" stroke="#333" stroke-width="0.2" textLength="12.8" lengthAdjust="spacingAndGlyphs">1.00</text>
<text x="300.60" y="701.50" font-size="9.69" text-anchor="middle" fill="#222" stroke="#222" stroke-width="0.2" textLength="43" lengthAdjust="spacingAndGlyphs">1−specificity</text>
<text x="224.50" y="627.50" font-size="9.69" text-anchor="middle" fill="#222" stroke="#222" stroke-width="0.2" textLength="36" lengthAdjust="spacingAndGlyphs" transform="rotate(-90 224.50 627.50)">Sensitivity</text>
<line x1="253.50" y1="674.60" x2="347.60" y2="581.10" stroke="#c8c8c8" stroke-width="0.7"/>
<polyline points="253.46,673.54 254.52,671.43 255.15,660.85 256.64,652.39 258.12,639.70 259.81,636.52 265.10,636.52 266.16,631.23 270.39,631.23 270.81,620.66 276.73,620.66 277.16,609.02 288.37,609.02 289.00,598.44 294.71,598.44 295.35,591.46 302.54,591.46 304.23,587.87 308.47,585.75 314.81,584.69 319.04,583.00 325.39,582.15 333.85,581.52 347.60,581.10" fill="none" stroke="#d0112b" stroke-width="1.5" stroke-linejoin="miter" stroke-dasharray="3.2,2.2"/>
<polyline points="253.46,675.03 254.94,675.03 254.94,656.62 256.00,656.62 256.64,639.70 258.12,639.70 258.75,628.06 259.81,628.06 260.23,622.77 261.50,622.77 261.92,616.43 268.27,616.43 268.69,610.08 278.43,610.08 278.85,592.73 302.54,592.73 303.18,587.23 304.23,587.23 304.66,581.10 347.60,581.10" fill="none" stroke="#1f5591" stroke-width="1.5" stroke-linejoin="miter"/>
<rect x="249.20" y="576.50" width="101.80" height="102.80" fill="none" stroke="#111" stroke-width="1.2"/>
<text x="305.80" y="627.60" font-size="9.12" text-anchor="middle" fill="#222" stroke="#222" stroke-width="0.2" textLength="47.6" lengthAdjust="spacingAndGlyphs">Fragmentation</text>
<text x="306.30" y="636.70" font-size="9.12" text-anchor="middle" fill="#222" stroke="#222" stroke-width="0.2" textLength="50.7" lengthAdjust="spacingAndGlyphs">(random forest)</text>
<line x1="334.90" y1="628.70" x2="346.50" y2="628.70" stroke="#1f5591" stroke-width="1.5"/>
<text x="330.20" y="646.50" font-size="8.5" text-anchor="middle" font-weight="bold" fill="#1f5591" textLength="36" lengthAdjust="spacingAndGlyphs">AUC: 0.84</text>
<text x="309.50" y="657.20" font-size="9.12" text-anchor="middle" fill="#222" stroke="#222" stroke-width="0.2" textLength="31" lengthAdjust="spacingAndGlyphs">MRD test</text>
<text x="309.30" y="666.30" font-size="9.12" text-anchor="middle" fill="#222" stroke="#222" stroke-width="0.2" textLength="44.8" lengthAdjust="spacingAndGlyphs">(Monte Carlo)</text>
<line x1="334.90" y1="658.30" x2="347.50" y2="658.30" stroke="#d0112b" stroke-width="1.5" stroke-dasharray="3.2,2.2"/>
<text x="330.20" y="675.20" font-size="8.5" text-anchor="middle" font-weight="bold" fill="#d0112b" textLength="36" lengthAdjust="spacingAndGlyphs">AUC: 0.78</text>
<text x="367.50" y="533.70" font-size="12" font-weight="bold" fill="#000">H</text>
<line x1="399.40" y1="537.50" x2="399.40" y2="625.20" stroke="#111" stroke-width="1.1"/>
<line x1="398.90" y1="624.70" x2="501.00" y2="624.70" stroke="#111" stroke-width="1.1"/>
<line x1="397.20" y1="542.20" x2="399.60" y2="542.20" stroke="#111" stroke-width="0.9"/>
<text x="394.20" y="545.10" font-size="9.69" text-anchor="end" fill="#222" stroke="#222" stroke-width="0.2" textLength="14" lengthAdjust="spacingAndGlyphs">1.00</text>
<line x1="397.20" y1="562.05" x2="399.60" y2="562.05" stroke="#111" stroke-width="0.9"/>
<text x="394.20" y="564.95" font-size="9.69" text-anchor="end" fill="#222" stroke="#222" stroke-width="0.2" textLength="14" lengthAdjust="spacingAndGlyphs">0.75</text>
<line x1="397.20" y1="581.90" x2="399.60" y2="581.90" stroke="#111" stroke-width="0.9"/>
<text x="394.20" y="584.80" font-size="9.69" text-anchor="end" fill="#222" stroke="#222" stroke-width="0.2" textLength="14" lengthAdjust="spacingAndGlyphs">0.50</text>
<line x1="397.20" y1="601.75" x2="399.60" y2="601.75" stroke="#111" stroke-width="0.9"/>
<text x="394.20" y="604.65" font-size="9.69" text-anchor="end" fill="#222" stroke="#222" stroke-width="0.2" textLength="14" lengthAdjust="spacingAndGlyphs">0.25</text>
<line x1="397.20" y1="621.60" x2="399.60" y2="621.60" stroke="#111" stroke-width="0.9"/>
<text x="394.20" y="624.50" font-size="9.69" text-anchor="end" fill="#222" stroke="#222" stroke-width="0.2" textLength="14" lengthAdjust="spacingAndGlyphs">0.00</text>
<line x1="404.20" y1="624.70" x2="404.20" y2="627.20" stroke="#111" stroke-width="0.9"/>
<text x="404.20" y="637.00" font-size="9.12" text-anchor="middle" fill="#222" stroke="#222" stroke-width="0.2" textLength="4.3" lengthAdjust="spacingAndGlyphs">0</text>
<line x1="427.80" y1="624.70" x2="427.80" y2="627.20" stroke="#111" stroke-width="0.9"/>
<text x="427.80" y="637.00" font-size="9.12" text-anchor="middle" fill="#222" stroke="#222" stroke-width="0.2" textLength="8.5" lengthAdjust="spacingAndGlyphs">20</text>
<line x1="451.40" y1="624.70" x2="451.40" y2="627.20" stroke="#111" stroke-width="0.9"/>
<text x="451.40" y="637.00" font-size="9.12" text-anchor="middle" fill="#222" stroke="#222" stroke-width="0.2" textLength="8.5" lengthAdjust="spacingAndGlyphs">40</text>
<line x1="475.00" y1="624.70" x2="475.00" y2="627.20" stroke="#111" stroke-width="0.9"/>
<text x="475.00" y="637.00" font-size="9.12" text-anchor="middle" fill="#222" stroke="#222" stroke-width="0.2" textLength="8.5" lengthAdjust="spacingAndGlyphs">60</text>
<line x1="498.60" y1="624.70" x2="498.60" y2="627.20" stroke="#111" stroke-width="0.9"/>
<text x="498.60" y="637.00" font-size="9.12" text-anchor="middle" fill="#222" stroke="#222" stroke-width="0.2" textLength="8.5" lengthAdjust="spacingAndGlyphs">80</text>
<text x="450.70" y="647.50" font-size="9.69" text-anchor="middle" fill="#222" stroke="#222" stroke-width="0.2" textLength="97.4" lengthAdjust="spacingAndGlyphs">Failure free survival (months)</text>
<text x="376.00" y="581.00" font-size="9.69" text-anchor="middle" fill="#222" stroke="#222" stroke-width="0.2" textLength="65" lengthAdjust="spacingAndGlyphs" transform="rotate(-90 376.00 581.00)">Survival probability</text>
<polyline points="404.20,541.70 408.20,541.70 408.20,568.70 418.30,568.70 418.30,581.90 426.20,581.90 426.20,593.90 428.20,593.90 428.20,607.10 460.40,607.10" fill="none" stroke="#c8102e" stroke-width="1.3" stroke-linejoin="miter"/>
<polyline points="404.20,541.70 409.90,541.70 409.90,561.00 427.50,561.00 427.50,581.20 482.00,581.20" fill="none" stroke="#f5a21b" stroke-width="1.3" stroke-linejoin="miter"/>
<polyline points="404.20,541.70 410.60,541.70 410.60,553.00 415.40,553.00 415.40,564.30 430.60,564.30 430.60,576.30 432.70,576.30 432.70,586.70 493.60,586.70" fill="none" stroke="#1f5591" stroke-width="1.3" stroke-linejoin="miter"/>
<polyline points="404.20,541.70 410.60,541.70 410.60,544.60 421.40,544.60 421.40,546.50 425.00,546.50 425.00,548.20 428.70,548.20 428.70,551.30 443.00,551.30 443.00,553.00 447.90,553.00 447.90,554.20 452.70,554.20 452.70,556.60 479.10,556.60 479.10,559.00 515.20,559.00" fill="none" stroke="#5b2c83" stroke-width="1.3" stroke-linejoin="miter"/>
<line x1="458.00" y1="555.30" x2="458.00" y2="557.90" stroke="#5b2c83" stroke-width="0.6"/>
<line x1="462.00" y1="555.30" x2="462.00" y2="557.90" stroke="#5b2c83" stroke-width="0.6"/>
<line x1="466.00" y1="555.30" x2="466.00" y2="557.90" stroke="#5b2c83" stroke-width="0.6"/>
<line x1="470.00" y1="555.30" x2="470.00" y2="557.90" stroke="#5b2c83" stroke-width="0.6"/>
<line x1="474.00" y1="555.30" x2="474.00" y2="557.90" stroke="#5b2c83" stroke-width="0.6"/>
<line x1="478.00" y1="555.30" x2="478.00" y2="557.90" stroke="#5b2c83" stroke-width="0.6"/>
<line x1="483.00" y1="557.70" x2="483.00" y2="560.30" stroke="#5b2c83" stroke-width="0.6"/>
<line x1="487.00" y1="557.70" x2="487.00" y2="560.30" stroke="#5b2c83" stroke-width="0.6"/>
<line x1="491.00" y1="557.70" x2="491.00" y2="560.30" stroke="#5b2c83" stroke-width="0.6"/>
<line x1="495.00" y1="557.70" x2="495.00" y2="560.30" stroke="#5b2c83" stroke-width="0.6"/>
<line x1="499.00" y1="557.70" x2="499.00" y2="560.30" stroke="#5b2c83" stroke-width="0.6"/>
<line x1="503.00" y1="557.70" x2="503.00" y2="560.30" stroke="#5b2c83" stroke-width="0.6"/>
<line x1="507.00" y1="557.70" x2="507.00" y2="560.30" stroke="#5b2c83" stroke-width="0.6"/>
<line x1="511.00" y1="557.70" x2="511.00" y2="560.30" stroke="#5b2c83" stroke-width="0.6"/>
<text x="482.30" y="552.30" font-size="9.12" text-anchor="middle" fill="#222" stroke="#222" stroke-width="0.2" textLength="45" lengthAdjust="spacingAndGlyphs">Both negative</text>
<text x="480.80" y="576.80" font-size="9.12" text-anchor="middle" fill="#222" stroke="#222" stroke-width="0.2" textLength="37" lengthAdjust="spacingAndGlyphs">MRD+/RF−</text>
<text x="480.80" y="596.40" font-size="9.12" text-anchor="middle" fill="#222" stroke="#222" stroke-width="0.2" textLength="37" lengthAdjust="spacingAndGlyphs">MRD−/RF+</text>
<text x="405" y="619.6" font-size="9" fill="#222" stroke="#222" stroke-width="0.2" textLength="35" lengthAdjust="spacingAndGlyphs"><tspan font-style="italic">P</tspan> &lt; 0.0001</text>
<text x="480.80" y="611.00" font-size="9.12" text-anchor="middle" fill="#222" stroke="#222" stroke-width="0.2" textLength="37" lengthAdjust="spacingAndGlyphs">MRD+/RF+</text>
<text x="371.50" y="661.70" font-size="8.55" fill="#222" stroke="#222" stroke-width="0.2" textLength="77.8" lengthAdjust="spacingAndGlyphs">MRD/RF number at risk</text>
<line x1="397.90" y1="664.00" x2="397.90" y2="692.50" stroke="#111" stroke-width="0.9"/>
<line x1="397.40" y1="694.00" x2="508.00" y2="694.00" stroke="#111" stroke-width="0.9"/>
<line x1="372.50" y1="668.30" x2="376.60" y2="668.30" stroke="#c8102e" stroke-width="1.4"/>
<text x="385.50" y="670.90" font-size="8.55" text-anchor="middle" fill="#222" stroke="#222" stroke-width="0.2" textLength="11.5" lengthAdjust="spacingAndGlyphs">+/+</text>
<line x1="395.80" y1="668.30" x2="397.90" y2="668.30" stroke="#111" stroke-width="0.9"/>
<text x="403.30" y="670.90" font-size="8.55" fill="#222" stroke="#222" stroke-width="0.2" textLength="3.8" lengthAdjust="spacingAndGlyphs">6</text>
<text x="429.35" y="670.90" font-size="8.55" text-anchor="middle" fill="#222" stroke="#222" stroke-width="0.2" textLength="3.8" lengthAdjust="spacingAndGlyphs">3</text>
<text x="455.40" y="670.90" font-size="8.55" text-anchor="middle" fill="#222" stroke="#222" stroke-width="0.2" textLength="3.8" lengthAdjust="spacingAndGlyphs">1</text>
<text x="481.45" y="670.90" font-size="8.55" text-anchor="middle" fill="#222" stroke="#222" stroke-width="0.2" textLength="3.8" lengthAdjust="spacingAndGlyphs">0</text>
<text x="507.50" y="670.90" font-size="8.55" text-anchor="middle" fill="#222" stroke="#222" stroke-width="0.2" textLength="3.8" lengthAdjust="spacingAndGlyphs">0</text>
<line x1="372.50" y1="674.90" x2="376.60" y2="674.90" stroke="#1f5591" stroke-width="1.4"/>
<text x="385.50" y="677.50" font-size="8.55" text-anchor="middle" fill="#222" stroke="#222" stroke-width="0.2" textLength="11.5" lengthAdjust="spacingAndGlyphs">−/+</text>
<line x1="395.80" y1="674.90" x2="397.90" y2="674.90" stroke="#111" stroke-width="0.9"/>
<text x="403.30" y="677.50" font-size="8.55" fill="#222" stroke="#222" stroke-width="0.2" textLength="3.8" lengthAdjust="spacingAndGlyphs">7</text>
<text x="429.35" y="677.50" font-size="8.55" text-anchor="middle" fill="#222" stroke="#222" stroke-width="0.2" textLength="3.8" lengthAdjust="spacingAndGlyphs">5</text>
<text x="455.40" y="677.50" font-size="8.55" text-anchor="middle" fill="#222" stroke="#222" stroke-width="0.2" textLength="3.8" lengthAdjust="spacingAndGlyphs">3</text>
<text x="481.45" y="677.50" font-size="8.55" text-anchor="middle" fill="#222" stroke="#222" stroke-width="0.2" textLength="3.8" lengthAdjust="spacingAndGlyphs">3</text>
<text x="507.50" y="677.50" font-size="8.55" text-anchor="middle" fill="#222" stroke="#222" stroke-width="0.2" textLength="3.8" lengthAdjust="spacingAndGlyphs">0</text>
<line x1="372.50" y1="681.90" x2="376.60" y2="681.90" stroke="#f5a21b" stroke-width="1.4"/>
<text x="385.50" y="684.50" font-size="8.55" text-anchor="middle" fill="#222" stroke="#222" stroke-width="0.2" textLength="11.5" lengthAdjust="spacingAndGlyphs">+/−</text>
<line x1="395.80" y1="681.90" x2="397.90" y2="681.90" stroke="#111" stroke-width="0.9"/>
<text x="403.30" y="684.50" font-size="8.55" fill="#222" stroke="#222" stroke-width="0.2" textLength="3.8" lengthAdjust="spacingAndGlyphs">4</text>
<text x="429.35" y="684.50" font-size="8.55" text-anchor="middle" fill="#222" stroke="#222" stroke-width="0.2" textLength="3.8" lengthAdjust="spacingAndGlyphs">3</text>
<text x="455.40" y="684.50" font-size="8.55" text-anchor="middle" fill="#222" stroke="#222" stroke-width="0.2" textLength="3.8" lengthAdjust="spacingAndGlyphs">2</text>
<text x="481.45" y="684.50" font-size="8.55" text-anchor="middle" fill="#222" stroke="#222" stroke-width="0.2" textLength="3.8" lengthAdjust="spacingAndGlyphs">1</text>
<text x="507.50" y="684.50" font-size="8.55" text-anchor="middle" fill="#222" stroke="#222" stroke-width="0.2" textLength="3.8" lengthAdjust="spacingAndGlyphs">0</text>
<line x1="372.50" y1="688.90" x2="376.60" y2="688.90" stroke="#5b2c83" stroke-width="1.4"/>
<text x="385.50" y="691.50" font-size="8.55" text-anchor="middle" fill="#222" stroke="#222" stroke-width="0.2" textLength="11.5" lengthAdjust="spacingAndGlyphs">−/−</text>
<line x1="395.80" y1="688.90" x2="397.90" y2="688.90" stroke="#111" stroke-width="0.9"/>
<text x="403.30" y="691.50" font-size="8.55" fill="#222" stroke="#222" stroke-width="0.2" textLength="7.6" lengthAdjust="spacingAndGlyphs">54</text>
<text x="429.35" y="691.50" font-size="8.55" text-anchor="middle" fill="#222" stroke="#222" stroke-width="0.2" textLength="7.6" lengthAdjust="spacingAndGlyphs">49</text>
<text x="455.40" y="691.50" font-size="8.55" text-anchor="middle" fill="#222" stroke="#222" stroke-width="0.2" textLength="7.6" lengthAdjust="spacingAndGlyphs">45</text>
<text x="481.45" y="691.50" font-size="8.55" text-anchor="middle" fill="#222" stroke="#222" stroke-width="0.2" textLength="7.6" lengthAdjust="spacingAndGlyphs">29</text>
<text x="507.50" y="691.50" font-size="8.55" text-anchor="middle" fill="#222" stroke="#222" stroke-width="0.2" textLength="3.8" lengthAdjust="spacingAndGlyphs">3</text>
<line x1="403.30" y1="694.00" x2="403.30" y2="696.50" stroke="#111" stroke-width="0.9"/>
<text x="403.30" y="704.30" font-size="9.12" text-anchor="middle" fill="#222" stroke="#222" stroke-width="0.2" textLength="4.3" lengthAdjust="spacingAndGlyphs">0</text>
<line x1="429.35" y1="694.00" x2="429.35" y2="696.50" stroke="#111" stroke-width="0.9"/>
<text x="429.35" y="704.30" font-size="9.12" text-anchor="middle" fill="#222" stroke="#222" stroke-width="0.2" textLength="8.5" lengthAdjust="spacingAndGlyphs">20</text>
<line x1="455.40" y1="694.00" x2="455.40" y2="696.50" stroke="#111" stroke-width="0.9"/>
<text x="455.40" y="704.30" font-size="9.12" text-anchor="middle" fill="#222" stroke="#222" stroke-width="0.2" textLength="8.5" lengthAdjust="spacingAndGlyphs">40</text>
<line x1="481.45" y1="694.00" x2="481.45" y2="696.50" stroke="#111" stroke-width="0.9"/>
<text x="481.45" y="704.30" font-size="9.12" text-anchor="middle" fill="#222" stroke="#222" stroke-width="0.2" textLength="8.5" lengthAdjust="spacingAndGlyphs">60</text>
<line x1="507.50" y1="694.00" x2="507.50" y2="696.50" stroke="#111" stroke-width="0.9"/>
<text x="507.50" y="704.30" font-size="9.12" text-anchor="middle" fill="#222" stroke="#222" stroke-width="0.2" textLength="8.5" lengthAdjust="spacingAndGlyphs">80</text>
</svg></body></html>
